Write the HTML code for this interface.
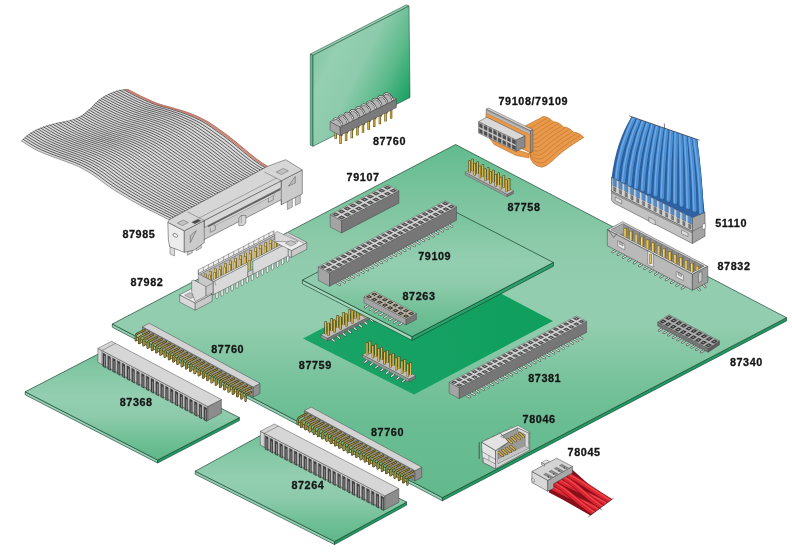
<!DOCTYPE html>
<html><head><meta charset="utf-8"><title>Connectors</title>
<style>
html,body{margin:0;padding:0;background:#fff;}
body{width:792px;height:558px;overflow:hidden;}
svg{display:block;}
text{font-family:"Liberation Sans",sans-serif;font-weight:bold;font-size:10.8px;letter-spacing:0.6px;fill:#151515;stroke:#151515;stroke-width:0.3px;}
</style></head><body>
<svg width="792" height="558" viewBox="0 0 792 558">
<defs><linearGradient id="gMain" gradientUnits="userSpaceOnUse" x1="0" y1="145.0" x2="0" y2="497.0"><stop offset="0.000" stop-color="#62bb8e"/><stop offset="0.156" stop-color="#7cc49f"/><stop offset="0.276" stop-color="#8ccaaa"/><stop offset="0.412" stop-color="#93cdb0"/><stop offset="0.511" stop-color="#92cdaf"/><stop offset="0.554" stop-color="#8bcaa9"/><stop offset="0.673" stop-color="#77c29b"/><stop offset="0.781" stop-color="#6abd93"/><stop offset="1.000" stop-color="#62b98c"/></linearGradient><linearGradient id="gSub" gradientUnits="userSpaceOnUse" x1="0" y1="206.0" x2="0" y2="337.0"><stop offset="0.000" stop-color="#70c098"/><stop offset="0.200" stop-color="#84c8a5"/><stop offset="0.420" stop-color="#93ceb1"/><stop offset="0.600" stop-color="#8dcbac"/><stop offset="0.800" stop-color="#72c097"/><stop offset="1.000" stop-color="#5eb78a"/></linearGradient><linearGradient id="gS1" gradientUnits="userSpaceOnUse" x1="0" y1="350.0" x2="0" y2="460.0"><stop offset="0.000" stop-color="#70c098"/><stop offset="0.200" stop-color="#84c8a5"/><stop offset="0.420" stop-color="#93ceb1"/><stop offset="0.600" stop-color="#8dcbac"/><stop offset="0.800" stop-color="#72c097"/><stop offset="1.000" stop-color="#5eb78a"/></linearGradient><linearGradient id="gS2" gradientUnits="userSpaceOnUse" x1="0" y1="432.0" x2="0" y2="541.5"><stop offset="0.000" stop-color="#70c098"/><stop offset="0.200" stop-color="#84c8a5"/><stop offset="0.420" stop-color="#93ceb1"/><stop offset="0.600" stop-color="#8dcbac"/><stop offset="0.800" stop-color="#72c097"/><stop offset="1.000" stop-color="#5eb78a"/></linearGradient><linearGradient id="gVert" gradientUnits="userSpaceOnUse" x1="313" y1="55" x2="408.4" y2="101.6">
<stop offset="0" stop-color="#84c8a5"/><stop offset="0.17" stop-color="#94cfb2"/><stop offset="0.45" stop-color="#8dcbac"/><stop offset="0.72" stop-color="#5cba8b"/><stop offset="1" stop-color="#18a061"/>
</linearGradient>
<linearGradient id="gDark" gradientUnits="userSpaceOnUse" x1="303" y1="340" x2="553" y2="320">
<stop offset="0" stop-color="#1aa467"/><stop offset="1" stop-color="#0f9e5e"/>
</linearGradient>
</defs>
<polygon points="310.3,54.0 313.0,55.3 313.0,146.3 310.3,145.0" fill="#62ba8d" stroke="#1c4634" stroke-width="0.5" stroke-linejoin="round"/>
<polygon points="310.3,54.0 406.3,4.8 409.0,6.0 313.0,55.3" fill="#8fceae" stroke="#1c4634" stroke-width="0.5" stroke-linejoin="round"/>
<polygon points="313.0,55.3 409.0,6.0 410.0,97.5 313.0,146.3" fill="url(#gVert)" stroke="#1c4634" stroke-width="0.55" stroke-linejoin="round"/>
<polygon points="112.3,324.0 442.4,497.6 442.4,500.8 112.3,327.2" fill="#93d0b2" stroke="#1c4634" stroke-width="0.65" stroke-linejoin="round"/>
<polygon points="442.4,497.6 786.5,317.7 786.5,320.9 442.4,500.8" fill="#1f9c62" stroke="#1c4634" stroke-width="0.65" stroke-linejoin="round"/>
<polygon points="112.3,324.0 455.6,144.5 786.5,317.7 442.4,497.6" fill="url(#gMain)" stroke="#1c4634" stroke-width="0.7" stroke-linejoin="round"/>
<polygon points="465.2,172.2 507.2,194.2 507.2,196.8 465.2,174.8" fill="#9a9a9a" stroke="#444" stroke-width="0.35" stroke-linejoin="round"/>
<polygon points="507.2,194.2 513.5,190.9 513.5,193.5 507.2,196.8" fill="#777" stroke="#444" stroke-width="0.35" stroke-linejoin="round"/>
<polygon points="465.2,172.2 507.2,194.2 513.5,190.9 471.5,168.9" fill="#bdbdbd" stroke="#444" stroke-width="0.35" stroke-linejoin="round"/>
<rect x="471.1" y="158.7" width="2.5" height="12.5" rx="0.7" fill="#463a10"/>
<rect x="471.6" y="159.2" width="1.5" height="12.0" fill="#bd9f38"/>
<rect x="471.7" y="159.6" width="0.6" height="11.1" fill="#e9d377"/>
<rect x="476.4" y="161.5" width="2.5" height="12.5" rx="0.7" fill="#463a10"/>
<rect x="476.8" y="162.0" width="1.5" height="12.0" fill="#bd9f38"/>
<rect x="477.0" y="162.4" width="0.6" height="11.1" fill="#e9d377"/>
<rect x="481.6" y="164.2" width="2.5" height="12.5" rx="0.7" fill="#463a10"/>
<rect x="482.1" y="164.7" width="1.5" height="12.0" fill="#bd9f38"/>
<rect x="482.2" y="165.1" width="0.6" height="11.1" fill="#e9d377"/>
<rect x="486.9" y="167.0" width="2.5" height="12.5" rx="0.7" fill="#463a10"/>
<rect x="487.3" y="167.5" width="1.5" height="12.0" fill="#bd9f38"/>
<rect x="487.5" y="167.9" width="0.6" height="11.1" fill="#e9d377"/>
<rect x="492.1" y="169.7" width="2.5" height="12.5" rx="0.7" fill="#463a10"/>
<rect x="492.6" y="170.2" width="1.5" height="12.0" fill="#bd9f38"/>
<rect x="492.7" y="170.6" width="0.6" height="11.1" fill="#e9d377"/>
<rect x="497.4" y="172.5" width="2.5" height="12.5" rx="0.7" fill="#463a10"/>
<rect x="497.8" y="173.0" width="1.5" height="12.0" fill="#bd9f38"/>
<rect x="498.0" y="173.4" width="0.6" height="11.1" fill="#e9d377"/>
<rect x="502.6" y="175.2" width="2.5" height="12.5" rx="0.7" fill="#463a10"/>
<rect x="503.1" y="175.7" width="1.5" height="12.0" fill="#bd9f38"/>
<rect x="503.2" y="176.1" width="0.6" height="11.1" fill="#e9d377"/>
<rect x="507.9" y="178.0" width="2.5" height="12.5" rx="0.7" fill="#463a10"/>
<rect x="508.3" y="178.5" width="1.5" height="12.0" fill="#bd9f38"/>
<rect x="508.5" y="178.9" width="0.6" height="11.1" fill="#e9d377"/>
<rect x="468.3" y="160.2" width="2.5" height="12.5" rx="0.7" fill="#463a10"/>
<rect x="468.8" y="160.7" width="1.5" height="12.0" fill="#bd9f38"/>
<rect x="468.9" y="161.1" width="0.6" height="11.1" fill="#e9d377"/>
<rect x="473.6" y="162.9" width="2.5" height="12.5" rx="0.7" fill="#463a10"/>
<rect x="474.0" y="163.4" width="1.5" height="12.0" fill="#bd9f38"/>
<rect x="474.2" y="163.8" width="0.6" height="11.1" fill="#e9d377"/>
<rect x="478.8" y="165.7" width="2.5" height="12.5" rx="0.7" fill="#463a10"/>
<rect x="479.3" y="166.2" width="1.5" height="12.0" fill="#bd9f38"/>
<rect x="479.4" y="166.6" width="0.6" height="11.1" fill="#e9d377"/>
<rect x="484.1" y="168.4" width="2.5" height="12.5" rx="0.7" fill="#463a10"/>
<rect x="484.5" y="168.9" width="1.5" height="12.0" fill="#bd9f38"/>
<rect x="484.7" y="169.3" width="0.6" height="11.1" fill="#e9d377"/>
<rect x="489.3" y="171.2" width="2.5" height="12.5" rx="0.7" fill="#463a10"/>
<rect x="489.8" y="171.7" width="1.5" height="12.0" fill="#bd9f38"/>
<rect x="489.9" y="172.1" width="0.6" height="11.1" fill="#e9d377"/>
<rect x="494.6" y="173.9" width="2.5" height="12.5" rx="0.7" fill="#463a10"/>
<rect x="495.0" y="174.4" width="1.5" height="12.0" fill="#bd9f38"/>
<rect x="495.2" y="174.8" width="0.6" height="11.1" fill="#e9d377"/>
<rect x="499.8" y="176.7" width="2.5" height="12.5" rx="0.7" fill="#463a10"/>
<rect x="500.3" y="177.2" width="1.5" height="12.0" fill="#bd9f38"/>
<rect x="500.4" y="177.6" width="0.6" height="11.1" fill="#e9d377"/>
<rect x="505.1" y="179.4" width="2.5" height="12.5" rx="0.7" fill="#463a10"/>
<rect x="505.5" y="179.9" width="1.5" height="12.0" fill="#bd9f38"/>
<rect x="505.7" y="180.3" width="0.6" height="11.1" fill="#e9d377"/>
<polygon points="330.2,214.5 341.6,220.5 341.6,233.0 330.2,227.0" fill="#a4a4a4" stroke="#3a3a3a" stroke-width="0.4" stroke-linejoin="round"/>
<polygon points="341.6,220.5 398.9,190.7 398.9,203.2 341.6,233.0" fill="#767676" stroke="#3a3a3a" stroke-width="0.4" stroke-linejoin="round"/>
<polygon points="330.2,214.5 341.6,220.5 398.9,190.7 387.5,184.7" fill="#c2c2c2" stroke="#3a3a3a" stroke-width="0.4" stroke-linejoin="round"/>
<path d="M332.1,214.5L335.9,216.5L339.7,214.5L335.9,212.5ZM337.8,217.5L341.6,219.5L345.4,217.5L341.6,215.5ZM337.9,211.5L341.6,213.5L345.4,211.5L341.7,209.6ZM343.6,214.5L347.3,216.5L351.1,214.5L347.4,212.5ZM343.6,208.5L347.4,210.5L351.1,208.5L347.4,206.6ZM349.3,211.5L353.1,213.5L356.8,211.5L353.1,209.6ZM349.3,205.6L353.1,207.5L356.9,205.6L353.1,203.6ZM355.0,208.5L358.8,210.5L362.6,208.6L358.8,206.6ZM355.1,202.6L358.8,204.6L362.6,202.6L358.8,200.6ZM360.8,205.6L364.5,207.5L368.3,205.6L364.5,203.6ZM360.8,199.6L364.6,201.6L368.3,199.6L364.6,197.6ZM366.5,202.6L370.3,204.6L374.0,202.6L370.3,200.6ZM366.5,196.6L370.3,198.6L374.1,196.6L370.3,194.7ZM372.2,199.6L376.0,201.6L379.8,199.6L376.0,197.6ZM372.3,193.6L376.0,195.6L379.8,193.6L376.0,191.7ZM378.0,196.6L381.7,198.6L385.5,196.6L381.7,194.7ZM378.0,190.7L381.7,192.6L385.5,190.7L381.8,188.7ZM383.7,193.7L387.4,195.6L391.2,193.7L387.5,191.7ZM383.7,187.7L387.5,189.7L391.3,187.7L387.5,185.7ZM389.4,190.7L393.2,192.6L397.0,190.7L393.2,188.7Z" fill="#4c4c4c"/>
<path d="M334.5,214.5L335.9,215.2L337.3,214.5L335.9,213.8ZM340.2,217.5L341.6,218.2L343.0,217.5L341.6,216.8ZM340.3,211.5L341.6,212.2L343.0,211.5L341.6,210.8ZM346.0,214.5L347.3,215.2L348.7,214.5L347.3,213.8ZM346.0,208.5L347.4,209.3L348.7,208.5L347.4,207.8ZM351.7,211.5L353.1,212.2L354.4,211.5L353.1,210.8ZM351.7,205.6L353.1,206.3L354.5,205.6L353.1,204.8ZM357.4,208.6L358.8,209.3L360.2,208.6L358.8,207.8ZM357.5,202.6L358.8,203.3L360.2,202.6L358.8,201.9ZM363.2,205.6L364.5,206.3L365.9,205.6L364.5,204.9ZM363.2,199.6L364.6,200.3L365.9,199.6L364.6,198.9ZM368.9,202.6L370.3,203.3L371.6,202.6L370.3,201.9ZM368.9,196.6L370.3,197.3L371.7,196.6L370.3,195.9ZM374.6,199.6L376.0,200.3L377.4,199.6L376.0,198.9ZM374.7,193.6L376.0,194.4L377.4,193.6L376.0,192.9ZM380.4,196.6L381.7,197.3L383.1,196.6L381.7,195.9ZM380.4,190.7L381.8,191.4L383.1,190.7L381.8,190.0ZM386.1,193.7L387.5,194.4L388.8,193.7L387.5,192.9ZM386.1,187.7L387.5,188.4L388.9,187.7L387.5,187.0ZM391.8,190.7L393.2,191.4L394.6,190.7L393.2,190.0Z" fill="#9c9c9c"/>
<path d="M335.9,211.5L347.3,217.5M341.7,208.5L353.1,214.5M347.4,205.6L358.8,211.5M353.1,202.6L364.5,208.6M358.8,199.6L370.2,205.6M364.6,196.6L376.0,202.6M370.3,193.6L381.7,199.6M376.0,190.7L387.4,196.6M381.8,187.7L393.2,193.7M335.9,217.5L393.2,187.7" fill="none" stroke="#e9e9e9" stroke-width="0.5" stroke-linejoin="round" stroke-linecap="round"/>
<polyline points="662.0,327.0 662.0,328.8 659.0,330.5" fill="none" stroke="#4a4a4a" stroke-width="2.3" stroke-linecap="round" stroke-linejoin="round"/>
<polyline points="662.0,327.0 662.0,328.8 659.0,330.5" fill="none" stroke="#cfcfcf" stroke-width="1.2" stroke-linecap="round" stroke-linejoin="round"/>
<polyline points="666.7,329.4 666.7,331.2 663.7,332.9" fill="none" stroke="#4a4a4a" stroke-width="2.3" stroke-linecap="round" stroke-linejoin="round"/>
<polyline points="666.7,329.4 666.7,331.2 663.7,332.9" fill="none" stroke="#cfcfcf" stroke-width="1.2" stroke-linecap="round" stroke-linejoin="round"/>
<polyline points="671.3,331.8 671.3,333.6 668.3,335.3" fill="none" stroke="#4a4a4a" stroke-width="2.3" stroke-linecap="round" stroke-linejoin="round"/>
<polyline points="671.3,331.8 671.3,333.6 668.3,335.3" fill="none" stroke="#cfcfcf" stroke-width="1.2" stroke-linecap="round" stroke-linejoin="round"/>
<polyline points="676.0,334.2 676.0,336.0 673.0,337.7" fill="none" stroke="#4a4a4a" stroke-width="2.3" stroke-linecap="round" stroke-linejoin="round"/>
<polyline points="676.0,334.2 676.0,336.0 673.0,337.7" fill="none" stroke="#cfcfcf" stroke-width="1.2" stroke-linecap="round" stroke-linejoin="round"/>
<polyline points="680.6,336.6 680.6,338.4 677.6,340.1" fill="none" stroke="#4a4a4a" stroke-width="2.3" stroke-linecap="round" stroke-linejoin="round"/>
<polyline points="680.6,336.6 680.6,338.4 677.6,340.1" fill="none" stroke="#cfcfcf" stroke-width="1.2" stroke-linecap="round" stroke-linejoin="round"/>
<polyline points="685.3,339.0 685.3,340.8 682.3,342.5" fill="none" stroke="#4a4a4a" stroke-width="2.3" stroke-linecap="round" stroke-linejoin="round"/>
<polyline points="685.3,339.0 685.3,340.8 682.3,342.5" fill="none" stroke="#cfcfcf" stroke-width="1.2" stroke-linecap="round" stroke-linejoin="round"/>
<polyline points="689.9,341.5 689.9,343.3 686.9,345.0" fill="none" stroke="#4a4a4a" stroke-width="2.3" stroke-linecap="round" stroke-linejoin="round"/>
<polyline points="689.9,341.5 689.9,343.3 686.9,345.0" fill="none" stroke="#cfcfcf" stroke-width="1.2" stroke-linecap="round" stroke-linejoin="round"/>
<polyline points="694.6,343.9 694.6,345.7 691.6,347.4" fill="none" stroke="#4a4a4a" stroke-width="2.3" stroke-linecap="round" stroke-linejoin="round"/>
<polyline points="694.6,343.9 694.6,345.7 691.6,347.4" fill="none" stroke="#cfcfcf" stroke-width="1.2" stroke-linecap="round" stroke-linejoin="round"/>
<polyline points="699.2,346.3 699.2,348.1 696.2,349.8" fill="none" stroke="#4a4a4a" stroke-width="2.3" stroke-linecap="round" stroke-linejoin="round"/>
<polyline points="699.2,346.3 699.2,348.1 696.2,349.8" fill="none" stroke="#cfcfcf" stroke-width="1.2" stroke-linecap="round" stroke-linejoin="round"/>
<polyline points="703.9,348.7 703.9,350.5 700.9,352.2" fill="none" stroke="#4a4a4a" stroke-width="2.3" stroke-linecap="round" stroke-linejoin="round"/>
<polyline points="703.9,348.7 703.9,350.5 700.9,352.2" fill="none" stroke="#cfcfcf" stroke-width="1.2" stroke-linecap="round" stroke-linejoin="round"/>
<polygon points="657.7,322.1 708.2,348.4 708.2,352.2 657.7,325.9" fill="#777" stroke="#3a3a3a" stroke-width="0.4" stroke-linejoin="round"/>
<polygon points="708.2,348.4 719.5,341.0 719.5,344.8 708.2,352.2" fill="#5c5c5c" stroke="#3a3a3a" stroke-width="0.4" stroke-linejoin="round"/>
<polygon points="657.7,322.1 708.2,348.4 719.5,341.0 669.0,314.8" fill="#9c9c9c" stroke="#3a3a3a" stroke-width="0.4" stroke-linejoin="round"/>
<path d="M659.6,321.9L662.9,323.6L666.5,321.2L663.2,319.6ZM664.7,324.5L667.9,326.2L671.5,323.9L668.3,322.2ZM669.7,327.2L673.0,328.8L676.6,326.5L673.3,324.8ZM674.8,329.8L678.0,331.5L681.6,329.1L678.4,327.4ZM679.8,332.4L683.1,334.1L686.7,331.7L683.4,330.1ZM684.9,335.0L688.1,336.7L691.7,334.4L688.5,332.7ZM689.9,337.7L693.2,339.3L696.8,337.0L693.5,335.3ZM695.0,340.3L698.2,342.0L701.8,339.6L698.6,337.9ZM700.0,342.9L703.3,344.6L706.9,342.2L703.6,340.6ZM705.1,345.5L708.3,347.2L711.9,344.9L708.7,343.2ZM665.3,318.2L668.5,319.9L672.1,317.6L668.9,315.9ZM670.3,320.9L673.6,322.5L677.2,320.2L673.9,318.5ZM675.4,323.5L678.6,325.2L682.2,322.8L679.0,321.1ZM680.4,326.1L683.7,327.8L687.3,325.4L684.0,323.8ZM685.5,328.7L688.7,330.4L692.3,328.1L689.1,326.4ZM690.5,331.4L693.8,333.0L697.4,330.7L694.1,329.0ZM695.6,334.0L698.8,335.7L702.4,333.3L699.2,331.6ZM700.6,336.6L703.9,338.3L707.5,336.0L704.2,334.3ZM705.7,339.2L708.9,340.9L712.5,338.6L709.3,336.9ZM710.7,341.9L714.0,343.6L717.6,341.2L714.3,339.5Z" fill="#363636"/>
<path d="M661.8,321.7L663.0,322.3L664.3,321.5L663.1,320.8ZM666.8,324.3L668.0,325.0L669.4,324.1L668.2,323.4ZM671.9,327.0L673.1,327.6L674.4,326.7L673.2,326.1ZM676.9,329.6L678.1,330.2L679.5,329.3L678.3,328.7ZM682.0,332.2L683.2,332.8L684.5,332.0L683.3,331.3ZM687.0,334.8L688.2,335.5L689.6,334.6L688.4,334.0ZM692.1,337.5L693.3,338.1L694.6,337.2L693.4,336.6ZM697.1,340.1L698.3,340.7L699.7,339.8L698.5,339.2ZM702.2,342.7L703.4,343.3L704.7,342.5L703.5,341.8ZM707.2,345.3L708.4,346.0L709.8,345.1L708.6,344.5ZM667.4,318.0L668.6,318.7L670.0,317.8L668.8,317.1ZM672.5,320.7L673.7,321.3L675.0,320.4L673.8,319.8ZM677.5,323.3L678.7,323.9L680.1,323.0L678.9,322.4ZM682.6,325.9L683.8,326.5L685.1,325.7L683.9,325.0ZM687.6,328.5L688.8,329.2L690.2,328.3L689.0,327.7ZM692.7,331.2L693.9,331.8L695.2,330.9L694.0,330.3ZM697.7,333.8L698.9,334.4L700.3,333.5L699.1,332.9ZM702.8,336.4L704.0,337.0L705.3,336.2L704.1,335.5ZM707.8,339.0L709.0,339.7L710.4,338.8L709.2,338.2ZM712.9,341.7L714.1,342.3L715.4,341.4L714.2,340.8Z" fill="#9c9c9c"/>
<path d="M663.4,318.4L713.9,344.7M662.8,324.7L674.0,317.4M667.8,327.4L679.1,320.0M672.9,330.0L684.1,322.6M677.9,332.6L689.2,325.3M683.0,335.2L694.2,327.9M688.0,337.9L699.3,330.5M693.1,340.5L704.4,333.1M698.1,343.1L709.4,335.8M703.2,345.7L714.5,338.4" fill="none" stroke="#c4c4c4" stroke-width="0.5" stroke-linejoin="round" stroke-linecap="round"/>
<polygon points="303.0,338.5 445.0,264.0 553.0,321.0 414.0,394.5" fill="url(#gDark)"/>
<polyline points="332.0,337.4 332.0,339.2 334.2,341.0" fill="none" stroke="#4a4a4a" stroke-width="2.3" stroke-linecap="round" stroke-linejoin="round"/>
<polyline points="332.0,337.4 332.0,339.2 334.2,341.0" fill="none" stroke="#e4e4e4" stroke-width="1.2" stroke-linecap="round" stroke-linejoin="round"/>
<polyline points="337.5,334.6 337.5,336.4 339.7,338.2" fill="none" stroke="#4a4a4a" stroke-width="2.3" stroke-linecap="round" stroke-linejoin="round"/>
<polyline points="337.5,334.6 337.5,336.4 339.7,338.2" fill="none" stroke="#e4e4e4" stroke-width="1.2" stroke-linecap="round" stroke-linejoin="round"/>
<polyline points="343.0,331.7 343.0,333.5 345.2,335.3" fill="none" stroke="#4a4a4a" stroke-width="2.3" stroke-linecap="round" stroke-linejoin="round"/>
<polyline points="343.0,331.7 343.0,333.5 345.2,335.3" fill="none" stroke="#e4e4e4" stroke-width="1.2" stroke-linecap="round" stroke-linejoin="round"/>
<polyline points="348.4,328.9 348.4,330.7 350.6,332.5" fill="none" stroke="#4a4a4a" stroke-width="2.3" stroke-linecap="round" stroke-linejoin="round"/>
<polyline points="348.4,328.9 348.4,330.7 350.6,332.5" fill="none" stroke="#e4e4e4" stroke-width="1.2" stroke-linecap="round" stroke-linejoin="round"/>
<polyline points="353.9,326.0 353.9,327.8 356.1,329.6" fill="none" stroke="#4a4a4a" stroke-width="2.3" stroke-linecap="round" stroke-linejoin="round"/>
<polyline points="353.9,326.0 353.9,327.8 356.1,329.6" fill="none" stroke="#e4e4e4" stroke-width="1.2" stroke-linecap="round" stroke-linejoin="round"/>
<polyline points="359.3,323.2 359.3,325.0 361.5,326.8" fill="none" stroke="#4a4a4a" stroke-width="2.3" stroke-linecap="round" stroke-linejoin="round"/>
<polyline points="359.3,323.2 359.3,325.0 361.5,326.8" fill="none" stroke="#e4e4e4" stroke-width="1.2" stroke-linecap="round" stroke-linejoin="round"/>
<polyline points="364.8,320.4 364.8,322.2 367.0,324.0" fill="none" stroke="#4a4a4a" stroke-width="2.3" stroke-linecap="round" stroke-linejoin="round"/>
<polyline points="364.8,320.4 364.8,322.2 367.0,324.0" fill="none" stroke="#e4e4e4" stroke-width="1.2" stroke-linecap="round" stroke-linejoin="round"/>
<polyline points="370.3,317.5 370.3,319.3 372.5,321.1" fill="none" stroke="#4a4a4a" stroke-width="2.3" stroke-linecap="round" stroke-linejoin="round"/>
<polyline points="370.3,317.5 370.3,319.3 372.5,321.1" fill="none" stroke="#e4e4e4" stroke-width="1.2" stroke-linecap="round" stroke-linejoin="round"/>
<polygon points="320.9,334.8 327.4,338.2 327.4,341.0 320.9,337.6" fill="#9a9a9a" stroke="#444" stroke-width="0.35" stroke-linejoin="round"/>
<polygon points="327.4,338.2 374.9,313.5 374.9,316.3 327.4,341.0" fill="#777" stroke="#444" stroke-width="0.35" stroke-linejoin="round"/>
<polygon points="320.9,334.8 327.4,338.2 374.9,313.5 368.4,310.1" fill="#bdbdbd" stroke="#444" stroke-width="0.35" stroke-linejoin="round"/>
<rect x="366.0" y="299.6" width="2.5" height="13.0" rx="0.7" fill="#463a10"/>
<rect x="366.5" y="300.1" width="1.5" height="12.5" fill="#bd9f38"/>
<rect x="366.6" y="300.5" width="0.6" height="11.6" fill="#e9d377"/>
<rect x="360.1" y="302.7" width="2.5" height="13.0" rx="0.7" fill="#463a10"/>
<rect x="360.5" y="303.2" width="1.5" height="12.5" fill="#bd9f38"/>
<rect x="360.7" y="303.6" width="0.6" height="11.6" fill="#e9d377"/>
<rect x="354.1" y="305.8" width="2.5" height="13.0" rx="0.7" fill="#463a10"/>
<rect x="354.6" y="306.3" width="1.5" height="12.5" fill="#bd9f38"/>
<rect x="354.7" y="306.7" width="0.6" height="11.6" fill="#e9d377"/>
<rect x="348.2" y="308.9" width="2.5" height="13.0" rx="0.7" fill="#463a10"/>
<rect x="348.6" y="309.4" width="1.5" height="12.5" fill="#bd9f38"/>
<rect x="348.8" y="309.8" width="0.6" height="11.6" fill="#e9d377"/>
<rect x="342.3" y="311.9" width="2.5" height="13.0" rx="0.7" fill="#463a10"/>
<rect x="342.7" y="312.4" width="1.5" height="12.5" fill="#bd9f38"/>
<rect x="342.9" y="312.8" width="0.6" height="11.6" fill="#e9d377"/>
<rect x="336.3" y="315.0" width="2.5" height="13.0" rx="0.7" fill="#463a10"/>
<rect x="336.8" y="315.5" width="1.5" height="12.5" fill="#bd9f38"/>
<rect x="336.9" y="315.9" width="0.6" height="11.6" fill="#e9d377"/>
<rect x="330.4" y="318.1" width="2.5" height="13.0" rx="0.7" fill="#463a10"/>
<rect x="330.8" y="318.6" width="1.5" height="12.5" fill="#bd9f38"/>
<rect x="331.0" y="319.0" width="0.6" height="11.6" fill="#e9d377"/>
<rect x="324.4" y="321.2" width="2.5" height="13.0" rx="0.7" fill="#463a10"/>
<rect x="324.9" y="321.7" width="1.5" height="12.5" fill="#bd9f38"/>
<rect x="325.0" y="322.1" width="0.6" height="11.6" fill="#e9d377"/>
<rect x="368.9" y="301.1" width="2.5" height="13.0" rx="0.7" fill="#463a10"/>
<rect x="369.3" y="301.6" width="1.5" height="12.5" fill="#bd9f38"/>
<rect x="369.5" y="302.0" width="0.6" height="11.6" fill="#e9d377"/>
<rect x="362.9" y="304.2" width="2.5" height="13.0" rx="0.7" fill="#463a10"/>
<rect x="363.4" y="304.7" width="1.5" height="12.5" fill="#bd9f38"/>
<rect x="363.5" y="305.1" width="0.6" height="11.6" fill="#e9d377"/>
<rect x="357.0" y="307.3" width="2.5" height="13.0" rx="0.7" fill="#463a10"/>
<rect x="357.4" y="307.8" width="1.5" height="12.5" fill="#bd9f38"/>
<rect x="357.6" y="308.2" width="0.6" height="11.6" fill="#e9d377"/>
<rect x="351.0" y="310.4" width="2.5" height="13.0" rx="0.7" fill="#463a10"/>
<rect x="351.5" y="310.9" width="1.5" height="12.5" fill="#bd9f38"/>
<rect x="351.6" y="311.3" width="0.6" height="11.6" fill="#e9d377"/>
<rect x="345.1" y="313.4" width="2.5" height="13.0" rx="0.7" fill="#463a10"/>
<rect x="345.6" y="313.9" width="1.5" height="12.5" fill="#bd9f38"/>
<rect x="345.7" y="314.3" width="0.6" height="11.6" fill="#e9d377"/>
<rect x="339.2" y="316.5" width="2.5" height="13.0" rx="0.7" fill="#463a10"/>
<rect x="339.6" y="317.0" width="1.5" height="12.5" fill="#bd9f38"/>
<rect x="339.8" y="317.4" width="0.6" height="11.6" fill="#e9d377"/>
<rect x="333.2" y="319.6" width="2.5" height="13.0" rx="0.7" fill="#463a10"/>
<rect x="333.7" y="320.1" width="1.5" height="12.5" fill="#bd9f38"/>
<rect x="333.8" y="320.5" width="0.6" height="11.6" fill="#e9d377"/>
<rect x="327.3" y="322.7" width="2.5" height="13.0" rx="0.7" fill="#463a10"/>
<rect x="327.7" y="323.2" width="1.5" height="12.5" fill="#bd9f38"/>
<rect x="327.9" y="323.6" width="0.6" height="11.6" fill="#e9d377"/>
<polyline points="367.0,358.7 367.0,360.5 364.8,362.3" fill="none" stroke="#4a4a4a" stroke-width="2.3" stroke-linecap="round" stroke-linejoin="round"/>
<polyline points="367.0,358.7 367.0,360.5 364.8,362.3" fill="none" stroke="#e4e4e4" stroke-width="1.2" stroke-linecap="round" stroke-linejoin="round"/>
<polyline points="372.4,361.5 372.4,363.3 370.2,365.1" fill="none" stroke="#4a4a4a" stroke-width="2.3" stroke-linecap="round" stroke-linejoin="round"/>
<polyline points="372.4,361.5 372.4,363.3 370.2,365.1" fill="none" stroke="#e4e4e4" stroke-width="1.2" stroke-linecap="round" stroke-linejoin="round"/>
<polyline points="377.7,364.3 377.7,366.1 375.5,367.9" fill="none" stroke="#4a4a4a" stroke-width="2.3" stroke-linecap="round" stroke-linejoin="round"/>
<polyline points="377.7,364.3 377.7,366.1 375.5,367.9" fill="none" stroke="#e4e4e4" stroke-width="1.2" stroke-linecap="round" stroke-linejoin="round"/>
<polyline points="383.1,367.1 383.1,368.9 380.9,370.7" fill="none" stroke="#4a4a4a" stroke-width="2.3" stroke-linecap="round" stroke-linejoin="round"/>
<polyline points="383.1,367.1 383.1,368.9 380.9,370.7" fill="none" stroke="#e4e4e4" stroke-width="1.2" stroke-linecap="round" stroke-linejoin="round"/>
<polyline points="388.4,369.9 388.4,371.7 386.2,373.5" fill="none" stroke="#4a4a4a" stroke-width="2.3" stroke-linecap="round" stroke-linejoin="round"/>
<polyline points="388.4,369.9 388.4,371.7 386.2,373.5" fill="none" stroke="#e4e4e4" stroke-width="1.2" stroke-linecap="round" stroke-linejoin="round"/>
<polyline points="393.8,372.7 393.8,374.5 391.6,376.3" fill="none" stroke="#4a4a4a" stroke-width="2.3" stroke-linecap="round" stroke-linejoin="round"/>
<polyline points="393.8,372.7 393.8,374.5 391.6,376.3" fill="none" stroke="#e4e4e4" stroke-width="1.2" stroke-linecap="round" stroke-linejoin="round"/>
<polyline points="399.1,375.5 399.1,377.3 396.9,379.1" fill="none" stroke="#4a4a4a" stroke-width="2.3" stroke-linecap="round" stroke-linejoin="round"/>
<polyline points="399.1,375.5 399.1,377.3 396.9,379.1" fill="none" stroke="#e4e4e4" stroke-width="1.2" stroke-linecap="round" stroke-linejoin="round"/>
<polyline points="404.5,378.3 404.5,380.1 402.3,381.9" fill="none" stroke="#4a4a4a" stroke-width="2.3" stroke-linecap="round" stroke-linejoin="round"/>
<polyline points="404.5,378.3 404.5,380.1 402.3,381.9" fill="none" stroke="#e4e4e4" stroke-width="1.2" stroke-linecap="round" stroke-linejoin="round"/>
<polygon points="362.5,354.7 409.0,379.1 409.0,381.9 362.5,357.5" fill="#9a9a9a" stroke="#444" stroke-width="0.35" stroke-linejoin="round"/>
<polygon points="409.0,379.1 415.5,375.7 415.5,378.5 409.0,381.9" fill="#777" stroke="#444" stroke-width="0.35" stroke-linejoin="round"/>
<polygon points="362.5,354.7 409.0,379.1 415.5,375.7 369.0,351.3" fill="#bdbdbd" stroke="#444" stroke-width="0.35" stroke-linejoin="round"/>
<rect x="368.8" y="340.8" width="2.5" height="13.0" rx="0.7" fill="#463a10"/>
<rect x="369.3" y="341.3" width="1.5" height="12.5" fill="#bd9f38"/>
<rect x="369.4" y="341.7" width="0.6" height="11.6" fill="#e9d377"/>
<rect x="374.6" y="343.8" width="2.5" height="13.0" rx="0.7" fill="#463a10"/>
<rect x="375.1" y="344.3" width="1.5" height="12.5" fill="#bd9f38"/>
<rect x="375.2" y="344.7" width="0.6" height="11.6" fill="#e9d377"/>
<rect x="380.5" y="346.9" width="2.5" height="13.0" rx="0.7" fill="#463a10"/>
<rect x="380.9" y="347.4" width="1.5" height="12.5" fill="#bd9f38"/>
<rect x="381.1" y="347.8" width="0.6" height="11.6" fill="#e9d377"/>
<rect x="386.3" y="349.9" width="2.5" height="13.0" rx="0.7" fill="#463a10"/>
<rect x="386.7" y="350.4" width="1.5" height="12.5" fill="#bd9f38"/>
<rect x="386.9" y="350.8" width="0.6" height="11.6" fill="#e9d377"/>
<rect x="392.1" y="353.0" width="2.5" height="13.0" rx="0.7" fill="#463a10"/>
<rect x="392.5" y="353.5" width="1.5" height="12.5" fill="#bd9f38"/>
<rect x="392.7" y="353.9" width="0.6" height="11.6" fill="#e9d377"/>
<rect x="397.9" y="356.0" width="2.5" height="13.0" rx="0.7" fill="#463a10"/>
<rect x="398.3" y="356.5" width="1.5" height="12.5" fill="#bd9f38"/>
<rect x="398.5" y="356.9" width="0.6" height="11.6" fill="#e9d377"/>
<rect x="403.7" y="359.1" width="2.5" height="13.0" rx="0.7" fill="#463a10"/>
<rect x="404.2" y="359.6" width="1.5" height="12.5" fill="#bd9f38"/>
<rect x="404.3" y="360.0" width="0.6" height="11.6" fill="#e9d377"/>
<rect x="409.5" y="362.1" width="2.5" height="13.0" rx="0.7" fill="#463a10"/>
<rect x="410.0" y="362.6" width="1.5" height="12.5" fill="#bd9f38"/>
<rect x="410.1" y="363.0" width="0.6" height="11.6" fill="#e9d377"/>
<rect x="366.0" y="342.3" width="2.5" height="13.0" rx="0.7" fill="#463a10"/>
<rect x="366.4" y="342.8" width="1.5" height="12.5" fill="#bd9f38"/>
<rect x="366.6" y="343.2" width="0.6" height="11.6" fill="#e9d377"/>
<rect x="371.8" y="345.3" width="2.5" height="13.0" rx="0.7" fill="#463a10"/>
<rect x="372.2" y="345.8" width="1.5" height="12.5" fill="#bd9f38"/>
<rect x="372.4" y="346.2" width="0.6" height="11.6" fill="#e9d377"/>
<rect x="377.6" y="348.4" width="2.5" height="13.0" rx="0.7" fill="#463a10"/>
<rect x="378.1" y="348.9" width="1.5" height="12.5" fill="#bd9f38"/>
<rect x="378.2" y="349.3" width="0.6" height="11.6" fill="#e9d377"/>
<rect x="383.4" y="351.4" width="2.5" height="13.0" rx="0.7" fill="#463a10"/>
<rect x="383.9" y="351.9" width="1.5" height="12.5" fill="#bd9f38"/>
<rect x="384.0" y="352.3" width="0.6" height="11.6" fill="#e9d377"/>
<rect x="389.2" y="354.5" width="2.5" height="13.0" rx="0.7" fill="#463a10"/>
<rect x="389.7" y="355.0" width="1.5" height="12.5" fill="#bd9f38"/>
<rect x="389.8" y="355.4" width="0.6" height="11.6" fill="#e9d377"/>
<rect x="395.0" y="357.5" width="2.5" height="13.0" rx="0.7" fill="#463a10"/>
<rect x="395.5" y="358.0" width="1.5" height="12.5" fill="#bd9f38"/>
<rect x="395.6" y="358.4" width="0.6" height="11.6" fill="#e9d377"/>
<rect x="400.9" y="360.6" width="2.5" height="13.0" rx="0.7" fill="#463a10"/>
<rect x="401.3" y="361.1" width="1.5" height="12.5" fill="#bd9f38"/>
<rect x="401.5" y="361.5" width="0.6" height="11.6" fill="#e9d377"/>
<rect x="406.7" y="363.6" width="2.5" height="13.0" rx="0.7" fill="#463a10"/>
<rect x="407.1" y="364.1" width="1.5" height="12.5" fill="#bd9f38"/>
<rect x="407.3" y="364.5" width="0.6" height="11.6" fill="#e9d377"/>
<polygon points="302.4,280.1 412.0,336.7 412.0,340.4 302.4,283.8" fill="#a2d6ba" stroke="#173f2d" stroke-width="0.65" stroke-linejoin="round"/>
<polygon points="412.0,336.7 553.4,262.5 553.4,266.2 412.0,340.4" fill="#27a36b" stroke="#173f2d" stroke-width="0.65" stroke-linejoin="round"/>
<polygon points="302.4,280.1 444.0,206.0 553.4,262.5 412.0,336.7" fill="url(#gSub)" stroke="#173f2d" stroke-width="0.7" stroke-linejoin="round"/>
<polyline points="336.9,281.3 336.9,283.1 339.9,284.8" fill="none" stroke="#4a4a4a" stroke-width="2.3" stroke-linecap="round" stroke-linejoin="round"/>
<polyline points="336.9,281.3 336.9,283.1 339.9,284.8" fill="none" stroke="#e4e4e4" stroke-width="1.2" stroke-linecap="round" stroke-linejoin="round"/>
<polyline points="341.6,278.8 341.6,280.6 344.6,282.3" fill="none" stroke="#4a4a4a" stroke-width="2.3" stroke-linecap="round" stroke-linejoin="round"/>
<polyline points="341.6,278.8 341.6,280.6 344.6,282.3" fill="none" stroke="#e4e4e4" stroke-width="1.2" stroke-linecap="round" stroke-linejoin="round"/>
<polyline points="346.3,276.4 346.3,278.2 349.3,279.9" fill="none" stroke="#4a4a4a" stroke-width="2.3" stroke-linecap="round" stroke-linejoin="round"/>
<polyline points="346.3,276.4 346.3,278.2 349.3,279.9" fill="none" stroke="#e4e4e4" stroke-width="1.2" stroke-linecap="round" stroke-linejoin="round"/>
<polyline points="350.9,274.0 350.9,275.8 353.9,277.5" fill="none" stroke="#4a4a4a" stroke-width="2.3" stroke-linecap="round" stroke-linejoin="round"/>
<polyline points="350.9,274.0 350.9,275.8 353.9,277.5" fill="none" stroke="#e4e4e4" stroke-width="1.2" stroke-linecap="round" stroke-linejoin="round"/>
<polyline points="355.6,271.5 355.6,273.3 358.6,275.0" fill="none" stroke="#4a4a4a" stroke-width="2.3" stroke-linecap="round" stroke-linejoin="round"/>
<polyline points="355.6,271.5 355.6,273.3 358.6,275.0" fill="none" stroke="#e4e4e4" stroke-width="1.2" stroke-linecap="round" stroke-linejoin="round"/>
<polyline points="360.3,269.1 360.3,270.9 363.3,272.6" fill="none" stroke="#4a4a4a" stroke-width="2.3" stroke-linecap="round" stroke-linejoin="round"/>
<polyline points="360.3,269.1 360.3,270.9 363.3,272.6" fill="none" stroke="#e4e4e4" stroke-width="1.2" stroke-linecap="round" stroke-linejoin="round"/>
<polyline points="365.0,266.7 365.0,268.5 368.0,270.2" fill="none" stroke="#4a4a4a" stroke-width="2.3" stroke-linecap="round" stroke-linejoin="round"/>
<polyline points="365.0,266.7 365.0,268.5 368.0,270.2" fill="none" stroke="#e4e4e4" stroke-width="1.2" stroke-linecap="round" stroke-linejoin="round"/>
<polyline points="369.6,264.3 369.6,266.1 372.6,267.8" fill="none" stroke="#4a4a4a" stroke-width="2.3" stroke-linecap="round" stroke-linejoin="round"/>
<polyline points="369.6,264.3 369.6,266.1 372.6,267.8" fill="none" stroke="#e4e4e4" stroke-width="1.2" stroke-linecap="round" stroke-linejoin="round"/>
<polyline points="374.3,261.8 374.3,263.6 377.3,265.3" fill="none" stroke="#4a4a4a" stroke-width="2.3" stroke-linecap="round" stroke-linejoin="round"/>
<polyline points="374.3,261.8 374.3,263.6 377.3,265.3" fill="none" stroke="#e4e4e4" stroke-width="1.2" stroke-linecap="round" stroke-linejoin="round"/>
<polyline points="379.0,259.4 379.0,261.2 382.0,262.9" fill="none" stroke="#4a4a4a" stroke-width="2.3" stroke-linecap="round" stroke-linejoin="round"/>
<polyline points="379.0,259.4 379.0,261.2 382.0,262.9" fill="none" stroke="#e4e4e4" stroke-width="1.2" stroke-linecap="round" stroke-linejoin="round"/>
<polyline points="383.7,257.0 383.7,258.8 386.7,260.5" fill="none" stroke="#4a4a4a" stroke-width="2.3" stroke-linecap="round" stroke-linejoin="round"/>
<polyline points="383.7,257.0 383.7,258.8 386.7,260.5" fill="none" stroke="#e4e4e4" stroke-width="1.2" stroke-linecap="round" stroke-linejoin="round"/>
<polyline points="388.3,254.5 388.3,256.3 391.3,258.0" fill="none" stroke="#4a4a4a" stroke-width="2.3" stroke-linecap="round" stroke-linejoin="round"/>
<polyline points="388.3,254.5 388.3,256.3 391.3,258.0" fill="none" stroke="#e4e4e4" stroke-width="1.2" stroke-linecap="round" stroke-linejoin="round"/>
<polyline points="393.0,252.1 393.0,253.9 396.0,255.6" fill="none" stroke="#4a4a4a" stroke-width="2.3" stroke-linecap="round" stroke-linejoin="round"/>
<polyline points="393.0,252.1 393.0,253.9 396.0,255.6" fill="none" stroke="#e4e4e4" stroke-width="1.2" stroke-linecap="round" stroke-linejoin="round"/>
<polyline points="397.7,249.7 397.7,251.5 400.7,253.2" fill="none" stroke="#4a4a4a" stroke-width="2.3" stroke-linecap="round" stroke-linejoin="round"/>
<polyline points="397.7,249.7 397.7,251.5 400.7,253.2" fill="none" stroke="#e4e4e4" stroke-width="1.2" stroke-linecap="round" stroke-linejoin="round"/>
<polyline points="402.3,247.2 402.3,249.0 405.3,250.7" fill="none" stroke="#4a4a4a" stroke-width="2.3" stroke-linecap="round" stroke-linejoin="round"/>
<polyline points="402.3,247.2 402.3,249.0 405.3,250.7" fill="none" stroke="#e4e4e4" stroke-width="1.2" stroke-linecap="round" stroke-linejoin="round"/>
<polyline points="407.0,244.8 407.0,246.6 410.0,248.3" fill="none" stroke="#4a4a4a" stroke-width="2.3" stroke-linecap="round" stroke-linejoin="round"/>
<polyline points="407.0,244.8 407.0,246.6 410.0,248.3" fill="none" stroke="#e4e4e4" stroke-width="1.2" stroke-linecap="round" stroke-linejoin="round"/>
<polyline points="411.7,242.4 411.7,244.2 414.7,245.9" fill="none" stroke="#4a4a4a" stroke-width="2.3" stroke-linecap="round" stroke-linejoin="round"/>
<polyline points="411.7,242.4 411.7,244.2 414.7,245.9" fill="none" stroke="#e4e4e4" stroke-width="1.2" stroke-linecap="round" stroke-linejoin="round"/>
<polyline points="416.4,239.9 416.4,241.7 419.4,243.4" fill="none" stroke="#4a4a4a" stroke-width="2.3" stroke-linecap="round" stroke-linejoin="round"/>
<polyline points="416.4,239.9 416.4,241.7 419.4,243.4" fill="none" stroke="#e4e4e4" stroke-width="1.2" stroke-linecap="round" stroke-linejoin="round"/>
<polyline points="421.0,237.5 421.0,239.3 424.0,241.0" fill="none" stroke="#4a4a4a" stroke-width="2.3" stroke-linecap="round" stroke-linejoin="round"/>
<polyline points="421.0,237.5 421.0,239.3 424.0,241.0" fill="none" stroke="#e4e4e4" stroke-width="1.2" stroke-linecap="round" stroke-linejoin="round"/>
<polyline points="425.7,235.1 425.7,236.9 428.7,238.6" fill="none" stroke="#4a4a4a" stroke-width="2.3" stroke-linecap="round" stroke-linejoin="round"/>
<polyline points="425.7,235.1 425.7,236.9 428.7,238.6" fill="none" stroke="#e4e4e4" stroke-width="1.2" stroke-linecap="round" stroke-linejoin="round"/>
<polyline points="430.4,232.7 430.4,234.5 433.4,236.2" fill="none" stroke="#4a4a4a" stroke-width="2.3" stroke-linecap="round" stroke-linejoin="round"/>
<polyline points="430.4,232.7 430.4,234.5 433.4,236.2" fill="none" stroke="#e4e4e4" stroke-width="1.2" stroke-linecap="round" stroke-linejoin="round"/>
<polyline points="435.1,230.2 435.1,232.0 438.1,233.7" fill="none" stroke="#4a4a4a" stroke-width="2.3" stroke-linecap="round" stroke-linejoin="round"/>
<polyline points="435.1,230.2 435.1,232.0 438.1,233.7" fill="none" stroke="#e4e4e4" stroke-width="1.2" stroke-linecap="round" stroke-linejoin="round"/>
<polyline points="439.7,227.8 439.7,229.6 442.7,231.3" fill="none" stroke="#4a4a4a" stroke-width="2.3" stroke-linecap="round" stroke-linejoin="round"/>
<polyline points="439.7,227.8 439.7,229.6 442.7,231.3" fill="none" stroke="#e4e4e4" stroke-width="1.2" stroke-linecap="round" stroke-linejoin="round"/>
<polyline points="444.4,225.4 444.4,227.2 447.4,228.9" fill="none" stroke="#4a4a4a" stroke-width="2.3" stroke-linecap="round" stroke-linejoin="round"/>
<polyline points="444.4,225.4 444.4,227.2 447.4,228.9" fill="none" stroke="#e4e4e4" stroke-width="1.2" stroke-linecap="round" stroke-linejoin="round"/>
<polyline points="449.1,222.9 449.1,224.7 452.1,226.4" fill="none" stroke="#4a4a4a" stroke-width="2.3" stroke-linecap="round" stroke-linejoin="round"/>
<polyline points="449.1,222.9 449.1,224.7 452.1,226.4" fill="none" stroke="#e4e4e4" stroke-width="1.2" stroke-linecap="round" stroke-linejoin="round"/>
<polygon points="318.2,266.8 329.5,272.7 329.5,286.3 318.2,280.4" fill="#a4a4a4" stroke="#3a3a3a" stroke-width="0.4" stroke-linejoin="round"/>
<polygon points="329.5,272.7 456.5,206.7 456.5,220.3 329.5,286.3" fill="#767676" stroke="#3a3a3a" stroke-width="0.4" stroke-linejoin="round"/>
<polygon points="318.2,266.8 329.5,272.7 456.5,206.7 445.2,200.8" fill="#c2c2c2" stroke="#3a3a3a" stroke-width="0.4" stroke-linejoin="round"/>
<path d="M320.0,266.9L323.8,268.8L327.1,267.1L323.4,265.1ZM325.7,269.8L329.4,271.8L332.8,270.0L329.0,268.1ZM325.1,264.2L328.8,266.2L332.2,264.4L328.5,262.5ZM330.8,267.2L334.5,269.1L337.8,267.4L334.1,265.4ZM330.2,261.6L333.9,263.5L337.3,261.8L333.5,259.8ZM335.8,264.5L339.6,266.5L342.9,264.7L339.2,262.8ZM335.3,258.9L339.0,260.9L342.3,259.1L338.6,257.2ZM340.9,261.9L344.6,263.8L348.0,262.1L344.3,260.1ZM340.3,256.3L344.1,258.2L347.4,256.5L343.7,254.5ZM346.0,259.2L349.7,261.2L353.1,259.5L349.3,257.5ZM345.4,253.6L349.2,255.6L352.5,253.9L348.8,251.9ZM351.1,256.6L354.8,258.6L358.2,256.8L354.4,254.9ZM350.5,251.0L354.2,253.0L357.6,251.2L353.9,249.3ZM356.2,254.0L359.9,255.9L363.2,254.2L359.5,252.2ZM355.6,248.4L359.3,250.3L362.7,248.6L358.9,246.6ZM361.2,251.3L365.0,253.3L368.3,251.5L364.6,249.6ZM360.7,245.7L364.4,247.7L367.7,245.9L364.0,244.0ZM366.3,248.7L370.0,250.6L373.4,248.9L369.7,246.9ZM365.7,243.1L369.5,245.0L372.8,243.3L369.1,241.3ZM371.4,246.0L375.1,248.0L378.5,246.3L374.7,244.3ZM370.8,240.4L374.6,242.4L377.9,240.6L374.2,238.7ZM376.5,243.4L380.2,245.4L383.6,243.6L379.8,241.7ZM375.9,237.8L379.6,239.8L383.0,238.0L379.3,236.1ZM381.6,240.8L385.3,242.7L388.6,241.0L384.9,239.0ZM381.0,235.2L384.7,237.1L388.1,235.4L384.3,233.4ZM386.6,238.1L390.4,240.1L393.7,238.3L390.0,236.4ZM386.1,232.5L389.8,234.5L393.1,232.7L389.4,230.8ZM391.7,235.5L395.4,237.4L398.8,235.7L395.1,233.7ZM391.1,229.9L394.9,231.8L398.2,230.1L394.5,228.1ZM396.8,232.8L400.5,234.8L403.9,233.0L400.1,231.1ZM396.2,227.2L400.0,229.2L403.3,227.4L399.6,225.5ZM401.9,230.2L405.6,232.1L409.0,230.4L405.2,228.4ZM401.3,224.6L405.0,226.5L408.4,224.8L404.7,222.8ZM407.0,227.5L410.7,229.5L414.0,227.8L410.3,225.8ZM406.4,221.9L410.1,223.9L413.5,222.2L409.7,220.2ZM412.0,224.9L415.8,226.9L419.1,225.1L415.4,223.2ZM411.5,219.3L415.2,221.3L418.5,219.5L414.8,217.6ZM417.1,222.3L420.8,224.2L424.2,222.5L420.5,220.5ZM416.5,216.7L420.3,218.6L423.6,216.9L419.9,214.9ZM422.2,219.6L425.9,221.6L429.3,219.8L425.5,217.9ZM421.6,214.0L425.4,216.0L428.7,214.2L425.0,212.3ZM427.3,217.0L431.0,218.9L434.4,217.2L430.6,215.2ZM426.7,211.4L430.4,213.3L433.8,211.6L430.1,209.6ZM432.4,214.3L436.1,216.3L439.4,214.6L435.7,212.6ZM431.8,208.7L435.5,210.7L438.9,208.9L435.1,207.0ZM437.4,211.7L441.2,213.7L444.5,211.9L440.8,210.0ZM436.9,206.1L440.6,208.1L443.9,206.3L440.2,204.4ZM442.5,209.1L446.2,211.0L449.6,209.3L445.9,207.3ZM441.9,203.5L445.7,205.4L449.0,203.7L445.3,201.7ZM447.6,206.4L451.3,208.4L454.7,206.6L450.9,204.7Z" fill="#4c4c4c"/>
<path d="M322.3,266.9L323.6,267.6L324.9,267.0L323.5,266.3ZM327.9,269.9L329.3,270.6L330.5,270.0L329.1,269.2ZM327.4,264.3L328.7,265.0L329.9,264.4L328.6,263.6ZM333.0,267.2L334.4,268.0L335.6,267.3L334.2,266.6ZM332.4,261.6L333.8,262.3L335.0,261.7L333.7,261.0ZM338.1,264.6L339.4,265.3L340.7,264.7L339.3,264.0ZM337.5,259.0L338.9,259.7L340.1,259.1L338.7,258.4ZM343.2,262.0L344.5,262.7L345.7,262.0L344.4,261.3ZM342.6,256.4L344.0,257.1L345.2,256.4L343.8,255.7ZM348.2,259.3L349.6,260.0L350.8,259.4L349.5,258.7ZM347.7,253.7L349.0,254.4L350.3,253.8L348.9,253.1ZM353.3,256.7L354.7,257.4L355.9,256.8L354.5,256.0ZM352.8,251.1L354.1,251.8L355.3,251.1L354.0,250.4ZM358.4,254.0L359.8,254.7L361.0,254.1L359.6,253.4ZM357.8,248.4L359.2,249.1L360.4,248.5L359.1,247.8ZM363.5,251.4L364.8,252.1L366.1,251.5L364.7,250.8ZM362.9,245.8L364.3,246.5L365.5,245.9L364.1,245.2ZM368.6,248.7L369.9,249.5L371.1,248.8L369.8,248.1ZM368.0,243.1L369.4,243.9L370.6,243.2L369.2,242.5ZM373.6,246.1L375.0,246.8L376.2,246.2L374.9,245.5ZM373.1,240.5L374.4,241.2L375.7,240.6L374.3,239.9ZM378.7,243.5L380.1,244.2L381.3,243.5L379.9,242.8ZM378.2,237.9L379.5,238.6L380.7,237.9L379.4,237.2ZM383.8,240.8L385.2,241.5L386.4,240.9L385.0,240.2ZM383.2,235.2L384.6,235.9L385.8,235.3L384.5,234.6ZM388.9,238.2L390.2,238.9L391.5,238.3L390.1,237.5ZM388.3,232.6L389.7,233.3L390.9,232.7L389.5,231.9ZM394.0,235.5L395.3,236.3L396.5,235.6L395.2,234.9ZM393.4,229.9L394.8,230.6L396.0,230.0L394.6,229.3ZM399.0,232.9L400.4,233.6L401.6,233.0L400.3,232.3ZM398.5,227.3L399.8,228.0L401.1,227.4L399.7,226.7ZM404.1,230.3L405.5,231.0L406.7,230.3L405.3,229.6ZM403.6,224.7L404.9,225.4L406.1,224.7L404.8,224.0ZM409.2,227.6L410.6,228.3L411.8,227.7L410.4,227.0ZM408.6,222.0L410.0,222.7L411.2,222.1L409.9,221.4ZM414.3,225.0L415.6,225.7L416.9,225.1L415.5,224.3ZM413.7,219.4L415.1,220.1L416.3,219.4L414.9,218.7ZM419.4,222.3L420.7,223.0L421.9,222.4L420.6,221.7ZM418.8,216.7L420.2,217.4L421.4,216.8L420.0,216.1ZM424.4,219.7L425.8,220.4L427.0,219.8L425.7,219.1ZM423.9,214.1L425.2,214.8L426.5,214.2L425.1,213.5ZM429.5,217.0L430.9,217.8L432.1,217.1L430.7,216.4ZM429.0,211.4L430.3,212.2L431.5,211.5L430.2,210.8ZM434.6,214.4L436.0,215.1L437.2,214.5L435.8,213.8ZM434.0,208.8L435.4,209.5L436.6,208.9L435.3,208.2ZM439.7,211.8L441.0,212.5L442.3,211.8L440.9,211.1ZM439.1,206.2L440.5,206.9L441.7,206.2L440.3,205.5ZM444.8,209.1L446.1,209.8L447.3,209.2L446.0,208.5ZM444.2,203.5L445.6,204.2L446.8,203.6L445.4,202.9ZM449.8,206.5L451.2,207.2L452.4,206.6L451.1,205.8Z" fill="#9c9c9c"/>
<path d="M323.3,264.2L334.6,270.1M328.4,261.5L339.7,267.4M333.4,258.9L344.7,264.8M338.5,256.2L349.8,262.2M343.6,253.6L354.9,259.5M348.7,251.0L360.0,256.9M353.8,248.3L365.1,254.2M358.8,245.7L370.1,251.6M363.9,243.0L375.2,248.9M369.0,240.4L380.3,246.3M374.1,237.7L385.4,243.7M379.2,235.1L390.5,241.0M384.2,232.5L395.5,238.4M389.3,229.8L400.6,235.7M394.4,227.2L405.7,233.1M399.5,224.5L410.8,230.5M404.6,221.9L415.9,227.8M409.6,219.3L420.9,225.2M414.7,216.6L426.0,222.5M419.8,214.0L431.1,219.9M424.9,211.3L436.2,217.2M430.0,208.7L441.3,214.6M435.0,206.0L446.3,212.0M440.1,203.4L451.4,209.3M323.8,269.8L450.8,203.7" fill="none" stroke="#e9e9e9" stroke-width="0.5" stroke-linejoin="round" stroke-linecap="round"/>
<polyline points="368.1,303.8 368.1,305.6 365.1,307.3" fill="none" stroke="#4a4a4a" stroke-width="2.3" stroke-linecap="round" stroke-linejoin="round"/>
<polyline points="368.1,303.8 368.1,305.6 365.1,307.3" fill="none" stroke="#e4e4e4" stroke-width="1.2" stroke-linecap="round" stroke-linejoin="round"/>
<polyline points="372.9,306.3 372.9,308.1 369.9,309.8" fill="none" stroke="#4a4a4a" stroke-width="2.3" stroke-linecap="round" stroke-linejoin="round"/>
<polyline points="372.9,306.3 372.9,308.1 369.9,309.8" fill="none" stroke="#e4e4e4" stroke-width="1.2" stroke-linecap="round" stroke-linejoin="round"/>
<polyline points="377.8,308.8 377.8,310.6 374.8,312.3" fill="none" stroke="#4a4a4a" stroke-width="2.3" stroke-linecap="round" stroke-linejoin="round"/>
<polyline points="377.8,308.8 377.8,310.6 374.8,312.3" fill="none" stroke="#e4e4e4" stroke-width="1.2" stroke-linecap="round" stroke-linejoin="round"/>
<polyline points="382.6,311.4 382.6,313.2 379.6,314.9" fill="none" stroke="#4a4a4a" stroke-width="2.3" stroke-linecap="round" stroke-linejoin="round"/>
<polyline points="382.6,311.4 382.6,313.2 379.6,314.9" fill="none" stroke="#e4e4e4" stroke-width="1.2" stroke-linecap="round" stroke-linejoin="round"/>
<polyline points="387.5,313.9 387.5,315.7 384.5,317.4" fill="none" stroke="#4a4a4a" stroke-width="2.3" stroke-linecap="round" stroke-linejoin="round"/>
<polyline points="387.5,313.9 387.5,315.7 384.5,317.4" fill="none" stroke="#e4e4e4" stroke-width="1.2" stroke-linecap="round" stroke-linejoin="round"/>
<polyline points="392.3,316.4 392.3,318.2 389.3,319.9" fill="none" stroke="#4a4a4a" stroke-width="2.3" stroke-linecap="round" stroke-linejoin="round"/>
<polyline points="392.3,316.4 392.3,318.2 389.3,319.9" fill="none" stroke="#e4e4e4" stroke-width="1.2" stroke-linecap="round" stroke-linejoin="round"/>
<polyline points="397.2,319.0 397.2,320.8 394.2,322.5" fill="none" stroke="#4a4a4a" stroke-width="2.3" stroke-linecap="round" stroke-linejoin="round"/>
<polyline points="397.2,319.0 397.2,320.8 394.2,322.5" fill="none" stroke="#e4e4e4" stroke-width="1.2" stroke-linecap="round" stroke-linejoin="round"/>
<polyline points="402.0,321.5 402.0,323.3 399.0,325.0" fill="none" stroke="#4a4a4a" stroke-width="2.3" stroke-linecap="round" stroke-linejoin="round"/>
<polyline points="402.0,321.5 402.0,323.3 399.0,325.0" fill="none" stroke="#e4e4e4" stroke-width="1.2" stroke-linecap="round" stroke-linejoin="round"/>
<polygon points="364.0,296.8 406.1,318.9 406.1,324.9 364.0,302.8" fill="#a4a4a4" stroke="#3a3a3a" stroke-width="0.4" stroke-linejoin="round"/>
<polygon points="406.1,318.9 416.4,313.5 416.4,319.5 406.1,324.9" fill="#767676" stroke="#3a3a3a" stroke-width="0.4" stroke-linejoin="round"/>
<polygon points="364.0,296.8 406.1,318.9 416.4,313.5 374.3,291.4" fill="#cfcbc0" stroke="#3a3a3a" stroke-width="0.4" stroke-linejoin="round"/>
<path d="M365.8,296.8L369.2,298.6L372.6,296.9L369.2,295.0ZM371.0,299.6L374.5,301.4L377.9,299.6L374.4,297.8ZM376.3,302.3L379.8,304.1L383.2,302.4L379.7,300.6ZM381.6,305.1L385.0,306.9L388.4,305.1L385.0,303.3ZM386.8,307.8L390.3,309.7L393.7,307.9L390.2,306.1ZM392.1,310.6L395.6,312.4L399.0,310.7L395.5,308.8ZM397.3,313.4L400.8,315.2L404.2,313.4L400.7,311.6ZM402.6,316.1L406.1,317.9L409.5,316.2L406.0,314.3ZM370.9,294.1L374.4,296.0L377.8,294.2L374.3,292.4ZM376.2,296.9L379.7,298.7L383.1,296.9L379.6,295.1ZM381.4,299.7L384.9,301.5L388.3,299.7L384.8,297.9ZM386.7,302.4L390.2,304.2L393.6,302.5L390.1,300.6ZM392.0,305.2L395.4,307.0L398.8,305.2L395.4,303.4ZM397.2,307.9L400.7,309.7L404.1,308.0L400.6,306.2ZM402.5,310.7L406.0,312.5L409.4,310.7L405.9,308.9ZM407.8,313.4L411.2,315.3L414.6,313.5L411.2,311.7Z" fill="#3e362c"/>
<path d="M368.0,296.8L369.2,297.5L370.5,296.8L369.2,296.2ZM373.2,299.6L374.5,300.2L375.7,299.6L374.5,298.9ZM378.5,302.3L379.7,303.0L381.0,302.4L379.7,301.7ZM383.7,305.1L385.0,305.8L386.2,305.1L385.0,304.5ZM389.0,307.9L390.3,308.5L391.5,307.9L390.2,307.2ZM394.3,310.6L395.5,311.3L396.8,310.6L395.5,310.0ZM399.5,313.4L400.8,314.0L402.0,313.4L400.8,312.7ZM404.8,316.1L406.1,316.8L407.3,316.2L406.0,315.5ZM373.1,294.2L374.4,294.8L375.6,294.2L374.3,293.5ZM378.4,296.9L379.6,297.6L380.9,296.9L379.6,296.3ZM383.6,299.7L384.9,300.3L386.1,299.7L384.9,299.0ZM388.9,302.4L390.2,303.1L391.4,302.4L390.1,301.8ZM394.2,305.2L395.4,305.8L396.7,305.2L395.4,304.5ZM399.4,307.9L400.7,308.6L401.9,308.0L400.7,307.3ZM404.7,310.7L405.9,311.4L407.2,310.7L405.9,310.1ZM409.9,313.5L411.2,314.1L412.4,313.5L411.2,312.8Z" fill="#9c9c9c"/>
<path d="M369.1,294.1L411.2,316.2M369.3,299.6L379.6,294.2M374.5,302.3L384.8,297.0M379.8,305.1L390.1,299.7M385.1,307.8L395.4,302.5M390.3,310.6L400.6,305.2M395.6,313.3L405.9,308.0M400.8,316.1L411.1,310.7" fill="none" stroke="#8a857a" stroke-width="0.5" stroke-linejoin="round" stroke-linecap="round"/>
<polyline points="466.7,393.6 466.7,395.4 469.7,397.1" fill="none" stroke="#4a4a4a" stroke-width="2.3" stroke-linecap="round" stroke-linejoin="round"/>
<polyline points="466.7,393.6 466.7,395.4 469.7,397.1" fill="none" stroke="#e4e4e4" stroke-width="1.2" stroke-linecap="round" stroke-linejoin="round"/>
<polyline points="471.4,391.1 471.4,392.9 474.4,394.6" fill="none" stroke="#4a4a4a" stroke-width="2.3" stroke-linecap="round" stroke-linejoin="round"/>
<polyline points="471.4,391.1 471.4,392.9 474.4,394.6" fill="none" stroke="#e4e4e4" stroke-width="1.2" stroke-linecap="round" stroke-linejoin="round"/>
<polyline points="476.1,388.7 476.1,390.5 479.1,392.2" fill="none" stroke="#4a4a4a" stroke-width="2.3" stroke-linecap="round" stroke-linejoin="round"/>
<polyline points="476.1,388.7 476.1,390.5 479.1,392.2" fill="none" stroke="#e4e4e4" stroke-width="1.2" stroke-linecap="round" stroke-linejoin="round"/>
<polyline points="480.8,386.3 480.8,388.1 483.8,389.8" fill="none" stroke="#4a4a4a" stroke-width="2.3" stroke-linecap="round" stroke-linejoin="round"/>
<polyline points="480.8,386.3 480.8,388.1 483.8,389.8" fill="none" stroke="#e4e4e4" stroke-width="1.2" stroke-linecap="round" stroke-linejoin="round"/>
<polyline points="485.5,383.8 485.5,385.6 488.5,387.3" fill="none" stroke="#4a4a4a" stroke-width="2.3" stroke-linecap="round" stroke-linejoin="round"/>
<polyline points="485.5,383.8 485.5,385.6 488.5,387.3" fill="none" stroke="#e4e4e4" stroke-width="1.2" stroke-linecap="round" stroke-linejoin="round"/>
<polyline points="490.2,381.4 490.2,383.2 493.2,384.9" fill="none" stroke="#4a4a4a" stroke-width="2.3" stroke-linecap="round" stroke-linejoin="round"/>
<polyline points="490.2,381.4 490.2,383.2 493.2,384.9" fill="none" stroke="#e4e4e4" stroke-width="1.2" stroke-linecap="round" stroke-linejoin="round"/>
<polyline points="494.8,379.0 494.8,380.8 497.8,382.5" fill="none" stroke="#4a4a4a" stroke-width="2.3" stroke-linecap="round" stroke-linejoin="round"/>
<polyline points="494.8,379.0 494.8,380.8 497.8,382.5" fill="none" stroke="#e4e4e4" stroke-width="1.2" stroke-linecap="round" stroke-linejoin="round"/>
<polyline points="499.5,376.5 499.5,378.3 502.5,380.0" fill="none" stroke="#4a4a4a" stroke-width="2.3" stroke-linecap="round" stroke-linejoin="round"/>
<polyline points="499.5,376.5 499.5,378.3 502.5,380.0" fill="none" stroke="#e4e4e4" stroke-width="1.2" stroke-linecap="round" stroke-linejoin="round"/>
<polyline points="504.2,374.1 504.2,375.9 507.2,377.6" fill="none" stroke="#4a4a4a" stroke-width="2.3" stroke-linecap="round" stroke-linejoin="round"/>
<polyline points="504.2,374.1 504.2,375.9 507.2,377.6" fill="none" stroke="#e4e4e4" stroke-width="1.2" stroke-linecap="round" stroke-linejoin="round"/>
<polyline points="508.9,371.7 508.9,373.5 511.9,375.2" fill="none" stroke="#4a4a4a" stroke-width="2.3" stroke-linecap="round" stroke-linejoin="round"/>
<polyline points="508.9,371.7 508.9,373.5 511.9,375.2" fill="none" stroke="#e4e4e4" stroke-width="1.2" stroke-linecap="round" stroke-linejoin="round"/>
<polyline points="513.6,369.2 513.6,371.0 516.6,372.7" fill="none" stroke="#4a4a4a" stroke-width="2.3" stroke-linecap="round" stroke-linejoin="round"/>
<polyline points="513.6,369.2 513.6,371.0 516.6,372.7" fill="none" stroke="#e4e4e4" stroke-width="1.2" stroke-linecap="round" stroke-linejoin="round"/>
<polyline points="518.3,366.8 518.3,368.6 521.3,370.3" fill="none" stroke="#4a4a4a" stroke-width="2.3" stroke-linecap="round" stroke-linejoin="round"/>
<polyline points="518.3,366.8 518.3,368.6 521.3,370.3" fill="none" stroke="#e4e4e4" stroke-width="1.2" stroke-linecap="round" stroke-linejoin="round"/>
<polyline points="523.0,364.3 523.0,366.1 526.0,367.8" fill="none" stroke="#4a4a4a" stroke-width="2.3" stroke-linecap="round" stroke-linejoin="round"/>
<polyline points="523.0,364.3 523.0,366.1 526.0,367.8" fill="none" stroke="#e4e4e4" stroke-width="1.2" stroke-linecap="round" stroke-linejoin="round"/>
<polyline points="527.6,361.9 527.6,363.7 530.6,365.4" fill="none" stroke="#4a4a4a" stroke-width="2.3" stroke-linecap="round" stroke-linejoin="round"/>
<polyline points="527.6,361.9 527.6,363.7 530.6,365.4" fill="none" stroke="#e4e4e4" stroke-width="1.2" stroke-linecap="round" stroke-linejoin="round"/>
<polyline points="532.3,359.5 532.3,361.3 535.3,363.0" fill="none" stroke="#4a4a4a" stroke-width="2.3" stroke-linecap="round" stroke-linejoin="round"/>
<polyline points="532.3,359.5 532.3,361.3 535.3,363.0" fill="none" stroke="#e4e4e4" stroke-width="1.2" stroke-linecap="round" stroke-linejoin="round"/>
<polyline points="537.0,357.0 537.0,358.8 540.0,360.5" fill="none" stroke="#4a4a4a" stroke-width="2.3" stroke-linecap="round" stroke-linejoin="round"/>
<polyline points="537.0,357.0 537.0,358.8 540.0,360.5" fill="none" stroke="#e4e4e4" stroke-width="1.2" stroke-linecap="round" stroke-linejoin="round"/>
<polyline points="541.7,354.6 541.7,356.4 544.7,358.1" fill="none" stroke="#4a4a4a" stroke-width="2.3" stroke-linecap="round" stroke-linejoin="round"/>
<polyline points="541.7,354.6 541.7,356.4 544.7,358.1" fill="none" stroke="#e4e4e4" stroke-width="1.2" stroke-linecap="round" stroke-linejoin="round"/>
<polyline points="546.4,352.2 546.4,354.0 549.4,355.7" fill="none" stroke="#4a4a4a" stroke-width="2.3" stroke-linecap="round" stroke-linejoin="round"/>
<polyline points="546.4,352.2 546.4,354.0 549.4,355.7" fill="none" stroke="#e4e4e4" stroke-width="1.2" stroke-linecap="round" stroke-linejoin="round"/>
<polyline points="551.1,349.7 551.1,351.5 554.1,353.2" fill="none" stroke="#4a4a4a" stroke-width="2.3" stroke-linecap="round" stroke-linejoin="round"/>
<polyline points="551.1,349.7 551.1,351.5 554.1,353.2" fill="none" stroke="#e4e4e4" stroke-width="1.2" stroke-linecap="round" stroke-linejoin="round"/>
<polyline points="555.7,347.3 555.7,349.1 558.7,350.8" fill="none" stroke="#4a4a4a" stroke-width="2.3" stroke-linecap="round" stroke-linejoin="round"/>
<polyline points="555.7,347.3 555.7,349.1 558.7,350.8" fill="none" stroke="#e4e4e4" stroke-width="1.2" stroke-linecap="round" stroke-linejoin="round"/>
<polyline points="560.4,344.9 560.4,346.7 563.4,348.4" fill="none" stroke="#4a4a4a" stroke-width="2.3" stroke-linecap="round" stroke-linejoin="round"/>
<polyline points="560.4,344.9 560.4,346.7 563.4,348.4" fill="none" stroke="#e4e4e4" stroke-width="1.2" stroke-linecap="round" stroke-linejoin="round"/>
<polyline points="565.1,342.4 565.1,344.2 568.1,345.9" fill="none" stroke="#4a4a4a" stroke-width="2.3" stroke-linecap="round" stroke-linejoin="round"/>
<polyline points="565.1,342.4 565.1,344.2 568.1,345.9" fill="none" stroke="#e4e4e4" stroke-width="1.2" stroke-linecap="round" stroke-linejoin="round"/>
<polyline points="569.8,340.0 569.8,341.8 572.8,343.5" fill="none" stroke="#4a4a4a" stroke-width="2.3" stroke-linecap="round" stroke-linejoin="round"/>
<polyline points="569.8,340.0 569.8,341.8 572.8,343.5" fill="none" stroke="#e4e4e4" stroke-width="1.2" stroke-linecap="round" stroke-linejoin="round"/>
<polyline points="574.5,337.6 574.5,339.4 577.5,341.1" fill="none" stroke="#4a4a4a" stroke-width="2.3" stroke-linecap="round" stroke-linejoin="round"/>
<polyline points="574.5,337.6 574.5,339.4 577.5,341.1" fill="none" stroke="#e4e4e4" stroke-width="1.2" stroke-linecap="round" stroke-linejoin="round"/>
<polyline points="579.2,335.1 579.2,336.9 582.2,338.6" fill="none" stroke="#4a4a4a" stroke-width="2.3" stroke-linecap="round" stroke-linejoin="round"/>
<polyline points="579.2,335.1 579.2,336.9 582.2,338.6" fill="none" stroke="#e4e4e4" stroke-width="1.2" stroke-linecap="round" stroke-linejoin="round"/>
<polygon points="449.1,382.3 459.3,387.6 459.3,398.6 449.1,393.3" fill="#a4a4a4" stroke="#3a3a3a" stroke-width="0.4" stroke-linejoin="round"/>
<polygon points="459.3,387.6 586.6,321.4 586.6,332.4 459.3,398.6" fill="#767676" stroke="#3a3a3a" stroke-width="0.4" stroke-linejoin="round"/>
<polygon points="449.1,382.3 459.3,387.6 586.6,321.4 576.4,316.1" fill="#c2c2c2" stroke="#3a3a3a" stroke-width="0.4" stroke-linejoin="round"/>
<path d="M450.8,382.3L454.2,384.1L457.6,382.3L454.2,380.6ZM455.9,385.0L459.3,386.7L462.7,385.0L459.3,383.2ZM455.9,379.7L459.3,381.4L462.7,379.7L459.3,377.9ZM461.0,382.3L464.4,384.1L467.8,382.3L464.4,380.6ZM461.0,377.0L464.4,378.8L467.7,377.0L464.4,375.3ZM466.1,379.7L469.5,381.4L472.8,379.7L469.5,377.9ZM466.1,374.4L469.5,376.1L472.8,374.4L469.5,372.6ZM471.2,377.0L474.6,378.8L477.9,377.0L474.6,375.3ZM471.2,371.7L474.6,373.5L477.9,371.7L474.6,370.0ZM476.3,374.4L479.7,376.1L483.0,374.4L479.7,372.6ZM476.3,369.1L479.7,370.8L483.0,369.1L479.7,367.3ZM481.4,371.7L484.8,373.5L488.1,371.8L484.8,370.0ZM481.4,366.4L484.8,368.2L488.1,366.4L484.7,364.7ZM486.5,369.1L489.9,370.9L493.2,369.1L489.8,367.3ZM486.5,363.8L489.8,365.5L493.2,363.8L489.8,362.0ZM491.6,366.4L494.9,368.2L498.3,366.5L494.9,364.7ZM491.6,361.1L494.9,362.9L498.3,361.1L494.9,359.4ZM496.7,363.8L500.0,365.6L503.4,363.8L500.0,362.0ZM496.7,358.5L500.0,360.2L503.4,358.5L500.0,356.7ZM501.8,361.1L505.1,362.9L508.5,361.2L505.1,359.4ZM501.8,355.8L505.1,357.6L508.5,355.8L505.1,354.1ZM506.9,358.5L510.2,360.3L513.6,358.5L510.2,356.8ZM506.8,353.2L510.2,354.9L513.6,353.2L510.2,351.4ZM511.9,355.9L515.3,357.6L518.7,355.9L515.3,354.1ZM511.9,350.5L515.3,352.3L518.7,350.5L515.3,348.8ZM517.0,353.2L520.4,355.0L523.8,353.2L520.4,351.5ZM517.0,347.9L520.4,349.6L523.8,347.9L520.4,346.1ZM522.1,350.6L525.5,352.3L528.9,350.6L525.5,348.8ZM522.1,345.2L525.5,347.0L528.8,345.3L525.5,343.5ZM527.2,347.9L530.6,349.7L533.9,347.9L530.6,346.2ZM527.2,342.6L530.6,344.4L533.9,342.6L530.6,340.8ZM532.3,345.3L535.7,347.0L539.0,345.3L535.7,343.5ZM532.3,339.9L535.7,341.7L539.0,340.0L535.7,338.2ZM537.4,342.6L540.8,344.4L544.1,342.6L540.8,340.9ZM537.4,337.3L540.8,339.1L544.1,337.3L540.8,335.5ZM542.5,340.0L545.9,341.7L549.2,340.0L545.9,338.2ZM542.5,334.6L545.9,336.4L549.2,334.7L545.8,332.9ZM547.6,337.3L551.0,339.1L554.3,337.3L550.9,335.6ZM547.6,332.0L550.9,333.8L554.3,332.0L550.9,330.2ZM552.7,334.7L556.0,336.4L559.4,334.7L556.0,332.9ZM552.7,329.3L556.0,331.1L559.4,329.4L556.0,327.6ZM557.8,332.0L561.1,333.8L564.5,332.0L561.1,330.3ZM557.8,326.7L561.1,328.5L564.5,326.7L561.1,325.0ZM562.9,329.4L566.2,331.1L569.6,329.4L566.2,327.6ZM562.9,324.1L566.2,325.8L569.6,324.1L566.2,322.3ZM568.0,326.7L571.3,328.5L574.7,326.7L571.3,325.0ZM567.9,321.4L571.3,323.2L574.7,321.4L571.3,319.7ZM573.0,324.1L576.4,325.8L579.8,324.1L576.4,322.3ZM573.0,318.8L576.4,320.5L579.8,318.8L576.4,317.0ZM578.1,321.4L581.5,323.2L584.9,321.4L581.5,319.7Z" fill="#4c4c4c"/>
<path d="M453.0,382.3L454.2,383.0L455.4,382.3L454.2,381.7ZM458.1,385.0L459.3,385.6L460.5,385.0L459.3,384.3ZM458.1,379.7L459.3,380.3L460.5,379.7L459.3,379.0ZM463.2,382.3L464.4,383.0L465.6,382.3L464.4,381.7ZM463.2,377.0L464.4,377.7L465.6,377.0L464.4,376.4ZM468.3,379.7L469.5,380.3L470.7,379.7L469.5,379.1ZM468.2,374.4L469.5,375.0L470.7,374.4L469.5,373.7ZM473.3,377.0L474.6,377.7L475.8,377.0L474.6,376.4ZM473.3,371.7L474.6,372.4L475.8,371.7L474.6,371.1ZM478.4,374.4L479.7,375.0L480.9,374.4L479.7,373.8ZM478.4,369.1L479.7,369.7L480.9,369.1L479.7,368.4ZM483.5,371.7L484.8,372.4L486.0,371.7L484.8,371.1ZM483.5,366.4L484.7,367.1L486.0,366.4L484.7,365.8ZM488.6,369.1L489.8,369.7L491.1,369.1L489.8,368.5ZM488.6,363.8L489.8,364.4L491.1,363.8L489.8,363.1ZM493.7,366.4L494.9,367.1L496.2,366.5L494.9,365.8ZM493.7,361.1L494.9,361.8L496.2,361.1L494.9,360.5ZM498.8,363.8L500.0,364.4L501.3,363.8L500.0,363.2ZM498.8,358.5L500.0,359.1L501.2,358.5L500.0,357.8ZM503.9,361.2L505.1,361.8L506.3,361.2L505.1,360.5ZM503.9,355.8L505.1,356.5L506.3,355.8L505.1,355.2ZM509.0,358.5L510.2,359.1L511.4,358.5L510.2,357.9ZM509.0,353.2L510.2,353.8L511.4,353.2L510.2,352.5ZM514.1,355.9L515.3,356.5L516.5,355.9L515.3,355.2ZM514.1,350.5L515.3,351.2L516.5,350.5L515.3,349.9ZM519.2,353.2L520.4,353.8L521.6,353.2L520.4,352.6ZM519.2,347.9L520.4,348.5L521.6,347.9L520.4,347.3ZM524.3,350.6L525.5,351.2L526.7,350.6L525.5,349.9ZM524.3,345.2L525.5,345.9L526.7,345.2L525.5,344.6ZM529.4,347.9L530.6,348.6L531.8,347.9L530.6,347.3ZM529.4,342.6L530.6,343.2L531.8,342.6L530.6,342.0ZM534.5,345.3L535.7,345.9L536.9,345.3L535.7,344.6ZM534.4,339.9L535.7,340.6L536.9,339.9L535.7,339.3ZM539.5,342.6L540.8,343.3L542.0,342.6L540.8,342.0ZM539.5,337.3L540.8,337.9L542.0,337.3L540.8,336.7ZM544.6,340.0L545.9,340.6L547.1,340.0L545.9,339.3ZM544.6,334.6L545.9,335.3L547.1,334.7L545.9,334.0ZM549.7,337.3L551.0,338.0L552.2,337.3L551.0,336.7ZM549.7,332.0L550.9,332.6L552.2,332.0L550.9,331.4ZM554.8,334.7L556.0,335.3L557.3,334.7L556.0,334.0ZM554.8,329.4L556.0,330.0L557.3,329.4L556.0,328.7ZM559.9,332.0L561.1,332.7L562.4,332.0L561.1,331.4ZM559.9,326.7L561.1,327.3L562.4,326.7L561.1,326.1ZM565.0,329.4L566.2,330.0L567.5,329.4L566.2,328.7ZM565.0,324.1L566.2,324.7L567.4,324.1L566.2,323.4ZM570.1,326.7L571.3,327.4L572.5,326.7L571.3,326.1ZM570.1,321.4L571.3,322.1L572.5,321.4L571.3,320.8ZM575.2,324.1L576.4,324.7L577.6,324.1L576.4,323.4ZM575.2,318.8L576.4,319.4L577.6,318.8L576.4,318.1ZM580.3,321.4L581.5,322.1L582.7,321.4L581.5,320.8Z" fill="#9c9c9c"/>
<path d="M454.2,379.7L464.4,385.0M459.3,377.0L469.5,382.3M464.4,374.4L474.6,379.7M469.5,371.7L479.7,377.1M474.6,369.1L484.8,374.4M479.7,366.4L489.9,371.8M484.7,363.8L494.9,369.1M489.8,361.1L500.0,366.5M494.9,358.5L505.1,363.8M500.0,355.8L510.2,361.2M505.1,353.2L515.3,358.5M510.2,350.5L520.4,355.9M515.3,347.9L525.5,353.2M520.4,345.2L530.6,350.6M525.5,342.6L535.7,347.9M530.6,339.9L540.8,345.3M535.7,337.3L545.9,342.6M540.8,334.6L551.0,340.0M545.8,332.0L556.0,337.3M550.9,329.3L561.1,334.7M556.0,326.7L566.2,332.0M561.1,324.0L571.3,329.4M566.2,321.4L576.4,326.7M571.3,318.8L581.5,324.1M454.2,385.0L581.5,318.8" fill="none" stroke="#e9e9e9" stroke-width="0.5" stroke-linejoin="round" stroke-linecap="round"/>
<path d="M215.8,293.0 v4.6 q0,1.6 1.2,1.2 q1.2,-0.4 1.2,-2 v-4.4" fill="#f2f2f2" stroke="#444" stroke-width="0.5"/>
<path d="M220.9,290.4 v4.6 q0,1.6 1.2,1.2 q1.2,-0.4 1.2,-2 v-4.4" fill="#f2f2f2" stroke="#444" stroke-width="0.5"/>
<path d="M225.9,287.7 v4.6 q0,1.6 1.2,1.2 q1.2,-0.4 1.2,-2 v-4.4" fill="#f2f2f2" stroke="#444" stroke-width="0.5"/>
<path d="M231.0,285.1 v4.6 q0,1.6 1.2,1.2 q1.2,-0.4 1.2,-2 v-4.4" fill="#f2f2f2" stroke="#444" stroke-width="0.5"/>
<path d="M236.0,282.5 v4.6 q0,1.6 1.2,1.2 q1.2,-0.4 1.2,-2 v-4.4" fill="#f2f2f2" stroke="#444" stroke-width="0.5"/>
<path d="M241.1,279.9 v4.6 q0,1.6 1.2,1.2 q1.2,-0.4 1.2,-2 v-4.4" fill="#f2f2f2" stroke="#444" stroke-width="0.5"/>
<path d="M246.1,277.2 v4.6 q0,1.6 1.2,1.2 q1.2,-0.4 1.2,-2 v-4.4" fill="#f2f2f2" stroke="#444" stroke-width="0.5"/>
<path d="M251.2,274.6 v4.6 q0,1.6 1.2,1.2 q1.2,-0.4 1.2,-2 v-4.4" fill="#f2f2f2" stroke="#444" stroke-width="0.5"/>
<path d="M256.2,272.0 v4.6 q0,1.6 1.2,1.2 q1.2,-0.4 1.2,-2 v-4.4" fill="#f2f2f2" stroke="#444" stroke-width="0.5"/>
<path d="M261.2,269.4 v4.6 q0,1.6 1.2,1.2 q1.2,-0.4 1.2,-2 v-4.4" fill="#f2f2f2" stroke="#444" stroke-width="0.5"/>
<path d="M266.3,266.7 v4.6 q0,1.6 1.2,1.2 q1.2,-0.4 1.2,-2 v-4.4" fill="#f2f2f2" stroke="#444" stroke-width="0.5"/>
<path d="M271.4,264.1 v4.6 q0,1.6 1.2,1.2 q1.2,-0.4 1.2,-2 v-4.4" fill="#f2f2f2" stroke="#444" stroke-width="0.5"/>
<path d="M276.4,261.5 v4.6 q0,1.6 1.2,1.2 q1.2,-0.4 1.2,-2 v-4.4" fill="#f2f2f2" stroke="#444" stroke-width="0.5"/>
<path d="M281.4,258.9 v4.6 q0,1.6 1.2,1.2 q1.2,-0.4 1.2,-2 v-4.4" fill="#f2f2f2" stroke="#444" stroke-width="0.5"/>
<path d="M286.5,256.2 v4.6 q0,1.6 1.2,1.2 q1.2,-0.4 1.2,-2 v-4.4" fill="#f2f2f2" stroke="#444" stroke-width="0.5"/>
<polygon points="179.6,294.8 195.2,303.0 195.2,310.2 179.6,302.0" fill="#d9d9d9" stroke="#3c3c3c" stroke-width="0.45" stroke-linejoin="round"/>
<polygon points="195.2,303.0 212.2,294.1 212.2,301.3 195.2,310.2" fill="#c9c9c9" stroke="#3c3c3c" stroke-width="0.45" stroke-linejoin="round"/>
<polygon points="179.6,294.8 195.2,303.0 212.2,294.1 196.6,286.0" fill="#ededed" stroke="#3c3c3c" stroke-width="0.45" stroke-linejoin="round"/>
<polygon points="184.6,295.3 190.6,298.5 195.6,295.9 189.6,292.7" fill="#bdbdbd" stroke="#3c3c3c" stroke-width="0.35" stroke-linejoin="round"/>
<polygon points="198.3,273.7 273.3,234.7 273.3,230.9 198.3,269.9" fill="#efefef" stroke="#3c3c3c" stroke-width="0.4" stroke-linejoin="round"/>
<polyline points="198.3,273.7 198.3,269.9" fill="none" stroke="#555" stroke-width="0.45" stroke-linecap="round" stroke-linejoin="round"/>
<polyline points="203.4,271.1 203.4,267.3" fill="none" stroke="#555" stroke-width="0.45" stroke-linecap="round" stroke-linejoin="round"/>
<polyline points="208.4,268.5 208.4,264.7" fill="none" stroke="#555" stroke-width="0.45" stroke-linecap="round" stroke-linejoin="round"/>
<polyline points="213.5,265.9 213.5,262.1" fill="none" stroke="#555" stroke-width="0.45" stroke-linecap="round" stroke-linejoin="round"/>
<polyline points="218.5,263.2 218.5,259.4" fill="none" stroke="#555" stroke-width="0.45" stroke-linecap="round" stroke-linejoin="round"/>
<polyline points="223.6,260.6 223.6,256.8" fill="none" stroke="#555" stroke-width="0.45" stroke-linecap="round" stroke-linejoin="round"/>
<polyline points="228.6,258.0 228.6,254.2" fill="none" stroke="#555" stroke-width="0.45" stroke-linecap="round" stroke-linejoin="round"/>
<polyline points="233.7,255.4 233.7,251.6" fill="none" stroke="#555" stroke-width="0.45" stroke-linecap="round" stroke-linejoin="round"/>
<polyline points="238.7,252.7 238.7,248.9" fill="none" stroke="#555" stroke-width="0.45" stroke-linecap="round" stroke-linejoin="round"/>
<polyline points="243.8,250.1 243.8,246.3" fill="none" stroke="#555" stroke-width="0.45" stroke-linecap="round" stroke-linejoin="round"/>
<polyline points="248.8,247.5 248.8,243.7" fill="none" stroke="#555" stroke-width="0.45" stroke-linecap="round" stroke-linejoin="round"/>
<polyline points="253.9,244.9 253.9,241.1" fill="none" stroke="#555" stroke-width="0.45" stroke-linecap="round" stroke-linejoin="round"/>
<polyline points="258.9,242.2 258.9,238.4" fill="none" stroke="#555" stroke-width="0.45" stroke-linecap="round" stroke-linejoin="round"/>
<polyline points="263.9,239.6 263.9,235.8" fill="none" stroke="#555" stroke-width="0.45" stroke-linecap="round" stroke-linejoin="round"/>
<polyline points="269.0,237.0 269.0,233.2" fill="none" stroke="#555" stroke-width="0.45" stroke-linecap="round" stroke-linejoin="round"/>
<polyline points="274.1,234.4 274.1,230.6" fill="none" stroke="#555" stroke-width="0.45" stroke-linecap="round" stroke-linejoin="round"/>
<polygon points="198.3,273.7 213.3,281.6 213.3,294.8 198.3,286.9" fill="#c9c9c9" stroke="#3c3c3c" stroke-width="0.4" stroke-linejoin="round"/>
<polygon points="198.3,273.7 199.8,274.5 274.8,235.5 273.3,234.7" fill="#ededed" stroke="#3c3c3c" stroke-width="0.4" stroke-linejoin="round"/>
<polygon points="200.3,274.3 212.3,280.6 286.3,242.1 274.3,235.8" fill="#b9b9b9" stroke="#3c3c3c" stroke-width="0.4" stroke-linejoin="round"/>
<clipPath id="cp1"><polygon points="200.3,274.3 212.3,280.6 286.3,242.1 274.3,235.8"/></clipPath>
<polyline points="199.8,274.5 199.8,281.5" fill="none" stroke="#8f8f8f" stroke-width="0.35" stroke-linecap="round" stroke-linejoin="round" clip-path="url(#cp1)"/>
<polyline points="204.9,271.9 204.9,278.9" fill="none" stroke="#8f8f8f" stroke-width="0.35" stroke-linecap="round" stroke-linejoin="round" clip-path="url(#cp1)"/>
<polyline points="209.9,269.3 209.9,276.3" fill="none" stroke="#8f8f8f" stroke-width="0.35" stroke-linecap="round" stroke-linejoin="round" clip-path="url(#cp1)"/>
<polyline points="215.0,266.6 215.0,273.6" fill="none" stroke="#8f8f8f" stroke-width="0.35" stroke-linecap="round" stroke-linejoin="round" clip-path="url(#cp1)"/>
<polyline points="220.0,264.0 220.0,271.0" fill="none" stroke="#8f8f8f" stroke-width="0.35" stroke-linecap="round" stroke-linejoin="round" clip-path="url(#cp1)"/>
<polyline points="225.1,261.4 225.1,268.4" fill="none" stroke="#8f8f8f" stroke-width="0.35" stroke-linecap="round" stroke-linejoin="round" clip-path="url(#cp1)"/>
<polyline points="230.1,258.8 230.1,265.8" fill="none" stroke="#8f8f8f" stroke-width="0.35" stroke-linecap="round" stroke-linejoin="round" clip-path="url(#cp1)"/>
<polyline points="235.2,256.1 235.2,263.1" fill="none" stroke="#8f8f8f" stroke-width="0.35" stroke-linecap="round" stroke-linejoin="round" clip-path="url(#cp1)"/>
<polyline points="240.2,253.5 240.2,260.5" fill="none" stroke="#8f8f8f" stroke-width="0.35" stroke-linecap="round" stroke-linejoin="round" clip-path="url(#cp1)"/>
<polyline points="245.2,250.9 245.2,257.9" fill="none" stroke="#8f8f8f" stroke-width="0.35" stroke-linecap="round" stroke-linejoin="round" clip-path="url(#cp1)"/>
<polyline points="250.3,248.3 250.3,255.3" fill="none" stroke="#8f8f8f" stroke-width="0.35" stroke-linecap="round" stroke-linejoin="round" clip-path="url(#cp1)"/>
<polyline points="255.4,245.6 255.4,252.6" fill="none" stroke="#8f8f8f" stroke-width="0.35" stroke-linecap="round" stroke-linejoin="round" clip-path="url(#cp1)"/>
<polyline points="260.4,243.0 260.4,250.0" fill="none" stroke="#8f8f8f" stroke-width="0.35" stroke-linecap="round" stroke-linejoin="round" clip-path="url(#cp1)"/>
<polyline points="265.4,240.4 265.4,247.4" fill="none" stroke="#8f8f8f" stroke-width="0.35" stroke-linecap="round" stroke-linejoin="round" clip-path="url(#cp1)"/>
<polyline points="270.5,237.8 270.5,244.8" fill="none" stroke="#8f8f8f" stroke-width="0.35" stroke-linecap="round" stroke-linejoin="round" clip-path="url(#cp1)"/>
<polyline points="275.6,235.1 275.6,242.1" fill="none" stroke="#8f8f8f" stroke-width="0.35" stroke-linecap="round" stroke-linejoin="round" clip-path="url(#cp1)"/>
<g clip-path="url(#cp1)"><rect x="204.1" y="273.8" width="2.5" height="10.0" fill="#5c4a12"/><rect x="204.4" y="274.1" width="1.7" height="9.7" fill="#c9a63a"/><rect x="204.6" y="274.6" width="0.8" height="8.5" fill="#eed880"/></g>
<g clip-path="url(#cp1)"><rect x="209.1" y="271.2" width="2.5" height="10.0" fill="#5c4a12"/><rect x="209.4" y="271.5" width="1.7" height="9.7" fill="#c9a63a"/><rect x="209.6" y="272.0" width="0.8" height="8.5" fill="#eed880"/></g>
<g clip-path="url(#cp1)"><rect x="214.2" y="268.5" width="2.5" height="10.0" fill="#5c4a12"/><rect x="214.5" y="268.8" width="1.7" height="9.7" fill="#c9a63a"/><rect x="214.7" y="269.3" width="0.8" height="8.5" fill="#eed880"/></g>
<g clip-path="url(#cp1)"><rect x="219.2" y="265.9" width="2.5" height="10.0" fill="#5c4a12"/><rect x="219.5" y="266.2" width="1.7" height="9.7" fill="#c9a63a"/><rect x="219.7" y="266.7" width="0.8" height="8.5" fill="#eed880"/></g>
<g clip-path="url(#cp1)"><rect x="224.2" y="263.3" width="2.5" height="10.0" fill="#5c4a12"/><rect x="224.6" y="263.6" width="1.7" height="9.7" fill="#c9a63a"/><rect x="224.8" y="264.1" width="0.8" height="8.5" fill="#eed880"/></g>
<g clip-path="url(#cp1)"><rect x="229.3" y="260.7" width="2.5" height="10.0" fill="#5c4a12"/><rect x="229.6" y="261.0" width="1.7" height="9.7" fill="#c9a63a"/><rect x="229.8" y="261.5" width="0.8" height="8.5" fill="#eed880"/></g>
<g clip-path="url(#cp1)"><rect x="234.4" y="258.0" width="2.5" height="10.0" fill="#5c4a12"/><rect x="234.7" y="258.3" width="1.7" height="9.7" fill="#c9a63a"/><rect x="234.9" y="258.8" width="0.8" height="8.5" fill="#eed880"/></g>
<g clip-path="url(#cp1)"><rect x="239.4" y="255.4" width="2.5" height="10.0" fill="#5c4a12"/><rect x="239.7" y="255.7" width="1.7" height="9.7" fill="#c9a63a"/><rect x="239.9" y="256.2" width="0.8" height="8.5" fill="#eed880"/></g>
<g clip-path="url(#cp1)"><rect x="244.4" y="252.8" width="2.5" height="10.0" fill="#5c4a12"/><rect x="244.8" y="253.1" width="1.7" height="9.7" fill="#c9a63a"/><rect x="244.9" y="253.6" width="0.8" height="8.5" fill="#eed880"/></g>
<g clip-path="url(#cp1)"><rect x="249.5" y="250.2" width="2.5" height="10.0" fill="#5c4a12"/><rect x="249.8" y="250.5" width="1.7" height="9.7" fill="#c9a63a"/><rect x="250.0" y="251.0" width="0.8" height="8.5" fill="#eed880"/></g>
<g clip-path="url(#cp1)"><rect x="254.6" y="247.5" width="2.5" height="10.0" fill="#5c4a12"/><rect x="254.9" y="247.8" width="1.7" height="9.7" fill="#c9a63a"/><rect x="255.1" y="248.3" width="0.8" height="8.5" fill="#eed880"/></g>
<g clip-path="url(#cp1)"><rect x="259.6" y="244.9" width="2.5" height="10.0" fill="#5c4a12"/><rect x="259.9" y="245.2" width="1.7" height="9.7" fill="#c9a63a"/><rect x="260.1" y="245.7" width="0.8" height="8.5" fill="#eed880"/></g>
<g clip-path="url(#cp1)"><rect x="264.6" y="242.3" width="2.5" height="10.0" fill="#5c4a12"/><rect x="264.9" y="242.6" width="1.7" height="9.7" fill="#c9a63a"/><rect x="265.1" y="243.1" width="0.8" height="8.5" fill="#eed880"/></g>
<g clip-path="url(#cp1)"><rect x="269.7" y="239.7" width="2.5" height="10.0" fill="#5c4a12"/><rect x="270.0" y="240.0" width="1.7" height="9.7" fill="#c9a63a"/><rect x="270.2" y="240.5" width="0.8" height="8.5" fill="#eed880"/></g>
<g clip-path="url(#cp1)"><rect x="274.8" y="237.0" width="2.5" height="10.0" fill="#5c4a12"/><rect x="275.1" y="237.3" width="1.7" height="9.7" fill="#c9a63a"/><rect x="275.2" y="237.8" width="0.8" height="8.5" fill="#eed880"/></g>
<g clip-path="url(#cp1)"><rect x="208.6" y="274.8" width="2.5" height="11.4" fill="#5c4a12"/><rect x="208.9" y="275.1" width="1.7" height="11.1" fill="#c9a63a"/><rect x="209.1" y="275.6" width="0.8" height="9.9" fill="#eed880"/></g>
<g clip-path="url(#cp1)"><rect x="213.6" y="272.1" width="2.5" height="11.4" fill="#5c4a12"/><rect x="213.9" y="272.4" width="1.7" height="11.1" fill="#c9a63a"/><rect x="214.1" y="272.9" width="0.8" height="9.9" fill="#eed880"/></g>
<g clip-path="url(#cp1)"><rect x="218.7" y="269.5" width="2.5" height="11.4" fill="#5c4a12"/><rect x="219.0" y="269.8" width="1.7" height="11.1" fill="#c9a63a"/><rect x="219.2" y="270.3" width="0.8" height="9.9" fill="#eed880"/></g>
<g clip-path="url(#cp1)"><rect x="223.7" y="266.9" width="2.5" height="11.4" fill="#5c4a12"/><rect x="224.0" y="267.2" width="1.7" height="11.1" fill="#c9a63a"/><rect x="224.2" y="267.7" width="0.8" height="9.9" fill="#eed880"/></g>
<g clip-path="url(#cp1)"><rect x="228.8" y="264.3" width="2.5" height="11.4" fill="#5c4a12"/><rect x="229.1" y="264.6" width="1.7" height="11.1" fill="#c9a63a"/><rect x="229.2" y="265.1" width="0.8" height="9.9" fill="#eed880"/></g>
<g clip-path="url(#cp1)"><rect x="233.8" y="261.6" width="2.5" height="11.4" fill="#5c4a12"/><rect x="234.1" y="261.9" width="1.7" height="11.1" fill="#c9a63a"/><rect x="234.3" y="262.4" width="0.8" height="9.9" fill="#eed880"/></g>
<g clip-path="url(#cp1)"><rect x="238.9" y="259.0" width="2.5" height="11.4" fill="#5c4a12"/><rect x="239.2" y="259.3" width="1.7" height="11.1" fill="#c9a63a"/><rect x="239.4" y="259.8" width="0.8" height="9.9" fill="#eed880"/></g>
<g clip-path="url(#cp1)"><rect x="243.9" y="256.4" width="2.5" height="11.4" fill="#5c4a12"/><rect x="244.2" y="256.7" width="1.7" height="11.1" fill="#c9a63a"/><rect x="244.4" y="257.2" width="0.8" height="9.9" fill="#eed880"/></g>
<g clip-path="url(#cp1)"><rect x="248.9" y="253.7" width="2.5" height="11.4" fill="#5c4a12"/><rect x="249.2" y="254.0" width="1.7" height="11.1" fill="#c9a63a"/><rect x="249.4" y="254.5" width="0.8" height="9.9" fill="#eed880"/></g>
<g clip-path="url(#cp1)"><rect x="254.0" y="251.1" width="2.5" height="11.4" fill="#5c4a12"/><rect x="254.3" y="251.4" width="1.7" height="11.1" fill="#c9a63a"/><rect x="254.5" y="251.9" width="0.8" height="9.9" fill="#eed880"/></g>
<g clip-path="url(#cp1)"><rect x="259.1" y="248.5" width="2.5" height="11.4" fill="#5c4a12"/><rect x="259.4" y="248.8" width="1.7" height="11.1" fill="#c9a63a"/><rect x="259.6" y="249.3" width="0.8" height="9.9" fill="#eed880"/></g>
<g clip-path="url(#cp1)"><rect x="264.1" y="245.9" width="2.5" height="11.4" fill="#5c4a12"/><rect x="264.4" y="246.2" width="1.7" height="11.1" fill="#c9a63a"/><rect x="264.6" y="246.7" width="0.8" height="9.9" fill="#eed880"/></g>
<g clip-path="url(#cp1)"><rect x="269.1" y="243.2" width="2.5" height="11.4" fill="#5c4a12"/><rect x="269.4" y="243.5" width="1.7" height="11.1" fill="#c9a63a"/><rect x="269.6" y="244.0" width="0.8" height="9.9" fill="#eed880"/></g>
<g clip-path="url(#cp1)"><rect x="274.2" y="240.6" width="2.5" height="11.4" fill="#5c4a12"/><rect x="274.5" y="240.9" width="1.7" height="11.1" fill="#c9a63a"/><rect x="274.7" y="241.4" width="0.8" height="9.9" fill="#eed880"/></g>
<g clip-path="url(#cp1)"><rect x="279.2" y="238.0" width="2.5" height="11.4" fill="#5c4a12"/><rect x="279.6" y="238.3" width="1.7" height="11.1" fill="#c9a63a"/><rect x="279.8" y="238.8" width="0.8" height="9.9" fill="#eed880"/></g>
<polygon points="191.7,280.7 193.7,280.0 206.0,286.6 206.0,296.0 195.2,301.6 191.7,292.3" fill="#d9d9d9" stroke="#3c3c3c" stroke-width="0.45" stroke-linejoin="round"/>
<polygon points="206.0,286.6 213.3,283.0 213.3,292.5 206.0,296.0" fill="#c9c9c9" stroke="#3c3c3c" stroke-width="0.4" stroke-linejoin="round"/>
<polygon points="213.3,294.8 247.8,276.9 247.8,263.7 213.3,281.6" fill="#d9d9d9" stroke="#3c3c3c" stroke-width="0.45" stroke-linejoin="round"/>
<polygon points="211.8,280.8 213.3,281.6 247.8,263.7 246.3,262.9" fill="#ededed" stroke="#3c3c3c" stroke-width="0.35" stroke-linejoin="round"/>
<polygon points="252.8,274.3 288.3,255.8 288.3,242.6 252.8,261.1" fill="#d9d9d9" stroke="#3c3c3c" stroke-width="0.45" stroke-linejoin="round"/>
<polygon points="251.3,260.3 252.8,261.1 288.3,242.6 286.8,241.8" fill="#ededed" stroke="#3c3c3c" stroke-width="0.35" stroke-linejoin="round"/>
<polygon points="247.8,276.9 252.8,274.3 252.8,269.3 247.8,271.9" fill="#c9c9c9" stroke="#3c3c3c" stroke-width="0.4" stroke-linejoin="round"/>
<g><rect x="248.1" y="260.5" width="2.4" height="9.5" fill="#5c4a12"/><rect x="248.4" y="260.8" width="1.6" height="9.2" fill="#c9a63a"/><rect x="248.6" y="261.3" width="0.7" height="8.0" fill="#eed880"/></g>
<polyline points="214.5,281.0 215.9,285.2" fill="none" stroke="#3c3c3c" stroke-width="0.4" stroke-linecap="round" stroke-linejoin="round"/>
<polygon points="291.3,257.4 306.8,249.3 306.8,242.5 291.3,250.6" fill="#c9c9c9" stroke="#3c3c3c" stroke-width="0.45" stroke-linejoin="round"/>
<polygon points="272.3,240.6 291.3,250.6 306.8,242.5 287.8,232.6" fill="#ededed" stroke="#3c3c3c" stroke-width="0.45" stroke-linejoin="round"/>
<polygon points="288.3,249.0 291.3,250.6 291.3,257.4 288.3,255.8" fill="#d9d9d9" stroke="#3c3c3c" stroke-width="0.4" stroke-linejoin="round"/>
<polygon points="285.6,233.7 304.6,243.7 306.8,242.5 287.8,232.6" fill="#dcdcdc" stroke="#3c3c3c" stroke-width="0.35" stroke-linejoin="round"/>
<polygon points="274.8,241.4 274.8,233.4 276.8,231.4 297.8,241.0 297.8,242.0" fill="#d9d9d9" stroke="#3c3c3c" stroke-width="0.4" stroke-linejoin="round"/>
<polygon points="285.3,243.3 290.8,246.1 296.3,243.3 290.8,240.4" fill="#c4c4c4" stroke="#3c3c3c" stroke-width="0.35" stroke-linejoin="round"/>
<polyline points="615.2,248.6 615.2,250.4 612.6,252.0" fill="none" stroke="#4a4a4a" stroke-width="2.3" stroke-linecap="round" stroke-linejoin="round"/>
<polyline points="615.2,248.6 615.2,250.4 612.6,252.0" fill="none" stroke="#ddd" stroke-width="1.2" stroke-linecap="round" stroke-linejoin="round"/>
<polyline points="620.5,251.4 620.5,253.2 617.9,254.8" fill="none" stroke="#4a4a4a" stroke-width="2.3" stroke-linecap="round" stroke-linejoin="round"/>
<polyline points="620.5,251.4 620.5,253.2 617.9,254.8" fill="none" stroke="#ddd" stroke-width="1.2" stroke-linecap="round" stroke-linejoin="round"/>
<polyline points="625.9,254.2 625.9,256.0 623.3,257.6" fill="none" stroke="#4a4a4a" stroke-width="2.3" stroke-linecap="round" stroke-linejoin="round"/>
<polyline points="625.9,254.2 625.9,256.0 623.3,257.6" fill="none" stroke="#ddd" stroke-width="1.2" stroke-linecap="round" stroke-linejoin="round"/>
<polyline points="631.2,257.0 631.2,258.8 628.6,260.4" fill="none" stroke="#4a4a4a" stroke-width="2.3" stroke-linecap="round" stroke-linejoin="round"/>
<polyline points="631.2,257.0 631.2,258.8 628.6,260.4" fill="none" stroke="#ddd" stroke-width="1.2" stroke-linecap="round" stroke-linejoin="round"/>
<polyline points="636.5,259.8 636.5,261.6 633.9,263.2" fill="none" stroke="#4a4a4a" stroke-width="2.3" stroke-linecap="round" stroke-linejoin="round"/>
<polyline points="636.5,259.8 636.5,261.6 633.9,263.2" fill="none" stroke="#ddd" stroke-width="1.2" stroke-linecap="round" stroke-linejoin="round"/>
<polyline points="641.9,262.6 641.9,264.4 639.3,266.0" fill="none" stroke="#4a4a4a" stroke-width="2.3" stroke-linecap="round" stroke-linejoin="round"/>
<polyline points="641.9,262.6 641.9,264.4 639.3,266.0" fill="none" stroke="#ddd" stroke-width="1.2" stroke-linecap="round" stroke-linejoin="round"/>
<polyline points="647.2,265.4 647.2,267.2 644.6,268.8" fill="none" stroke="#4a4a4a" stroke-width="2.3" stroke-linecap="round" stroke-linejoin="round"/>
<polyline points="647.2,265.4 647.2,267.2 644.6,268.8" fill="none" stroke="#ddd" stroke-width="1.2" stroke-linecap="round" stroke-linejoin="round"/>
<polyline points="652.5,268.2 652.5,270.0 649.9,271.6" fill="none" stroke="#4a4a4a" stroke-width="2.3" stroke-linecap="round" stroke-linejoin="round"/>
<polyline points="652.5,268.2 652.5,270.0 649.9,271.6" fill="none" stroke="#ddd" stroke-width="1.2" stroke-linecap="round" stroke-linejoin="round"/>
<polyline points="657.8,271.0 657.8,272.8 655.2,274.4" fill="none" stroke="#4a4a4a" stroke-width="2.3" stroke-linecap="round" stroke-linejoin="round"/>
<polyline points="657.8,271.0 657.8,272.8 655.2,274.4" fill="none" stroke="#ddd" stroke-width="1.2" stroke-linecap="round" stroke-linejoin="round"/>
<polyline points="663.2,273.8 663.2,275.6 660.6,277.2" fill="none" stroke="#4a4a4a" stroke-width="2.3" stroke-linecap="round" stroke-linejoin="round"/>
<polyline points="663.2,273.8 663.2,275.6 660.6,277.2" fill="none" stroke="#ddd" stroke-width="1.2" stroke-linecap="round" stroke-linejoin="round"/>
<polyline points="668.5,276.6 668.5,278.4 665.9,280.0" fill="none" stroke="#4a4a4a" stroke-width="2.3" stroke-linecap="round" stroke-linejoin="round"/>
<polyline points="668.5,276.6 668.5,278.4 665.9,280.0" fill="none" stroke="#ddd" stroke-width="1.2" stroke-linecap="round" stroke-linejoin="round"/>
<polyline points="673.8,279.4 673.8,281.2 671.2,282.8" fill="none" stroke="#4a4a4a" stroke-width="2.3" stroke-linecap="round" stroke-linejoin="round"/>
<polyline points="673.8,279.4 673.8,281.2 671.2,282.8" fill="none" stroke="#ddd" stroke-width="1.2" stroke-linecap="round" stroke-linejoin="round"/>
<polyline points="679.2,282.2 679.2,284.0 676.6,285.6" fill="none" stroke="#4a4a4a" stroke-width="2.3" stroke-linecap="round" stroke-linejoin="round"/>
<polyline points="679.2,282.2 679.2,284.0 676.6,285.6" fill="none" stroke="#ddd" stroke-width="1.2" stroke-linecap="round" stroke-linejoin="round"/>
<polyline points="684.5,284.9 684.5,286.7 681.9,288.3" fill="none" stroke="#4a4a4a" stroke-width="2.3" stroke-linecap="round" stroke-linejoin="round"/>
<polyline points="684.5,284.9 684.5,286.7 681.9,288.3" fill="none" stroke="#ddd" stroke-width="1.2" stroke-linecap="round" stroke-linejoin="round"/>
<polyline points="697.7,286.3 697.7,288.1 699.5,290.1" fill="none" stroke="#4a4a4a" stroke-width="2.3" stroke-linecap="round" stroke-linejoin="round"/>
<polyline points="697.7,286.3 697.7,288.1 699.5,290.1" fill="none" stroke="#ddd" stroke-width="1.2" stroke-linecap="round" stroke-linejoin="round"/>
<polyline points="703.5,283.3 703.5,285.1 705.3,287.1" fill="none" stroke="#4a4a4a" stroke-width="2.3" stroke-linecap="round" stroke-linejoin="round"/>
<polyline points="703.5,283.3 703.5,285.1 705.3,287.1" fill="none" stroke="#ddd" stroke-width="1.2" stroke-linecap="round" stroke-linejoin="round"/>
<polygon points="607.3,229.7 692.4,274.3 707.8,266.3 622.7,221.7" fill="#d6d6d6" stroke="#333" stroke-width="0.45" stroke-linejoin="round"/>
<polygon points="611.3,229.7 692.4,272.2 704.0,266.2 622.9,223.7" fill="#8f8f8f" stroke="#333" stroke-width="0.4" stroke-linejoin="round"/>
<clipPath id="cp2"><polygon points="611.3,229.7 692.4,272.2 704.0,266.2 622.9,223.7"/></clipPath>
<polygon points="611.3,229.7 622.9,223.7 622.9,232.7 611.3,238.7" fill="#a9a9a9" clip-path="url(#cp2)"/>
<g clip-path="url(#cp2)"><rect x="623.9" y="228.1" width="3.2" height="10.4" fill="#5c4a12"/><rect x="624.2" y="228.4" width="2.4" height="10.1" fill="#c9a63a"/><rect x="624.4" y="228.9" width="1.0" height="8.9" fill="#eed880"/></g>
<polyline points="628.3,227.0 628.3,235.5" fill="none" stroke="#5e5e5e" stroke-width="0.5" stroke-linecap="round" stroke-linejoin="round" clip-path="url(#cp2)"/>
<g clip-path="url(#cp2)"><rect x="629.4" y="231.0" width="3.2" height="10.4" fill="#5c4a12"/><rect x="629.7" y="231.3" width="2.4" height="10.1" fill="#c9a63a"/><rect x="629.9" y="231.8" width="1.0" height="8.9" fill="#eed880"/></g>
<polyline points="633.8,229.9 633.8,238.4" fill="none" stroke="#5e5e5e" stroke-width="0.5" stroke-linecap="round" stroke-linejoin="round" clip-path="url(#cp2)"/>
<g clip-path="url(#cp2)"><rect x="635.0" y="233.9" width="3.2" height="10.4" fill="#5c4a12"/><rect x="635.3" y="234.2" width="2.4" height="10.1" fill="#c9a63a"/><rect x="635.5" y="234.7" width="1.0" height="8.9" fill="#eed880"/></g>
<polyline points="639.4,232.8 639.4,241.3" fill="none" stroke="#5e5e5e" stroke-width="0.5" stroke-linecap="round" stroke-linejoin="round" clip-path="url(#cp2)"/>
<g clip-path="url(#cp2)"><rect x="640.5" y="236.8" width="3.2" height="10.4" fill="#5c4a12"/><rect x="640.8" y="237.1" width="2.4" height="10.1" fill="#c9a63a"/><rect x="641.0" y="237.6" width="1.0" height="8.9" fill="#eed880"/></g>
<polyline points="644.9,235.7 644.9,244.2" fill="none" stroke="#5e5e5e" stroke-width="0.5" stroke-linecap="round" stroke-linejoin="round" clip-path="url(#cp2)"/>
<g clip-path="url(#cp2)"><rect x="646.1" y="239.7" width="3.2" height="10.4" fill="#5c4a12"/><rect x="646.4" y="240.0" width="2.4" height="10.1" fill="#c9a63a"/><rect x="646.6" y="240.5" width="1.0" height="8.9" fill="#eed880"/></g>
<polyline points="650.5,238.6 650.5,247.1" fill="none" stroke="#5e5e5e" stroke-width="0.5" stroke-linecap="round" stroke-linejoin="round" clip-path="url(#cp2)"/>
<g clip-path="url(#cp2)"><rect x="651.6" y="242.6" width="3.2" height="10.4" fill="#5c4a12"/><rect x="651.9" y="242.9" width="2.4" height="10.1" fill="#c9a63a"/><rect x="652.1" y="243.4" width="1.0" height="8.9" fill="#eed880"/></g>
<polyline points="656.0,241.5 656.0,250.0" fill="none" stroke="#5e5e5e" stroke-width="0.5" stroke-linecap="round" stroke-linejoin="round" clip-path="url(#cp2)"/>
<g clip-path="url(#cp2)"><rect x="657.2" y="245.5" width="3.2" height="10.4" fill="#5c4a12"/><rect x="657.5" y="245.8" width="2.4" height="10.1" fill="#c9a63a"/><rect x="657.7" y="246.3" width="1.0" height="8.9" fill="#eed880"/></g>
<polyline points="661.6,244.4 661.6,252.9" fill="none" stroke="#5e5e5e" stroke-width="0.5" stroke-linecap="round" stroke-linejoin="round" clip-path="url(#cp2)"/>
<g clip-path="url(#cp2)"><rect x="662.8" y="248.5" width="3.2" height="10.4" fill="#5c4a12"/><rect x="663.0" y="248.8" width="2.4" height="10.1" fill="#c9a63a"/><rect x="663.2" y="249.3" width="1.0" height="8.9" fill="#eed880"/></g>
<polyline points="667.1,247.4 667.1,255.9" fill="none" stroke="#5e5e5e" stroke-width="0.5" stroke-linecap="round" stroke-linejoin="round" clip-path="url(#cp2)"/>
<g clip-path="url(#cp2)"><rect x="668.3" y="251.4" width="3.2" height="10.4" fill="#5c4a12"/><rect x="668.6" y="251.7" width="2.4" height="10.1" fill="#c9a63a"/><rect x="668.8" y="252.2" width="1.0" height="8.9" fill="#eed880"/></g>
<polyline points="672.7,250.3 672.7,258.8" fill="none" stroke="#5e5e5e" stroke-width="0.5" stroke-linecap="round" stroke-linejoin="round" clip-path="url(#cp2)"/>
<g clip-path="url(#cp2)"><rect x="673.9" y="254.3" width="3.2" height="10.4" fill="#5c4a12"/><rect x="674.1" y="254.6" width="2.4" height="10.1" fill="#c9a63a"/><rect x="674.4" y="255.1" width="1.0" height="8.9" fill="#eed880"/></g>
<polyline points="678.2,253.2 678.2,261.7" fill="none" stroke="#5e5e5e" stroke-width="0.5" stroke-linecap="round" stroke-linejoin="round" clip-path="url(#cp2)"/>
<g clip-path="url(#cp2)"><rect x="679.4" y="257.2" width="3.2" height="10.4" fill="#5c4a12"/><rect x="679.7" y="257.5" width="2.4" height="10.1" fill="#c9a63a"/><rect x="679.9" y="258.0" width="1.0" height="8.9" fill="#eed880"/></g>
<polyline points="683.8,256.1 683.8,264.6" fill="none" stroke="#5e5e5e" stroke-width="0.5" stroke-linecap="round" stroke-linejoin="round" clip-path="url(#cp2)"/>
<g clip-path="url(#cp2)"><rect x="684.9" y="260.1" width="3.2" height="10.4" fill="#5c4a12"/><rect x="685.2" y="260.4" width="2.4" height="10.1" fill="#c9a63a"/><rect x="685.4" y="260.9" width="1.0" height="8.9" fill="#eed880"/></g>
<polyline points="689.3,259.0 689.3,267.5" fill="none" stroke="#5e5e5e" stroke-width="0.5" stroke-linecap="round" stroke-linejoin="round" clip-path="url(#cp2)"/>
<g clip-path="url(#cp2)"><rect x="690.5" y="263.0" width="3.2" height="10.4" fill="#5c4a12"/><rect x="690.8" y="263.3" width="2.4" height="10.1" fill="#c9a63a"/><rect x="691.0" y="263.8" width="1.0" height="8.9" fill="#eed880"/></g>
<polyline points="694.9,261.9 694.9,270.4" fill="none" stroke="#5e5e5e" stroke-width="0.5" stroke-linecap="round" stroke-linejoin="round" clip-path="url(#cp2)"/>
<g clip-path="url(#cp2)"><rect x="696.0" y="265.9" width="3.2" height="10.4" fill="#5c4a12"/><rect x="696.3" y="266.2" width="2.4" height="10.1" fill="#c9a63a"/><rect x="696.5" y="266.7" width="1.0" height="8.9" fill="#eed880"/></g>
<polyline points="700.4,264.8 700.4,273.3" fill="none" stroke="#5e5e5e" stroke-width="0.5" stroke-linecap="round" stroke-linejoin="round" clip-path="url(#cp2)"/>
<polygon points="607.3,229.7 692.4,274.3 692.4,290.3 607.3,245.7" fill="#b9b9b9" stroke="#333" stroke-width="0.45" stroke-linejoin="round"/>
<polygon points="692.4,274.3 707.8,266.3 707.8,282.3 692.4,290.3" fill="#9d9d9d" stroke="#333" stroke-width="0.45" stroke-linejoin="round"/>
<polygon points="698.4,273.2 701.9,271.4 701.9,280.9 698.4,282.7" fill="#c9c9c9" stroke="#333" stroke-width="0.4" stroke-linejoin="round"/>
<polygon points="647.8,250.9 653.3,253.8 653.3,267.3 647.8,264.4" fill="#f0f0f0" stroke="#333" stroke-width="0.4" stroke-linejoin="round"/>
<g><rect x="649.4" y="253.8" width="2.2" height="10.0" fill="#5c4a12"/><rect x="649.7" y="254.1" width="1.4" height="9.7" fill="#c9a63a"/><rect x="649.9" y="254.6" width="0.7" height="8.5" fill="#eed880"/></g>
<polygon points="617.8,240.7 624.8,244.4 624.8,249.9 617.8,246.2" fill="#efefef" stroke="#333" stroke-width="0.4" stroke-linejoin="round"/>
<polygon points="619.6,241.6 623.0,243.4 623.0,246.1 619.6,244.3" fill="#b9b9b9" stroke="#333" stroke-width="0.35" stroke-linejoin="round"/>
<polygon points="676.3,271.4 683.3,275.0 683.3,280.5 676.3,276.9" fill="#efefef" stroke="#333" stroke-width="0.4" stroke-linejoin="round"/>
<polygon points="678.1,272.3 681.5,274.1 681.5,276.8 678.1,275.0" fill="#b9b9b9" stroke="#333" stroke-width="0.35" stroke-linejoin="round"/>
<polyline points="608.1,229.7 613.8,237.6 616.6,233.7" fill="none" stroke="#333" stroke-width="0.5" stroke-linecap="round" stroke-linejoin="round"/>
<polygon points="142.5,326.8 253.2,386.9 253.2,397.1 142.5,337.0" fill="#8d8d8d" stroke="#3a3a3a" stroke-width="0.4" stroke-linejoin="round"/>
<path d="M144.6,334.4 l-4.2,2.2 q-1.3,0.7 -1.3,2.2 v4.4M148.9,336.7 l-4.2,2.2 q-1.3,0.7 -1.3,2.2 v4.4M153.1,339.0 l-4.2,2.2 q-1.3,0.7 -1.3,2.2 v4.4M157.4,341.3 l-4.2,2.2 q-1.3,0.7 -1.3,2.2 v4.4M161.7,343.6 l-4.2,2.2 q-1.3,0.7 -1.3,2.2 v4.4M165.9,345.9 l-4.2,2.2 q-1.3,0.7 -1.3,2.2 v4.4M170.2,348.2 l-4.2,2.2 q-1.3,0.7 -1.3,2.2 v4.4M174.4,350.5 l-4.2,2.2 q-1.3,0.7 -1.3,2.2 v4.4M178.7,352.8 l-4.2,2.2 q-1.3,0.7 -1.3,2.2 v4.4M182.9,355.2 l-4.2,2.2 q-1.3,0.7 -1.3,2.2 v4.4M187.2,357.5 l-4.2,2.2 q-1.3,0.7 -1.3,2.2 v4.4M191.5,359.8 l-4.2,2.2 q-1.3,0.7 -1.3,2.2 v4.4M195.7,362.1 l-4.2,2.2 q-1.3,0.7 -1.3,2.2 v4.4M200.0,364.4 l-4.2,2.2 q-1.3,0.7 -1.3,2.2 v4.4M204.2,366.7 l-4.2,2.2 q-1.3,0.7 -1.3,2.2 v4.4M208.5,369.0 l-4.2,2.2 q-1.3,0.7 -1.3,2.2 v4.4M212.8,371.3 l-4.2,2.2 q-1.3,0.7 -1.3,2.2 v4.4M217.0,373.7 l-4.2,2.2 q-1.3,0.7 -1.3,2.2 v4.4M221.3,376.0 l-4.2,2.2 q-1.3,0.7 -1.3,2.2 v4.4M225.5,378.3 l-4.2,2.2 q-1.3,0.7 -1.3,2.2 v4.4M229.8,380.6 l-4.2,2.2 q-1.3,0.7 -1.3,2.2 v4.4M234.0,382.9 l-4.2,2.2 q-1.3,0.7 -1.3,2.2 v4.4M238.3,385.2 l-4.2,2.2 q-1.3,0.7 -1.3,2.2 v4.4M242.6,387.5 l-4.2,2.2 q-1.3,0.7 -1.3,2.2 v4.4M246.8,389.8 l-4.2,2.2 q-1.3,0.7 -1.3,2.2 v4.4M251.1,392.1 l-4.2,2.2 q-1.3,0.7 -1.3,2.2 v4.4M144.6,330.0 l-7.4,3.8 q-1.4,0.8 -1.4,2.4 v4.2M148.9,332.3 l-7.4,3.8 q-1.4,0.8 -1.4,2.4 v4.2M153.1,334.6 l-7.4,3.8 q-1.4,0.8 -1.4,2.4 v4.2M157.4,336.9 l-7.4,3.8 q-1.4,0.8 -1.4,2.4 v4.2M161.7,339.2 l-7.4,3.8 q-1.4,0.8 -1.4,2.4 v4.2M165.9,341.5 l-7.4,3.8 q-1.4,0.8 -1.4,2.4 v4.2M170.2,343.8 l-7.4,3.8 q-1.4,0.8 -1.4,2.4 v4.2M174.4,346.1 l-7.4,3.8 q-1.4,0.8 -1.4,2.4 v4.2M178.7,348.4 l-7.4,3.8 q-1.4,0.8 -1.4,2.4 v4.2M182.9,350.8 l-7.4,3.8 q-1.4,0.8 -1.4,2.4 v4.2M187.2,353.1 l-7.4,3.8 q-1.4,0.8 -1.4,2.4 v4.2M191.5,355.4 l-7.4,3.8 q-1.4,0.8 -1.4,2.4 v4.2M195.7,357.7 l-7.4,3.8 q-1.4,0.8 -1.4,2.4 v4.2M200.0,360.0 l-7.4,3.8 q-1.4,0.8 -1.4,2.4 v4.2M204.2,362.3 l-7.4,3.8 q-1.4,0.8 -1.4,2.4 v4.2M208.5,364.6 l-7.4,3.8 q-1.4,0.8 -1.4,2.4 v4.2M212.8,366.9 l-7.4,3.8 q-1.4,0.8 -1.4,2.4 v4.2M217.0,369.3 l-7.4,3.8 q-1.4,0.8 -1.4,2.4 v4.2M221.3,371.6 l-7.4,3.8 q-1.4,0.8 -1.4,2.4 v4.2M225.5,373.9 l-7.4,3.8 q-1.4,0.8 -1.4,2.4 v4.2M229.8,376.2 l-7.4,3.8 q-1.4,0.8 -1.4,2.4 v4.2M234.0,378.5 l-7.4,3.8 q-1.4,0.8 -1.4,2.4 v4.2M238.3,380.8 l-7.4,3.8 q-1.4,0.8 -1.4,2.4 v4.2M242.6,383.1 l-7.4,3.8 q-1.4,0.8 -1.4,2.4 v4.2M246.8,385.4 l-7.4,3.8 q-1.4,0.8 -1.4,2.4 v4.2M251.1,387.7 l-7.4,3.8 q-1.4,0.8 -1.4,2.4 v4.2" fill="none" stroke="#3f3710" stroke-width="2.2" stroke-linejoin="round" stroke-linecap="round"/>
<path d="M144.6,334.4 l-4.2,2.2 q-1.3,0.7 -1.3,2.2 v4.4M148.9,336.7 l-4.2,2.2 q-1.3,0.7 -1.3,2.2 v4.4M153.1,339.0 l-4.2,2.2 q-1.3,0.7 -1.3,2.2 v4.4M157.4,341.3 l-4.2,2.2 q-1.3,0.7 -1.3,2.2 v4.4M161.7,343.6 l-4.2,2.2 q-1.3,0.7 -1.3,2.2 v4.4M165.9,345.9 l-4.2,2.2 q-1.3,0.7 -1.3,2.2 v4.4M170.2,348.2 l-4.2,2.2 q-1.3,0.7 -1.3,2.2 v4.4M174.4,350.5 l-4.2,2.2 q-1.3,0.7 -1.3,2.2 v4.4M178.7,352.8 l-4.2,2.2 q-1.3,0.7 -1.3,2.2 v4.4M182.9,355.2 l-4.2,2.2 q-1.3,0.7 -1.3,2.2 v4.4M187.2,357.5 l-4.2,2.2 q-1.3,0.7 -1.3,2.2 v4.4M191.5,359.8 l-4.2,2.2 q-1.3,0.7 -1.3,2.2 v4.4M195.7,362.1 l-4.2,2.2 q-1.3,0.7 -1.3,2.2 v4.4M200.0,364.4 l-4.2,2.2 q-1.3,0.7 -1.3,2.2 v4.4M204.2,366.7 l-4.2,2.2 q-1.3,0.7 -1.3,2.2 v4.4M208.5,369.0 l-4.2,2.2 q-1.3,0.7 -1.3,2.2 v4.4M212.8,371.3 l-4.2,2.2 q-1.3,0.7 -1.3,2.2 v4.4M217.0,373.7 l-4.2,2.2 q-1.3,0.7 -1.3,2.2 v4.4M221.3,376.0 l-4.2,2.2 q-1.3,0.7 -1.3,2.2 v4.4M225.5,378.3 l-4.2,2.2 q-1.3,0.7 -1.3,2.2 v4.4M229.8,380.6 l-4.2,2.2 q-1.3,0.7 -1.3,2.2 v4.4M234.0,382.9 l-4.2,2.2 q-1.3,0.7 -1.3,2.2 v4.4M238.3,385.2 l-4.2,2.2 q-1.3,0.7 -1.3,2.2 v4.4M242.6,387.5 l-4.2,2.2 q-1.3,0.7 -1.3,2.2 v4.4M246.8,389.8 l-4.2,2.2 q-1.3,0.7 -1.3,2.2 v4.4M251.1,392.1 l-4.2,2.2 q-1.3,0.7 -1.3,2.2 v4.4M144.6,330.0 l-7.4,3.8 q-1.4,0.8 -1.4,2.4 v4.2M148.9,332.3 l-7.4,3.8 q-1.4,0.8 -1.4,2.4 v4.2M153.1,334.6 l-7.4,3.8 q-1.4,0.8 -1.4,2.4 v4.2M157.4,336.9 l-7.4,3.8 q-1.4,0.8 -1.4,2.4 v4.2M161.7,339.2 l-7.4,3.8 q-1.4,0.8 -1.4,2.4 v4.2M165.9,341.5 l-7.4,3.8 q-1.4,0.8 -1.4,2.4 v4.2M170.2,343.8 l-7.4,3.8 q-1.4,0.8 -1.4,2.4 v4.2M174.4,346.1 l-7.4,3.8 q-1.4,0.8 -1.4,2.4 v4.2M178.7,348.4 l-7.4,3.8 q-1.4,0.8 -1.4,2.4 v4.2M182.9,350.8 l-7.4,3.8 q-1.4,0.8 -1.4,2.4 v4.2M187.2,353.1 l-7.4,3.8 q-1.4,0.8 -1.4,2.4 v4.2M191.5,355.4 l-7.4,3.8 q-1.4,0.8 -1.4,2.4 v4.2M195.7,357.7 l-7.4,3.8 q-1.4,0.8 -1.4,2.4 v4.2M200.0,360.0 l-7.4,3.8 q-1.4,0.8 -1.4,2.4 v4.2M204.2,362.3 l-7.4,3.8 q-1.4,0.8 -1.4,2.4 v4.2M208.5,364.6 l-7.4,3.8 q-1.4,0.8 -1.4,2.4 v4.2M212.8,366.9 l-7.4,3.8 q-1.4,0.8 -1.4,2.4 v4.2M217.0,369.3 l-7.4,3.8 q-1.4,0.8 -1.4,2.4 v4.2M221.3,371.6 l-7.4,3.8 q-1.4,0.8 -1.4,2.4 v4.2M225.5,373.9 l-7.4,3.8 q-1.4,0.8 -1.4,2.4 v4.2M229.8,376.2 l-7.4,3.8 q-1.4,0.8 -1.4,2.4 v4.2M234.0,378.5 l-7.4,3.8 q-1.4,0.8 -1.4,2.4 v4.2M238.3,380.8 l-7.4,3.8 q-1.4,0.8 -1.4,2.4 v4.2M242.6,383.1 l-7.4,3.8 q-1.4,0.8 -1.4,2.4 v4.2M246.8,385.4 l-7.4,3.8 q-1.4,0.8 -1.4,2.4 v4.2M251.1,387.7 l-7.4,3.8 q-1.4,0.8 -1.4,2.4 v4.2" fill="none" stroke="#b59c3c" stroke-width="0.9" stroke-linejoin="round" stroke-linecap="round"/>
<polygon points="253.2,386.9 260.0,383.4 260.0,393.6 253.2,397.1" fill="#8f8f8f" stroke="#3a3a3a" stroke-width="0.45" stroke-linejoin="round"/>
<polygon points="142.5,326.8 253.2,386.9 260.0,383.4 149.3,323.3" fill="#d3d3d3" stroke="#3a3a3a" stroke-width="0.45" stroke-linejoin="round"/>
<polygon points="304.4,410.6 415.0,470.7 415.0,480.9 304.4,420.8" fill="#8d8d8d" stroke="#3a3a3a" stroke-width="0.4" stroke-linejoin="round"/>
<path d="M306.5,418.2 l-4.2,2.2 q-1.3,0.7 -1.3,2.2 v4.4M310.8,420.5 l-4.2,2.2 q-1.3,0.7 -1.3,2.2 v4.4M315.0,422.8 l-4.2,2.2 q-1.3,0.7 -1.3,2.2 v4.4M319.3,425.1 l-4.2,2.2 q-1.3,0.7 -1.3,2.2 v4.4M323.5,427.4 l-4.2,2.2 q-1.3,0.7 -1.3,2.2 v4.4M327.8,429.7 l-4.2,2.2 q-1.3,0.7 -1.3,2.2 v4.4M332.0,432.0 l-4.2,2.2 q-1.3,0.7 -1.3,2.2 v4.4M336.3,434.3 l-4.2,2.2 q-1.3,0.7 -1.3,2.2 v4.4M340.6,436.6 l-4.2,2.2 q-1.3,0.7 -1.3,2.2 v4.4M344.8,439.0 l-4.2,2.2 q-1.3,0.7 -1.3,2.2 v4.4M349.1,441.3 l-4.2,2.2 q-1.3,0.7 -1.3,2.2 v4.4M353.3,443.6 l-4.2,2.2 q-1.3,0.7 -1.3,2.2 v4.4M357.6,445.9 l-4.2,2.2 q-1.3,0.7 -1.3,2.2 v4.4M361.8,448.2 l-4.2,2.2 q-1.3,0.7 -1.3,2.2 v4.4M366.1,450.5 l-4.2,2.2 q-1.3,0.7 -1.3,2.2 v4.4M370.3,452.8 l-4.2,2.2 q-1.3,0.7 -1.3,2.2 v4.4M374.6,455.1 l-4.2,2.2 q-1.3,0.7 -1.3,2.2 v4.4M378.8,457.5 l-4.2,2.2 q-1.3,0.7 -1.3,2.2 v4.4M383.1,459.8 l-4.2,2.2 q-1.3,0.7 -1.3,2.2 v4.4M387.4,462.1 l-4.2,2.2 q-1.3,0.7 -1.3,2.2 v4.4M391.6,464.4 l-4.2,2.2 q-1.3,0.7 -1.3,2.2 v4.4M395.9,466.7 l-4.2,2.2 q-1.3,0.7 -1.3,2.2 v4.4M400.1,469.0 l-4.2,2.2 q-1.3,0.7 -1.3,2.2 v4.4M404.4,471.3 l-4.2,2.2 q-1.3,0.7 -1.3,2.2 v4.4M408.6,473.6 l-4.2,2.2 q-1.3,0.7 -1.3,2.2 v4.4M412.9,475.9 l-4.2,2.2 q-1.3,0.7 -1.3,2.2 v4.4M306.5,413.8 l-7.4,3.8 q-1.4,0.8 -1.4,2.4 v4.2M310.8,416.1 l-7.4,3.8 q-1.4,0.8 -1.4,2.4 v4.2M315.0,418.4 l-7.4,3.8 q-1.4,0.8 -1.4,2.4 v4.2M319.3,420.7 l-7.4,3.8 q-1.4,0.8 -1.4,2.4 v4.2M323.5,423.0 l-7.4,3.8 q-1.4,0.8 -1.4,2.4 v4.2M327.8,425.3 l-7.4,3.8 q-1.4,0.8 -1.4,2.4 v4.2M332.0,427.6 l-7.4,3.8 q-1.4,0.8 -1.4,2.4 v4.2M336.3,429.9 l-7.4,3.8 q-1.4,0.8 -1.4,2.4 v4.2M340.6,432.2 l-7.4,3.8 q-1.4,0.8 -1.4,2.4 v4.2M344.8,434.6 l-7.4,3.8 q-1.4,0.8 -1.4,2.4 v4.2M349.1,436.9 l-7.4,3.8 q-1.4,0.8 -1.4,2.4 v4.2M353.3,439.2 l-7.4,3.8 q-1.4,0.8 -1.4,2.4 v4.2M357.6,441.5 l-7.4,3.8 q-1.4,0.8 -1.4,2.4 v4.2M361.8,443.8 l-7.4,3.8 q-1.4,0.8 -1.4,2.4 v4.2M366.1,446.1 l-7.4,3.8 q-1.4,0.8 -1.4,2.4 v4.2M370.3,448.4 l-7.4,3.8 q-1.4,0.8 -1.4,2.4 v4.2M374.6,450.7 l-7.4,3.8 q-1.4,0.8 -1.4,2.4 v4.2M378.8,453.1 l-7.4,3.8 q-1.4,0.8 -1.4,2.4 v4.2M383.1,455.4 l-7.4,3.8 q-1.4,0.8 -1.4,2.4 v4.2M387.4,457.7 l-7.4,3.8 q-1.4,0.8 -1.4,2.4 v4.2M391.6,460.0 l-7.4,3.8 q-1.4,0.8 -1.4,2.4 v4.2M395.9,462.3 l-7.4,3.8 q-1.4,0.8 -1.4,2.4 v4.2M400.1,464.6 l-7.4,3.8 q-1.4,0.8 -1.4,2.4 v4.2M404.4,466.9 l-7.4,3.8 q-1.4,0.8 -1.4,2.4 v4.2M408.6,469.2 l-7.4,3.8 q-1.4,0.8 -1.4,2.4 v4.2M412.9,471.5 l-7.4,3.8 q-1.4,0.8 -1.4,2.4 v4.2" fill="none" stroke="#3f3710" stroke-width="2.2" stroke-linejoin="round" stroke-linecap="round"/>
<path d="M306.5,418.2 l-4.2,2.2 q-1.3,0.7 -1.3,2.2 v4.4M310.8,420.5 l-4.2,2.2 q-1.3,0.7 -1.3,2.2 v4.4M315.0,422.8 l-4.2,2.2 q-1.3,0.7 -1.3,2.2 v4.4M319.3,425.1 l-4.2,2.2 q-1.3,0.7 -1.3,2.2 v4.4M323.5,427.4 l-4.2,2.2 q-1.3,0.7 -1.3,2.2 v4.4M327.8,429.7 l-4.2,2.2 q-1.3,0.7 -1.3,2.2 v4.4M332.0,432.0 l-4.2,2.2 q-1.3,0.7 -1.3,2.2 v4.4M336.3,434.3 l-4.2,2.2 q-1.3,0.7 -1.3,2.2 v4.4M340.6,436.6 l-4.2,2.2 q-1.3,0.7 -1.3,2.2 v4.4M344.8,439.0 l-4.2,2.2 q-1.3,0.7 -1.3,2.2 v4.4M349.1,441.3 l-4.2,2.2 q-1.3,0.7 -1.3,2.2 v4.4M353.3,443.6 l-4.2,2.2 q-1.3,0.7 -1.3,2.2 v4.4M357.6,445.9 l-4.2,2.2 q-1.3,0.7 -1.3,2.2 v4.4M361.8,448.2 l-4.2,2.2 q-1.3,0.7 -1.3,2.2 v4.4M366.1,450.5 l-4.2,2.2 q-1.3,0.7 -1.3,2.2 v4.4M370.3,452.8 l-4.2,2.2 q-1.3,0.7 -1.3,2.2 v4.4M374.6,455.1 l-4.2,2.2 q-1.3,0.7 -1.3,2.2 v4.4M378.8,457.5 l-4.2,2.2 q-1.3,0.7 -1.3,2.2 v4.4M383.1,459.8 l-4.2,2.2 q-1.3,0.7 -1.3,2.2 v4.4M387.4,462.1 l-4.2,2.2 q-1.3,0.7 -1.3,2.2 v4.4M391.6,464.4 l-4.2,2.2 q-1.3,0.7 -1.3,2.2 v4.4M395.9,466.7 l-4.2,2.2 q-1.3,0.7 -1.3,2.2 v4.4M400.1,469.0 l-4.2,2.2 q-1.3,0.7 -1.3,2.2 v4.4M404.4,471.3 l-4.2,2.2 q-1.3,0.7 -1.3,2.2 v4.4M408.6,473.6 l-4.2,2.2 q-1.3,0.7 -1.3,2.2 v4.4M412.9,475.9 l-4.2,2.2 q-1.3,0.7 -1.3,2.2 v4.4M306.5,413.8 l-7.4,3.8 q-1.4,0.8 -1.4,2.4 v4.2M310.8,416.1 l-7.4,3.8 q-1.4,0.8 -1.4,2.4 v4.2M315.0,418.4 l-7.4,3.8 q-1.4,0.8 -1.4,2.4 v4.2M319.3,420.7 l-7.4,3.8 q-1.4,0.8 -1.4,2.4 v4.2M323.5,423.0 l-7.4,3.8 q-1.4,0.8 -1.4,2.4 v4.2M327.8,425.3 l-7.4,3.8 q-1.4,0.8 -1.4,2.4 v4.2M332.0,427.6 l-7.4,3.8 q-1.4,0.8 -1.4,2.4 v4.2M336.3,429.9 l-7.4,3.8 q-1.4,0.8 -1.4,2.4 v4.2M340.6,432.2 l-7.4,3.8 q-1.4,0.8 -1.4,2.4 v4.2M344.8,434.6 l-7.4,3.8 q-1.4,0.8 -1.4,2.4 v4.2M349.1,436.9 l-7.4,3.8 q-1.4,0.8 -1.4,2.4 v4.2M353.3,439.2 l-7.4,3.8 q-1.4,0.8 -1.4,2.4 v4.2M357.6,441.5 l-7.4,3.8 q-1.4,0.8 -1.4,2.4 v4.2M361.8,443.8 l-7.4,3.8 q-1.4,0.8 -1.4,2.4 v4.2M366.1,446.1 l-7.4,3.8 q-1.4,0.8 -1.4,2.4 v4.2M370.3,448.4 l-7.4,3.8 q-1.4,0.8 -1.4,2.4 v4.2M374.6,450.7 l-7.4,3.8 q-1.4,0.8 -1.4,2.4 v4.2M378.8,453.1 l-7.4,3.8 q-1.4,0.8 -1.4,2.4 v4.2M383.1,455.4 l-7.4,3.8 q-1.4,0.8 -1.4,2.4 v4.2M387.4,457.7 l-7.4,3.8 q-1.4,0.8 -1.4,2.4 v4.2M391.6,460.0 l-7.4,3.8 q-1.4,0.8 -1.4,2.4 v4.2M395.9,462.3 l-7.4,3.8 q-1.4,0.8 -1.4,2.4 v4.2M400.1,464.6 l-7.4,3.8 q-1.4,0.8 -1.4,2.4 v4.2M404.4,466.9 l-7.4,3.8 q-1.4,0.8 -1.4,2.4 v4.2M408.6,469.2 l-7.4,3.8 q-1.4,0.8 -1.4,2.4 v4.2M412.9,471.5 l-7.4,3.8 q-1.4,0.8 -1.4,2.4 v4.2" fill="none" stroke="#b59c3c" stroke-width="0.9" stroke-linejoin="round" stroke-linecap="round"/>
<polygon points="415.0,470.7 421.8,467.2 421.8,477.4 415.0,480.9" fill="#8f8f8f" stroke="#3a3a3a" stroke-width="0.45" stroke-linejoin="round"/>
<polygon points="304.4,410.6 415.0,470.7 421.8,467.2 311.2,407.1" fill="#d3d3d3" stroke="#3a3a3a" stroke-width="0.45" stroke-linejoin="round"/>
<polygon points="25.2,391.8 157.6,460.0 157.6,463.0 25.2,394.8" fill="#93d0b2" stroke="#1c4634" stroke-width="0.65" stroke-linejoin="round"/>
<polygon points="157.6,460.0 239.4,417.6 239.4,420.6 157.6,463.0" fill="#1f9c62" stroke="#1c4634" stroke-width="0.65" stroke-linejoin="round"/>
<polygon points="25.2,391.8 106.0,350.0 239.4,417.6 157.6,460.0" fill="url(#gS1)" stroke="#1c4634" stroke-width="0.7" stroke-linejoin="round"/>
<polygon points="97.9,348.4 207.8,406.6 207.8,420.4 97.9,362.2" fill="#d2d2d2" stroke="#3a3a3a" stroke-width="0.45" stroke-linejoin="round"/>
<path d="M102.9,352.8L105.8,354.4L105.8,368.0L102.9,366.4ZM107.7,355.4L110.6,356.9L110.6,370.5L107.7,369.0ZM112.5,357.9L115.4,359.5L115.4,373.1L112.5,371.5ZM117.3,360.5L120.2,362.0L120.2,375.6L117.3,374.1ZM122.1,363.0L125.0,364.6L125.0,378.2L122.1,376.6ZM126.9,365.6L129.8,367.1L129.8,380.7L126.9,379.2ZM131.7,368.1L134.6,369.7L134.6,383.3L131.7,381.7ZM136.6,370.7L139.4,372.2L139.4,385.8L136.6,384.3ZM141.4,373.2L144.3,374.8L144.3,388.4L141.4,386.8ZM146.2,375.8L149.1,377.3L149.1,390.9L146.2,389.4ZM151.0,378.3L153.9,379.8L153.9,393.4L151.0,391.9ZM155.8,380.9L158.7,382.4L158.7,396.0L155.8,394.5ZM160.6,383.4L163.5,384.9L163.5,398.5L160.6,397.0ZM165.4,386.0L168.3,387.5L168.3,401.1L165.4,399.6ZM170.3,388.5L173.1,390.0L173.1,403.6L170.3,402.1ZM175.1,391.1L178.0,392.6L178.0,406.2L175.1,404.7ZM179.9,393.6L182.8,395.1L182.8,408.7L179.9,407.2ZM184.7,396.2L187.6,397.7L187.6,411.3L184.7,409.8ZM189.5,398.7L192.4,400.2L192.4,413.8L189.5,412.3ZM194.3,401.3L197.2,402.8L197.2,416.4L194.3,414.9ZM199.1,403.8L202.0,405.3L202.0,418.9L199.1,417.4ZM203.9,406.4L206.8,407.9L206.8,421.5L203.9,420.0Z" fill="#404040" stroke="#2c2c2c" stroke-width="0.3" stroke-linejoin="round" stroke-linecap="round"/>
<path d="M104.5,356.4L104.5,366.3M109.3,358.9L109.3,368.8M114.1,361.5L114.1,371.4M118.9,364.0L118.9,373.9M123.7,366.6L123.7,376.5M128.5,369.1L128.5,379.0M133.3,371.7L133.3,381.6M138.1,374.2L138.1,384.1M143.0,376.8L143.0,386.7M147.8,379.3L147.8,389.2M152.6,381.9L152.6,391.8M157.4,384.4L157.4,394.3M162.2,387.0L162.2,396.9M167.0,389.5L167.0,399.4M171.8,392.1L171.8,402.0M176.7,394.6L176.7,404.5M181.5,397.2L181.5,407.1M186.3,399.7L186.3,409.6M191.1,402.3L191.1,412.2M195.9,404.8L195.9,414.7M200.7,407.4L200.7,417.3M205.5,409.9L205.5,419.8" fill="none" stroke="#b4b4b4" stroke-width="0.6" stroke-linejoin="round" stroke-linecap="round"/>
<polygon points="207.8,406.6 221.4,399.5 221.4,413.3 207.8,420.4" fill="#8c8c8c" stroke="#3a3a3a" stroke-width="0.45" stroke-linejoin="round"/>
<polygon points="97.9,348.4 207.8,406.6 221.4,399.5 111.5,341.3" fill="#d6d6d6" stroke="#3a3a3a" stroke-width="0.45" stroke-linejoin="round"/>
<polyline points="115.5,343.4 101.9,350.5 101.9,364.3" fill="none" stroke="#3a3a3a" stroke-width="0.4" stroke-linecap="round" stroke-linejoin="round"/>
<polygon points="195.2,471.2 334.5,541.5 334.5,544.5 195.2,474.2" fill="#93d0b2" stroke="#1c4634" stroke-width="0.65" stroke-linejoin="round"/>
<polygon points="334.5,541.5 406.6,502.1 406.6,505.1 334.5,544.5" fill="#1f9c62" stroke="#1c4634" stroke-width="0.65" stroke-linejoin="round"/>
<polygon points="195.2,471.2 267.0,432.0 406.6,502.1 334.5,541.5" fill="url(#gS2)" stroke="#1c4634" stroke-width="0.7" stroke-linejoin="round"/>
<polygon points="260.3,431.3 384.8,495.9 384.8,509.7 260.3,445.1" fill="#d2d2d2" stroke="#3a3a3a" stroke-width="0.45" stroke-linejoin="round"/>
<path d="M265.3,435.7L268.2,437.2L268.2,450.8L265.3,449.3ZM270.1,438.2L273.0,439.7L273.0,453.3L270.1,451.8ZM274.9,440.7L277.8,442.2L277.8,455.8L274.9,454.3ZM279.7,443.2L282.6,444.7L282.6,458.3L279.7,456.8ZM284.5,445.7L287.4,447.2L287.4,460.8L284.5,459.3ZM289.4,448.2L292.3,449.7L292.3,463.3L289.4,461.8ZM294.2,450.7L297.1,452.2L297.1,465.8L294.2,464.3ZM299.0,453.2L301.9,454.7L301.9,468.3L299.0,466.8ZM303.8,455.7L306.7,457.2L306.7,470.8L303.8,469.3ZM308.6,458.2L311.5,459.7L311.5,473.3L308.6,471.8ZM313.5,460.7L316.4,462.2L316.4,475.8L313.5,474.3ZM318.3,463.2L321.2,464.7L321.2,478.3L318.3,476.8ZM323.1,465.7L326.0,467.2L326.0,480.8L323.1,479.3ZM327.9,468.2L330.8,469.7L330.8,483.3L327.9,481.8ZM332.7,470.7L335.6,472.2L335.6,485.8L332.7,484.3ZM337.6,473.2L340.5,474.7L340.5,488.3L337.6,486.8ZM342.4,475.7L345.3,477.2L345.3,490.8L342.4,489.3ZM347.2,478.2L350.1,479.7L350.1,493.3L347.2,491.8ZM352.0,480.7L354.9,482.2L354.9,495.8L352.0,494.3ZM356.8,483.2L359.7,484.7L359.7,498.3L356.8,496.8ZM361.7,485.7L364.6,487.2L364.6,500.8L361.7,499.3ZM366.5,488.2L369.4,489.7L369.4,503.3L366.5,501.8ZM371.3,490.7L374.2,492.2L374.2,505.8L371.3,504.3ZM376.1,493.2L379.0,494.7L379.0,508.3L376.1,506.8ZM380.9,495.7L383.8,497.2L383.8,510.8L380.9,509.3Z" fill="#404040" stroke="#2c2c2c" stroke-width="0.3" stroke-linejoin="round" stroke-linecap="round"/>
<path d="M266.9,439.2L266.9,449.1M271.7,441.7L271.7,451.6M276.5,444.2L276.5,454.1M281.3,446.7L281.3,456.6M286.1,449.2L286.1,459.1M291.0,451.7L291.0,461.6M295.8,454.2L295.8,464.1M300.6,456.7L300.6,466.6M305.4,459.2L305.4,469.1M310.2,461.7L310.2,471.6M315.1,464.2L315.1,474.1M319.9,466.7L319.9,476.6M324.7,469.2L324.7,479.1M329.5,471.7L329.5,481.6M334.3,474.2L334.3,484.1M339.2,476.7L339.2,486.6M344.0,479.2L344.0,489.1M348.8,481.7L348.8,491.6M353.6,484.2L353.6,494.1M358.4,486.7L358.4,496.6M363.3,489.2L363.3,499.1M368.1,491.7L368.1,501.6M372.9,494.2L372.9,504.1M377.7,496.7L377.7,506.6M382.5,499.2L382.5,509.1" fill="none" stroke="#b4b4b4" stroke-width="0.6" stroke-linejoin="round" stroke-linecap="round"/>
<polygon points="384.8,495.9 398.8,488.6 398.8,502.4 384.8,509.7" fill="#8c8c8c" stroke="#3a3a3a" stroke-width="0.45" stroke-linejoin="round"/>
<polygon points="260.3,431.3 384.8,495.9 398.8,488.6 274.3,424.0" fill="#d6d6d6" stroke="#3a3a3a" stroke-width="0.45" stroke-linejoin="round"/>
<polyline points="278.3,426.1 264.3,433.4 264.3,447.2" fill="none" stroke="#3a3a3a" stroke-width="0.4" stroke-linecap="round" stroke-linejoin="round"/>
<polygon points="21.4,140.9 23.2,139.3 25.0,137.6 26.8,136.0 28.8,134.5 30.9,133.1 33.2,131.7 35.6,130.4 38.2,129.2 40.9,128.1 43.7,127.0 46.7,126.0 49.8,125.1 53.0,124.3 56.3,123.4 59.7,122.7 63.3,122.0 66.8,121.3 70.2,120.5 73.3,119.6 76.2,118.6 78.9,117.4 81.2,116.1 83.3,114.6 85.3,113.1 87.1,111.5 89.0,109.9 90.8,108.3 92.5,106.7 94.1,104.9 95.7,103.2 97.4,101.5 99.2,99.9 101.3,98.5 103.5,97.1 105.8,95.7 108.3,94.4 110.9,93.3 113.6,92.2 116.6,91.2 119.9,90.3 123.8,89.8 128.0,89.5 134.0,92.6 139.9,95.7 146.0,98.5 152.1,101.3 158.3,103.8 164.8,105.8 171.3,107.5 177.7,109.4 184.1,111.3 190.5,113.6 196.7,116.1 202.7,119.0 208.6,122.2 214.2,125.9 219.7,129.8 225.2,133.7 230.5,137.7 235.8,141.9 240.9,146.2 246.1,150.6 251.2,154.8 256.5,159.0 262.0,162.9 267.7,166.4 265.4,167.7 263.0,168.9 260.7,170.2 258.3,171.5 256.0,172.8 253.6,174.0 251.3,175.3 248.9,176.6 246.6,177.8 244.2,179.1 241.9,180.4 239.5,181.7 237.2,182.9 234.8,184.2 232.5,185.5 230.1,186.7 227.8,188.0 225.4,189.3 223.1,190.6 220.7,191.8 218.4,193.1 216.1,194.4 213.7,195.6 211.4,196.9 209.0,198.2 206.7,199.5 204.3,200.7 202.0,202.0 199.6,203.3 197.3,204.5 194.9,205.8 192.6,207.1 190.2,208.4 187.9,209.6 185.5,210.9 183.2,212.2 180.8,213.4 178.5,214.7 176.1,216.0 173.8,217.3 171.4,218.5 169.1,219.8 162.8,216.7 156.6,213.5 150.3,210.4 144.0,207.3 137.8,204.0 131.7,200.6 125.7,197.1 119.7,193.4 113.7,189.7 107.9,185.8 102.3,181.7 96.7,177.4 90.9,173.4 84.9,169.9 78.7,166.6 72.3,163.9 65.7,161.4 59.1,159.1 52.5,156.7 46.0,154.2 39.5,151.5 33.3,148.4 27.3,144.7 21.4,140.9" fill="#dadada" stroke="#444" stroke-width="0.5" stroke-linejoin="round"/>
<path d="M23.2,139.3L29.1,143.1L35.1,146.7L41.4,149.8L47.9,152.6L54.4,155.1L61.1,157.5L67.7,159.8L74.3,162.3L80.8,165.1L87.0,168.3L93.1,171.9L98.9,175.8L104.5,180.1L110.1,184.2L116.0,188.1L121.9,191.9L127.9,195.5L134.0,199.1L140.1,202.6L146.3,205.9L152.6,209.1L158.9,212.2L165.2,215.4L171.4,218.5M25.0,137.6L30.9,141.5L37.0,145.1L43.3,148.2L49.8,151.0L56.4,153.6L63.0,155.9L69.7,158.3L76.3,160.8L82.8,163.5L89.1,166.7L95.2,170.3L101.0,174.2L106.7,178.5L112.3,182.7L118.2,186.6L124.2,190.3L130.2,194.0L136.3,197.6L142.4,201.1L148.6,204.5L154.9,207.7L161.2,210.9L167.5,214.1L173.8,217.3M26.8,136.0L32.8,139.9L38.9,143.5L45.2,146.6L51.7,149.4L58.3,152.0L65.0,154.4L71.7,156.7L78.3,159.2L84.9,161.9L91.2,165.1L97.3,168.7L103.2,172.6L108.9,176.9L114.6,181.1L120.5,185.0L126.5,188.8L132.5,192.5L138.6,196.1L144.7,199.7L150.9,203.1L157.2,206.3L163.5,209.5L169.8,212.8L176.1,216.0M28.8,134.5L34.8,138.3L40.9,142.0L47.2,145.1L53.8,147.9L60.4,150.5L67.1,152.9L73.8,155.2L80.4,157.7L87.0,160.4L93.4,163.6L99.5,167.2L105.4,171.1L111.1,175.3L116.9,179.5L122.8,183.4L128.8,187.3L134.8,191.0L140.9,194.7L147.1,198.2L153.3,201.7L159.6,204.9L165.9,208.2L172.2,211.5L178.5,214.7M30.9,133.1L36.9,136.9L43.0,140.5L49.4,143.7L56.0,146.4L62.6,149.1L69.3,151.4L76.0,153.8L82.7,156.3L89.3,159.0L95.6,162.2L101.8,165.7L107.8,169.6L113.5,173.8L119.2,178.0L125.2,181.9L131.2,185.8L137.2,189.5L143.3,193.2L149.4,196.8L155.6,200.3L161.9,203.6L168.2,206.9L174.5,210.2L180.8,213.4M33.2,131.7L39.2,135.5L45.3,139.1L51.7,142.3L58.3,145.1L64.9,147.7L71.6,150.1L78.4,152.4L85.0,154.9L91.6,157.6L98.0,160.7L104.2,164.3L110.2,168.1L115.9,172.3L121.7,176.5L127.6,180.5L133.6,184.3L139.6,188.1L145.7,191.8L151.8,195.4L158.0,198.9L164.3,202.3L170.6,205.6L176.9,208.9L183.2,212.2M35.6,130.4L41.7,134.2L47.8,137.8L54.2,141.0L60.7,143.8L67.4,146.4L74.1,148.8L80.8,151.1L87.5,153.6L94.1,156.2L100.5,159.4L106.6,162.9L112.6,166.7L118.4,170.9L124.2,175.1L130.1,179.0L136.1,182.9L142.1,186.6L148.2,190.4L154.3,194.0L160.4,197.5L166.7,200.9L172.9,204.3L179.2,207.6L185.5,210.9M38.2,129.2L44.2,133.0L50.3,136.6L56.7,139.7L63.3,142.5L69.9,145.1L76.6,147.5L83.3,149.8L90.0,152.3L96.6,154.9L103.0,158.0L109.2,161.5L115.2,165.3L120.9,169.5L126.7,173.6L132.6,177.6L138.6,181.4L144.6,185.2L150.7,189.0L156.7,192.6L162.9,196.2L169.1,199.6L175.3,203.0L181.6,206.4L187.9,209.6M40.9,128.1L46.9,131.8L53.0,135.4L59.4,138.5L65.9,141.3L72.5,143.9L79.2,146.3L85.9,148.6L92.6,151.0L99.2,153.7L105.6,156.7L111.8,160.2L117.8,164.0L123.5,168.1L129.3,172.2L135.2,176.2L141.1,180.0L147.1,183.8L153.2,187.6L159.2,191.3L165.3,194.8L171.5,198.3L177.7,201.7L183.9,205.1L190.2,208.4M43.7,127.0L49.7,130.7L55.8,134.3L62.2,137.4L68.7,140.2L75.3,142.8L81.9,145.1L88.6,147.4L95.3,149.8L101.9,152.4L108.2,155.5L114.4,158.9L120.4,162.6L126.2,166.7L131.9,170.9L137.8,174.8L143.8,178.7L149.7,182.5L155.7,186.2L161.7,189.9L167.8,193.5L173.9,197.0L180.1,200.4L186.3,203.8L192.6,207.1M46.7,126.0L52.7,129.7L58.8,133.3L65.1,136.4L71.6,139.1L78.1,141.7L84.8,144.0L91.5,146.3L98.1,148.7L104.7,151.3L111.0,154.3L117.2,157.7L123.2,161.4L128.9,165.4L134.6,169.6L140.5,173.5L146.4,177.3L152.4,181.1L158.3,184.9L164.3,188.6L170.3,192.2L176.4,195.7L182.5,199.1L188.7,202.5L194.9,205.8M49.8,125.1L55.8,128.8L61.9,132.3L68.2,135.4L74.6,138.2L81.1,140.7L87.8,143.0L94.4,145.2L101.0,147.6L107.5,150.2L113.9,153.1L120.0,156.5L126.0,160.1L131.7,164.2L137.4,168.3L143.3,172.2L149.1,176.0L155.0,179.8L160.9,183.6L166.9,187.3L172.8,190.9L178.9,194.4L184.9,197.9L191.1,201.3L197.3,204.5M53.0,124.3L59.0,127.9L65.0,131.4L71.3,134.5L77.7,137.2L84.2,139.8L90.8,142.0L97.4,144.2L104.0,146.5L110.5,149.1L116.8,152.0L122.9,155.3L128.9,158.9L134.6,162.9L140.3,167.0L146.0,170.9L151.9,174.7L157.7,178.5L163.6,182.3L169.5,186.0L175.4,189.6L181.4,193.1L187.4,196.6L193.5,200.0L199.6,203.3M56.3,123.4L62.3,127.0L68.3,130.5L74.5,133.5L80.9,136.3L87.3,138.8L93.9,141.1L100.5,143.2L107.0,145.5L113.5,148.0L119.8,150.9L125.9,154.2L131.8,157.7L137.5,161.7L143.1,165.7L148.8,169.6L154.6,173.4L160.4,177.2L166.3,181.0L172.1,184.7L177.9,188.3L183.9,191.9L189.8,195.3L195.9,198.7L202.0,202.0M59.7,122.7L65.6,126.2L71.6,129.7L77.8,132.7L84.1,135.4L90.5,137.9L97.0,140.1L103.6,142.2L110.1,144.5L116.5,147.0L122.8,149.8L128.8,153.1L134.7,156.6L140.4,160.5L146.0,164.5L151.7,168.4L157.4,172.2L163.2,175.9L168.9,179.7L174.7,183.4L180.5,187.1L186.4,190.6L192.3,194.1L198.2,197.5L204.3,200.7M63.3,122.0L69.1,125.5L75.1,128.9L81.2,131.9L87.5,134.6L93.8,137.1L100.3,139.3L106.8,141.3L113.3,143.6L119.7,146.0L125.9,148.8L131.9,152.0L137.8,155.5L143.4,159.3L148.9,163.3L154.6,167.1L160.3,170.9L166.0,174.7L171.7,178.4L177.4,182.2L183.1,185.8L188.9,189.3L194.7,192.8L200.7,196.2L206.7,199.5M66.8,121.3L72.6,124.8L78.5,128.1L84.6,131.1L90.8,133.8L97.2,136.3L103.6,138.4L110.0,140.4L116.5,142.6L122.8,145.0L129.0,147.8L135.0,150.9L140.8,154.3L146.4,158.2L151.9,162.1L157.5,165.9L163.1,169.7L168.8,173.4L174.4,177.2L180.0,180.9L185.7,184.5L191.4,188.1L197.2,191.6L203.1,195.0L209.0,198.2M70.2,120.5L75.9,124.0L81.8,127.3L87.9,130.2L94.0,132.9L100.3,135.3L106.7,137.5L113.1,139.5L119.5,141.6L125.8,144.0L132.0,146.7L137.9,149.8L143.7,153.2L149.3,156.9L154.8,160.8L160.3,164.6L165.9,168.4L171.5,172.1L177.1,175.9L182.7,179.6L188.3,183.3L193.9,186.8L199.6,190.3L205.4,193.7L211.4,196.9M73.3,119.6L79.0,123.0L84.9,126.3L90.9,129.2L97.1,131.9L103.3,134.3L109.7,136.4L116.1,138.4L122.4,140.5L128.7,142.8L134.8,145.5L140.8,148.6L146.5,151.9L152.1,155.7L157.5,159.5L163.1,163.3L168.6,167.1L174.2,170.8L179.7,174.5L185.2,178.3L190.8,182.0L196.4,185.5L202.1,189.0L207.8,192.4L213.7,195.6M76.2,118.6L82.0,122.0L87.8,125.3L93.8,128.2L99.9,130.8L106.1,133.2L112.5,135.3L118.9,137.3L125.2,139.4L131.4,141.7L137.5,144.3L143.5,147.3L149.3,150.7L154.8,154.3L160.2,158.2L165.7,162.0L171.3,165.7L176.8,169.5L182.3,173.2L187.8,177.0L193.3,180.6L198.9,184.2L204.5,187.8L210.2,191.2L216.1,194.4M78.9,117.4L84.6,120.8L90.4,124.0L96.4,126.9L102.5,129.6L108.7,132.0L115.1,134.1L121.4,136.0L127.8,138.1L134.0,140.4L140.1,143.0L146.1,146.0L151.8,149.3L157.4,153.0L162.8,156.8L168.3,160.6L173.8,164.3L179.3,168.1L184.8,171.8L190.2,175.6L195.7,179.3L201.3,182.9L206.9,186.5L212.6,189.9L218.4,193.1M81.2,116.1L86.9,119.4L92.8,122.7L98.8,125.6L104.9,128.2L111.1,130.7L117.4,132.7L123.8,134.7L130.1,136.7L136.4,139.0L142.5,141.6L148.5,144.6L154.2,147.8L159.8,151.5L165.3,155.3L170.7,159.1L176.2,162.9L181.7,166.6L187.2,170.4L192.7,174.2L198.1,177.9L203.7,181.6L209.2,185.2L214.9,188.6L220.7,191.8M83.3,114.6L89.1,118.0L94.9,121.2L100.9,124.1L107.0,126.8L113.3,129.2L119.6,131.3L126.0,133.2L132.4,135.3L138.6,137.5L144.8,140.1L150.7,143.1L156.6,146.3L162.1,150.0L167.6,153.8L173.1,157.6L178.6,161.4L184.1,165.1L189.6,168.9L195.0,172.8L200.5,176.5L206.0,180.2L211.6,183.8L217.3,187.3L223.1,190.6M85.3,113.1L91.1,116.5L96.9,119.7L103.0,122.6L109.1,125.3L115.3,127.7L121.7,129.8L128.1,131.7L134.5,133.8L140.8,136.0L147.0,138.6L153.0,141.6L158.8,144.8L164.4,148.4L169.9,152.2L175.4,156.1L180.9,159.8L186.5,163.6L191.9,167.5L197.4,171.3L202.8,175.1L208.3,178.9L213.9,182.5L219.6,186.0L225.4,189.3M87.1,111.5L93.0,114.9L98.9,118.1L104.9,121.0L111.1,123.7L117.3,126.2L123.7,128.3L130.2,130.2L136.6,132.3L142.9,134.5L149.1,137.1L155.1,140.0L161.0,143.2L166.6,146.8L172.2,150.7L177.7,154.5L183.2,158.3L188.8,162.1L194.2,166.0L199.7,169.9L205.1,173.7L210.7,177.5L216.2,181.2L221.9,184.7L227.8,188.0M89.0,109.9L94.8,113.3L100.7,116.5L106.8,119.4L113.0,122.2L119.3,124.6L125.7,126.7L132.2,128.6L138.6,130.7L145.0,132.9L151.2,135.5L157.2,138.4L163.2,141.6L168.8,145.2L174.4,149.1L179.9,152.9L185.5,156.7L191.0,160.6L196.5,164.5L202.0,168.4L207.4,172.3L213.0,176.1L218.6,179.9L224.3,183.4L230.1,186.7M90.8,108.3L96.7,111.7L102.6,114.9L108.7,117.8L114.9,120.6L121.2,123.1L127.7,125.2L134.2,127.1L140.6,129.1L147.0,131.4L153.3,133.9L159.4,136.9L165.3,140.1L171.0,143.6L176.6,147.5L182.2,151.4L187.8,155.2L193.3,159.1L198.8,163.0L204.3,167.0L209.8,170.9L215.3,174.7L220.9,178.5L226.6,182.1L232.5,185.5M92.5,106.7L98.4,110.0L104.4,113.2L110.5,116.2L116.8,118.9L123.1,121.5L129.6,123.6L136.1,125.5L142.6,127.6L149.0,129.8L155.3,132.4L161.4,135.3L167.4,138.5L173.2,142.0L178.8,145.9L184.4,149.8L190.0,153.6L195.6,157.5L201.1,161.5L206.6,165.5L212.1,169.5L217.6,173.4L223.2,177.2L228.9,180.8L234.8,184.2M94.1,104.9L100.1,108.3L106.1,111.5L112.3,114.5L118.5,117.3L124.9,119.8L131.4,121.9L138.0,123.8L144.5,125.9L150.9,128.2L157.3,130.7L163.5,133.6L169.5,136.8L175.3,140.4L181.0,144.3L186.6,148.2L192.2,152.0L197.8,156.0L203.4,160.0L208.8,164.0L214.3,168.1L219.9,172.0L225.5,175.9L231.2,179.5L237.2,182.9M95.7,103.2L101.7,106.6L107.8,109.8L114.0,112.8L120.3,115.6L126.7,118.1L133.2,120.3L139.8,122.2L146.4,124.3L152.9,126.5L159.2,129.1L165.5,132.0L171.5,135.2L177.4,138.7L183.1,142.6L188.7,146.5L194.4,150.4L200.0,154.4L205.6,158.4L211.1,162.5L216.6,166.6L222.2,170.6L227.8,174.5L233.6,178.2L239.5,181.7M97.4,101.5L103.4,104.9L109.5,108.1L115.7,111.1L122.1,113.9L128.5,116.5L135.1,118.7L141.7,120.6L148.3,122.7L154.8,124.9L161.2,127.5L167.5,130.4L173.6,133.5L179.5,137.1L185.3,141.0L190.9,144.9L196.6,148.9L202.3,152.9L207.9,156.9L213.4,161.1L218.9,165.2L224.5,169.2L230.1,173.2L235.9,176.9L241.9,180.4M99.2,99.9L105.3,103.3L111.4,106.6L117.7,109.6L124.0,112.4L130.5,115.0L137.1,117.1L143.7,119.0L150.4,121.1L156.9,123.4L163.4,125.9L169.7,128.8L175.8,132.0L181.8,135.5L187.5,139.4L193.2,143.4L198.9,147.3L204.6,151.3L210.2,155.4L215.7,159.6L221.2,163.8L226.8,167.8L232.4,171.9L238.2,175.6L244.2,179.1M101.3,98.5L107.4,101.8L113.5,105.1L119.8,108.1L126.2,110.9L132.6,113.5L139.2,115.7L145.9,117.6L152.5,119.7L159.1,121.9L165.6,124.4L171.9,127.3L178.1,130.5L184.1,134.0L189.8,137.9L195.6,141.9L201.3,145.8L206.9,149.9L212.5,154.0L218.0,158.2L223.6,162.4L229.1,166.5L234.8,170.5L240.6,174.3L246.6,177.8M103.5,97.1L109.6,100.4L115.8,103.7L122.1,106.7L128.4,109.5L134.9,112.1L141.5,114.3L148.2,116.2L154.8,118.3L161.4,120.5L167.9,123.0L174.3,125.8L180.5,129.0L186.5,132.5L192.2,136.4L198.0,140.4L203.7,144.3L209.3,148.4L214.9,152.5L220.4,156.8L225.9,161.0L231.5,165.1L237.1,169.2L242.9,173.1L248.9,176.6M105.8,95.7L112.0,99.0L118.1,102.3L124.4,105.3L130.8,108.2L137.2,110.8L143.9,112.9L150.6,114.8L157.2,116.9L163.8,119.1L170.3,121.6L176.7,124.4L182.9,127.5L188.9,131.0L194.7,134.9L200.4,138.9L206.1,142.9L211.8,146.9L217.4,151.1L222.8,155.4L228.3,159.6L233.9,163.8L239.5,167.9L245.3,171.8L251.3,175.3M108.3,94.4L114.4,97.8L120.6,101.0L126.9,104.0L133.2,106.9L139.7,109.5L146.3,111.6L153.0,113.5L159.7,115.6L166.3,117.7L172.8,120.2L179.1,123.0L185.4,126.1L191.4,129.6L197.2,133.5L202.9,137.5L208.6,141.4L214.2,145.5L219.8,149.7L225.3,154.0L230.7,158.3L236.3,162.5L241.8,166.6L247.6,170.5L253.6,174.0M110.9,93.3L117.0,96.5L123.2,99.8L129.4,102.8L135.8,105.6L142.2,108.2L148.9,110.4L155.6,112.2L162.2,114.3L168.8,116.4L175.3,118.9L181.7,121.7L187.9,124.7L193.9,128.2L199.7,132.0L205.4,136.0L211.1,140.0L216.8,144.1L222.3,148.3L227.7,152.6L233.2,156.9L238.7,161.2L244.2,165.3L250.0,169.2L256.0,172.8M113.6,92.2L119.8,95.4L125.9,98.6L132.2,101.6L138.5,104.5L144.9,107.1L151.6,109.2L158.2,111.0L164.9,113.1L171.5,115.2L178.0,117.6L184.3,120.4L190.6,123.4L196.6,126.8L202.4,130.7L208.0,134.7L213.7,138.7L219.3,142.7L224.8,146.9L230.2,151.3L235.6,155.6L241.1,159.9L246.6,164.0L252.3,167.9L258.3,171.5M116.6,91.2L122.7,94.4L128.9,97.6L135.1,100.6L141.4,103.4L147.8,106.0L154.4,108.1L161.1,109.9L167.7,111.9L174.2,114.0L180.7,116.4L187.1,119.2L193.3,122.1L199.3,125.5L205.1,129.3L210.7,133.3L216.4,137.3L221.9,141.4L227.4,145.6L232.8,149.9L238.1,154.3L243.6,158.6L249.0,162.8L254.7,166.7L260.7,170.2M119.9,90.3L126.0,93.5L132.1,96.7L138.3,99.6L144.5,102.5L150.9,105.0L157.5,107.1L164.1,108.9L170.7,110.9L177.2,113.0L183.7,115.3L190.0,118.0L196.2,120.9L202.2,124.3L207.9,128.1L213.5,132.0L219.1,136.0L224.7,140.1L230.1,144.3L235.4,148.6L240.7,153.0L246.1,157.3L251.5,161.5L257.1,165.4L263.0,168.9M123.8,89.8L129.8,93.0L135.8,96.1L142.0,99.0L148.2,101.8L154.5,104.3L161.0,106.4L167.5,108.1L174.1,110.1L180.5,112.1L186.9,114.4L193.2,117.0L199.4,119.9L205.3,123.2L211.0,126.9L216.5,130.9L222.1,134.8L227.5,138.9L232.9,143.1L238.1,147.4L243.3,151.8L248.6,156.0L254.0,160.3L259.5,164.1L265.4,167.7" fill="none" stroke="#444" stroke-width="0.85" stroke-linejoin="round" stroke-linecap="round"/>
<polygon points="128.0,89.5 134.0,92.6 139.9,95.7 146.0,98.5 152.1,101.3 158.3,103.8 164.8,105.8 171.3,107.5 177.7,109.4 184.1,111.3 190.5,113.6 196.7,116.1 202.7,119.0 208.6,122.2 214.2,125.9 219.7,129.8 225.2,133.7 230.5,137.7 235.8,141.9 240.9,146.2 246.1,150.6 251.2,154.8 256.5,159.0 262.0,162.9 267.7,166.4 266.2,167.2 260.4,163.7 254.8,159.8 249.5,155.6 244.3,151.3 239.1,147.0 233.9,142.7 228.6,138.5 223.2,134.4 217.7,130.5 212.1,126.6 206.5,122.8 200.5,119.6 194.4,116.7 188.2,114.1 181.8,111.8 175.3,109.8 168.8,107.9 162.3,106.2 155.8,104.2 149.5,101.6 143.4,98.8 137.3,95.9 131.2,92.8 125.2,89.7" fill="#e08a78" stroke="#a4503f" stroke-width="0.4" stroke-linejoin="round"/>
<polygon points="187.3,247.3 192.3,244.7 192.3,252.7 187.3,255.3" fill="#d0d0d0" stroke="#3a3a3a" stroke-width="0.4" stroke-linejoin="round"/>
<polygon points="196.3,242.6 201.3,240.0 201.3,248.0 196.3,250.6" fill="#d0d0d0" stroke="#3a3a3a" stroke-width="0.4" stroke-linejoin="round"/>
<polygon points="287.3,199.6 292.3,197.1 292.3,207.1 287.3,209.6" fill="#c4c4c4" stroke="#3a3a3a" stroke-width="0.4" stroke-linejoin="round"/>
<polygon points="295.3,195.5 300.3,192.9 300.3,202.9 295.3,205.5" fill="#c4c4c4" stroke="#3a3a3a" stroke-width="0.4" stroke-linejoin="round"/>
<polygon points="170.0,244.0 174.5,246.3 174.5,256.0 170.0,254.0" fill="#dcdcdc" stroke="#3a3a3a" stroke-width="0.4" stroke-linejoin="round"/>
<polygon points="167.8,222.3 184.3,230.8 184.3,252.3 169.8,246.8 168.4,240.0" fill="#ececec" stroke="#3a3a3a" stroke-width="0.5" stroke-linejoin="round"/>
<ellipse cx="175.3" cy="235.3" rx="2.6" ry="1.6" transform="rotate(27 175.3 235.3)" fill="#f6f6f6" stroke="#3a3a3a" stroke-width="0.5"/>
<polygon points="184.3,230.8 302.3,169.9 302.3,193.9 281.3,204.7 281.3,199.7 204.3,239.5 204.3,242.5 194.3,250.1 184.3,252.3" fill="#cbcbcb" stroke="#3a3a3a" stroke-width="0.5" stroke-linejoin="round"/>
<polygon points="204.3,220.5 281.3,180.7 281.3,187.7 204.3,227.5" fill="#d7d7d7" stroke="#3a3a3a" stroke-width="0.4" stroke-linejoin="round"/>
<polygon points="208.3,225.6 280.3,188.5 280.3,189.9 208.3,227.0" fill="#6a6a6a" stroke="#3a3a3a" stroke-width="0.3" stroke-linejoin="round"/>
<polygon points="214.3,224.1 274.3,193.2 274.3,195.0 214.3,225.9" fill="#e4e4e4" stroke="#3a3a3a" stroke-width="0.3" stroke-linejoin="round"/>
<polyline points="204.3,220.5 204.3,239.5" fill="none" stroke="#3a3a3a" stroke-width="0.45" stroke-linecap="round" stroke-linejoin="round"/>
<polyline points="281.3,180.7 281.3,204.7" fill="none" stroke="#3a3a3a" stroke-width="0.45" stroke-linecap="round" stroke-linejoin="round"/>
<polyline points="210.3,228.4 210.3,232.4 215.3,229.8 215.3,225.8" fill="none" stroke="#3a3a3a" stroke-width="0.4" stroke-linecap="round" stroke-linejoin="round"/>
<polyline points="268.3,198.4 268.3,202.4 273.3,199.9 273.3,195.9" fill="none" stroke="#3a3a3a" stroke-width="0.4" stroke-linecap="round" stroke-linejoin="round"/>
<polygon points="238.8,217.9 241.3,215.6 245.8,215.3 245.8,223.1 243.3,225.4 238.8,225.7" fill="#d6d6d6" stroke="#3a3a3a" stroke-width="0.45" stroke-linejoin="round"/>
<polyline points="241.3,215.6 241.3,222.9" fill="none" stroke="#3a3a3a" stroke-width="0.35" stroke-linecap="round" stroke-linejoin="round"/>
<polygon points="190.3,235.7 196.3,230.6 190.3,242.7" fill="#bdbdbd" stroke="#3a3a3a" stroke-width="0.4" stroke-linejoin="round"/>
<polygon points="288.3,186.1 295.3,176.5 295.3,183.0" fill="#bdbdbd" stroke="#3a3a3a" stroke-width="0.4" stroke-linejoin="round"/>
<polygon points="167.8,222.3 169.3,219.6 267.7,166.2 285.7,159.7 302.3,169.9 184.3,230.8" fill="#d6d6d6" stroke="#3a3a3a" stroke-width="0.5" stroke-linejoin="round"/>
<polyline points="204.3,220.5 187.8,212.0" fill="none" stroke="#3a3a3a" stroke-width="0.4" stroke-linecap="round" stroke-linejoin="round"/>
<polyline points="281.3,180.7 264.8,172.2" fill="none" stroke="#3a3a3a" stroke-width="0.4" stroke-linecap="round" stroke-linejoin="round"/>
<polyline points="199.3,217.9 276.3,178.2" fill="none" stroke="#3a3a3a" stroke-width="0.35" stroke-linecap="round" stroke-linejoin="round"/>
<polygon points="182.3,225.6 188.3,222.5 183.3,220.0 177.3,223.1" fill="#c2c2c2" stroke="#3a3a3a" stroke-width="0.35" stroke-linejoin="round"/>
<polygon points="281.3,174.6 288.3,170.9 283.3,168.4 276.3,172.0" fill="#c2c2c2" stroke="#3a3a3a" stroke-width="0.35" stroke-linejoin="round"/>
<polygon points="194.8,223.8 200.8,220.7 197.8,219.2 191.8,222.3" fill="#4a4a4a" stroke="#3a3a3a" stroke-width="0.3" stroke-linejoin="round"/>
<rect x="334.5" y="129.3" width="2.4" height="9.5" fill="#5c4a12"/><rect x="334.9" y="129.3" width="1.3" height="9.0" fill="#d4b142"/>
<rect x="340.1" y="126.5" width="2.4" height="9.5" fill="#5c4a12"/><rect x="340.5" y="126.5" width="1.3" height="9.0" fill="#d4b142"/>
<rect x="345.8" y="123.7" width="2.4" height="9.5" fill="#5c4a12"/><rect x="346.2" y="123.7" width="1.3" height="9.0" fill="#d4b142"/>
<rect x="351.4" y="120.9" width="2.4" height="9.5" fill="#5c4a12"/><rect x="351.8" y="120.9" width="1.3" height="9.0" fill="#d4b142"/>
<rect x="357.0" y="118.1" width="2.4" height="9.5" fill="#5c4a12"/><rect x="357.4" y="118.1" width="1.3" height="9.0" fill="#d4b142"/>
<rect x="362.6" y="115.3" width="2.4" height="9.5" fill="#5c4a12"/><rect x="363.0" y="115.3" width="1.3" height="9.0" fill="#d4b142"/>
<rect x="368.2" y="112.5" width="2.4" height="9.5" fill="#5c4a12"/><rect x="368.6" y="112.5" width="1.3" height="9.0" fill="#d4b142"/>
<rect x="373.9" y="109.7" width="2.4" height="9.5" fill="#5c4a12"/><rect x="374.2" y="109.7" width="1.3" height="9.0" fill="#d4b142"/>
<rect x="379.5" y="106.9" width="2.4" height="9.5" fill="#5c4a12"/><rect x="379.9" y="106.9" width="1.3" height="9.0" fill="#d4b142"/>
<rect x="385.1" y="104.1" width="2.4" height="9.5" fill="#5c4a12"/><rect x="385.5" y="104.1" width="1.3" height="9.0" fill="#d4b142"/>
<rect x="339.3" y="131.8" width="2.4" height="12.0" fill="#5c4a12"/><rect x="339.7" y="131.8" width="1.3" height="11.5" fill="#d4b142"/>
<rect x="344.9" y="129.0" width="2.4" height="12.0" fill="#5c4a12"/><rect x="345.3" y="129.0" width="1.3" height="11.5" fill="#d4b142"/>
<rect x="350.6" y="126.2" width="2.4" height="12.0" fill="#5c4a12"/><rect x="351.0" y="126.2" width="1.3" height="11.5" fill="#d4b142"/>
<rect x="356.2" y="123.4" width="2.4" height="12.0" fill="#5c4a12"/><rect x="356.6" y="123.4" width="1.3" height="11.5" fill="#d4b142"/>
<rect x="361.8" y="120.6" width="2.4" height="12.0" fill="#5c4a12"/><rect x="362.2" y="120.6" width="1.3" height="11.5" fill="#d4b142"/>
<rect x="367.4" y="117.8" width="2.4" height="12.0" fill="#5c4a12"/><rect x="367.8" y="117.8" width="1.3" height="11.5" fill="#d4b142"/>
<rect x="373.0" y="115.0" width="2.4" height="12.0" fill="#5c4a12"/><rect x="373.4" y="115.0" width="1.3" height="11.5" fill="#d4b142"/>
<rect x="378.7" y="112.2" width="2.4" height="12.0" fill="#5c4a12"/><rect x="379.1" y="112.2" width="1.3" height="11.5" fill="#d4b142"/>
<rect x="384.3" y="109.4" width="2.4" height="12.0" fill="#5c4a12"/><rect x="384.7" y="109.4" width="1.3" height="11.5" fill="#d4b142"/>
<rect x="389.9" y="106.6" width="2.4" height="12.0" fill="#5c4a12"/><rect x="390.3" y="106.6" width="1.3" height="11.5" fill="#d4b142"/>
<polygon points="330.1,121.7 340.2,127.0 340.2,135.5 330.1,130.2" fill="#a5a5a5" stroke="#3a3a3a" stroke-width="0.45" stroke-linejoin="round"/>
<polygon points="340.2,127.0 396.4,99.1 396.4,107.6 340.2,135.5" fill="#7b7b7b" stroke="#3a3a3a" stroke-width="0.45" stroke-linejoin="round"/>
<polygon points="330.1,121.7 340.2,127.0 396.4,99.1 386.3,93.8" fill="#b4b4b4" stroke="#3a3a3a" stroke-width="0.45" stroke-linejoin="round"/>
<path d="M342.0,125.1 C341.5,120.6 334.9,115.8 333.4,120.1M347.6,122.3 C347.1,117.8 340.5,113.0 339.0,117.3M353.2,119.5 C352.7,115.0 346.2,110.2 344.7,114.5M358.9,116.7 C358.4,112.2 351.8,107.4 350.3,111.7M364.5,113.9 C364.0,109.4 357.4,104.6 355.9,108.9M370.1,111.1 C369.6,106.6 363.0,101.8 361.5,106.1M375.7,108.3 C375.2,103.8 368.6,99.0 367.1,103.3M381.3,105.5 C380.8,101.0 374.3,96.2 372.8,100.5M387.0,102.7 C386.5,98.2 379.9,93.4 378.4,97.7M392.6,99.9 C392.1,95.4 385.5,90.6 384.0,94.9" fill="none" stroke="#444" stroke-width="2.0" stroke-linejoin="round" stroke-linecap="round"/>
<path d="M342.0,125.1 C341.5,120.6 334.9,115.8 333.4,120.1M347.6,122.3 C347.1,117.8 340.5,113.0 339.0,117.3M353.2,119.5 C352.7,115.0 346.2,110.2 344.7,114.5M358.9,116.7 C358.4,112.2 351.8,107.4 350.3,111.7M364.5,113.9 C364.0,109.4 357.4,104.6 355.9,108.9M370.1,111.1 C369.6,106.6 363.0,101.8 361.5,106.1M375.7,108.3 C375.2,103.8 368.6,99.0 367.1,103.3M381.3,105.5 C380.8,101.0 374.3,96.2 372.8,100.5M387.0,102.7 C386.5,98.2 379.9,93.4 378.4,97.7M392.6,99.9 C392.1,95.4 385.5,90.6 384.0,94.9" fill="none" stroke="#ececec" stroke-width="1.0" stroke-linejoin="round" stroke-linecap="round"/>
<polygon points="524.0,126.5 525.2,125.9 526.4,125.3 527.6,124.7 528.8,124.1 530.0,123.5 531.2,122.8 532.4,122.2 533.6,121.5 534.8,120.9 536.0,120.3 537.2,119.7 538.4,119.1 539.6,118.4 540.7,117.8 541.9,117.1 543.1,116.5 544.1,116.6 545.1,116.8 546.2,117.0 547.2,117.4 548.2,117.8 549.2,118.4 550.2,119.1 551.2,119.9 552.3,120.8 553.3,121.7 554.3,121.8 555.3,122.0 556.3,122.2 557.3,122.6 558.4,123.0 559.4,123.6 560.4,124.3 561.4,125.1 562.4,126.0 563.5,127.0 564.5,127.1 565.5,127.2 566.5,127.5 567.5,127.8 568.5,128.3 569.6,128.8 570.6,129.6 571.6,130.4 572.6,131.3 573.6,132.2 574.6,132.3 575.7,132.5 576.7,132.7 577.7,133.0 578.7,133.5 579.7,134.1 580.7,134.8 581.8,135.6 582.8,136.5 583.8,137.4 579.8,139.9 575.8,142.5 571.9,145.1 568.0,147.8 564.2,150.5 560.5,153.4 556.9,156.6 553.5,159.8 549.9,162.8 546.2,165.7 541.7,167.2 537.2,166.0 533.4,163.2 530.8,159.3 529.8,154.7 529.5,150.0" fill="#e9994a" stroke="#b4651c" stroke-width="0.6" stroke-linejoin="round"/>
<path d="M524.5,128.6L525.6,128.5L526.8,128.4L528.1,128.2L529.6,127.9L531.1,127.4L532.6,126.7L534.0,125.9L535.4,125.0L536.8,124.1L538.2,123.3L539.6,122.5L541.1,121.7L542.5,120.9L543.9,120.0L545.4,119.2L546.8,118.4M525.0,130.8L526.0,131.1L527.2,131.5L528.7,131.7L530.3,131.7L532.1,131.4L533.9,130.6L535.6,129.6L537.2,128.5L538.8,127.4L540.4,126.3L542.1,125.3L543.8,124.3L545.4,123.3L547.1,122.3L548.8,121.3L550.5,120.3M525.5,132.9L526.4,133.8L527.6,134.6L529.2,135.2L531.1,135.5L533.2,135.4L535.3,134.5L537.1,133.3L539.0,132.0L540.8,130.6L542.6,129.3L544.5,128.1L546.5,126.9L548.4,125.7L550.3,124.5L552.3,123.4L554.2,122.2M526.0,135.0L526.9,136.4L528.0,137.7L529.7,138.7L531.9,139.3L534.3,139.4L536.6,138.4L538.7,136.9L540.8,135.4L542.8,133.9L544.9,132.3L547.0,130.9L549.1,129.5L551.3,128.1L553.5,126.8L555.7,125.4L557.9,124.1M526.5,137.2L527.3,139.0L528.4,140.7L530.3,142.2L532.6,143.1L535.3,143.3L538.0,142.3L540.3,140.6L542.6,138.9L544.8,137.1L547.1,135.4L549.5,133.7L551.8,132.1L554.3,130.5L556.7,129.0L559.1,127.5L561.6,126.0M527.0,139.3L527.7,141.6L528.8,143.8L530.8,145.7L533.4,146.9L536.4,147.3L539.4,146.2L541.9,144.3L544.4,142.4L546.9,140.4L549.3,138.4L551.9,136.5L554.5,134.7L557.2,133.0L559.9,131.3L562.6,129.6L565.3,127.9M527.5,141.5L528.1,144.2L529.2,146.9L531.3,149.2L534.2,150.7L537.5,151.3L540.7,150.1L543.5,148.0L546.2,145.9L548.9,143.6L551.6,141.4L554.4,139.3L557.2,137.3L560.1,135.4L563.1,133.5L566.0,131.6L569.0,129.8M528.0,143.6L528.5,146.9L529.6,150.0L531.8,152.7L534.9,154.6L538.5,155.3L542.1,154.0L545.1,151.7L548.0,149.3L550.9,146.8L553.8,144.4L556.8,142.1L559.9,139.9L563.1,137.8L566.3,135.7L569.5,133.7L572.7,131.7M528.5,145.7L528.9,149.5L530.0,153.1L532.4,156.2L535.7,158.4L539.6,159.2L543.4,157.9L546.7,155.4L549.8,152.8L552.9,150.1L556.0,147.4L559.3,144.9L562.6,142.5L566.0,140.2L569.5,138.0L572.9,135.8L576.4,133.6M529.0,147.9L529.3,152.1L530.4,156.2L532.9,159.7L536.5,162.2L540.7,163.2L544.8,161.8L548.3,159.1L551.7,156.3L554.9,153.3L558.2,150.4L561.7,147.7L565.3,145.2L569.0,142.7L572.6,140.2L576.4,137.9L580.1,135.5" fill="none" stroke="#b4651c" stroke-width="0.45" stroke-linejoin="round" stroke-linecap="round"/>
<polygon points="487.0,134.5 516.0,149.5 529.0,153.5 529.0,158.0 516.0,155.5 494.0,144.5" fill="#e9994a" stroke="#b4651c" stroke-width="0.5" stroke-linejoin="round"/>
<polygon points="486.2,109.1 530.6,130.8 530.6,152.5 486.2,131.0" fill="#b9b9b9" stroke="#3a3a3a" stroke-width="0.45" stroke-linejoin="round"/>
<polygon points="486.2,113.2 530.6,134.9 530.6,153.0 486.2,131.5" fill="#e9994a" stroke="#b4651c" stroke-width="0.4" stroke-linejoin="round"/>
<polygon points="486.2,109.1 488.4,108.0 532.8,129.7 530.6,130.8" fill="#d4d4d4" stroke="#3a3a3a" stroke-width="0.4" stroke-linejoin="round"/>
<polygon points="530.6,130.8 532.8,129.7 532.8,151.4 530.6,152.5" fill="#999" stroke="#3a3a3a" stroke-width="0.4" stroke-linejoin="round"/>
<polyline points="487.3,110.7 530.6,131.9" fill="none" stroke="#666" stroke-width="0.35" stroke-linecap="round" stroke-linejoin="round"/>
<polygon points="478.6,121.7 516.0,139.9 516.0,151.3 478.6,133.1" fill="#b3b3b3" stroke="#3a3a3a" stroke-width="0.45" stroke-linejoin="round"/>
<polygon points="516.0,139.9 525.0,135.9 525.0,147.3 516.0,151.3" fill="#8a8a8a" stroke="#3a3a3a" stroke-width="0.45" stroke-linejoin="round"/>
<polygon points="478.6,121.7 516.0,139.9 525.0,135.9 486.7,117.2" fill="#d9d9d9" stroke="#3a3a3a" stroke-width="0.45" stroke-linejoin="round"/>
<path d="M479.4,123.4L482.4,124.9L482.4,128.3L479.4,126.8ZM484.1,125.7L487.1,127.1L487.1,130.5L484.1,129.1ZM488.8,128.0L491.8,129.4L491.8,132.8L488.8,131.4ZM493.5,130.2L496.5,131.7L496.5,135.1L493.5,133.6ZM498.1,132.5L501.1,134.0L501.1,137.4L498.1,135.9ZM502.8,134.8L505.8,136.2L505.8,139.6L502.8,138.2ZM507.5,137.1L510.5,138.5L510.5,141.9L507.5,140.5ZM512.2,139.3L515.2,140.8L515.2,144.2L512.2,142.7ZM479.4,128.9L482.4,130.4L482.4,133.8L479.4,132.3ZM484.1,131.2L487.1,132.6L487.1,136.0L484.1,134.6ZM488.8,133.5L491.8,134.9L491.8,138.3L488.8,136.9ZM493.5,135.7L496.5,137.2L496.5,140.6L493.5,139.1ZM498.1,138.0L501.1,139.5L501.1,142.9L498.1,141.4ZM502.8,140.3L505.8,141.7L505.8,145.1L502.8,143.7ZM507.5,142.6L510.5,144.0L510.5,147.4L507.5,146.0ZM512.2,144.8L515.2,146.3L515.2,149.7L512.2,148.2Z" fill="#505050" stroke="#2e2e2e" stroke-width="0.3" stroke-linejoin="round" stroke-linecap="round"/>
<path d="M483.3,124.0v11.4M488.0,126.2v11.4M492.6,128.5v11.4M497.3,130.8v11.4M502.0,133.1v11.4M506.6,135.3v11.4M511.3,137.6v11.4M478.6,127.4L516.0,145.6" fill="none" stroke="#e2e2e2" stroke-width="0.4" stroke-linejoin="round" stroke-linecap="round"/>
<polygon points="611.6,177.6 692.4,217.7 705.0,212.4 624.2,172.3" fill="#cfcfcf" stroke="#3a3a3a" stroke-width="0.45" stroke-linejoin="round"/>
<clipPath id="cp3"><polygon points="600.0,105.9 720.0,147.6 720.0,260.0 600.0,260.0"/></clipPath>
<g clip-path="url(#cp3)">
<path d="M631.5,116.8 L697.5,140 L704.5,212 L692.4,217.7 L611.6,177.6 Q616,142 631.5,116.8Z" fill="#2f61a3"/>
<path d="M616.5,179.5 Q618.6,147.3 636.3,113.1" fill="none" stroke="#27568f" stroke-width="5.2" stroke-linejoin="round" stroke-linecap="round" stroke-linecap="butt"/>
<path d="M616.5,179.5 Q618.6,147.3 636.3,113.1" fill="none" stroke="#4b8fd3" stroke-width="4.3" stroke-linejoin="round" stroke-linecap="round" stroke-linecap="butt"/>
<path d="M616.5,179.5 Q618.6,147.3 636.3,113.1" fill="none" stroke="#6fa9e4" stroke-width="1.3" stroke-linejoin="round" stroke-linecap="round" stroke-linecap="butt" transform="translate(-0.7,0)"/>
<path d="M623.0,182.0 Q624.9,149.4 640.7,114.7" fill="none" stroke="#27568f" stroke-width="5.2" stroke-linejoin="round" stroke-linecap="round" stroke-linecap="butt"/>
<path d="M623.0,182.0 Q624.9,149.4 640.7,114.7" fill="none" stroke="#4b8fd3" stroke-width="4.3" stroke-linejoin="round" stroke-linecap="round" stroke-linecap="butt"/>
<path d="M623.0,182.0 Q624.9,149.4 640.7,114.7" fill="none" stroke="#6fa9e4" stroke-width="1.3" stroke-linejoin="round" stroke-linecap="round" stroke-linecap="butt" transform="translate(-0.7,0)"/>
<path d="M629.5,184.6 Q631.2,151.5 645.1,116.3" fill="none" stroke="#27568f" stroke-width="5.2" stroke-linejoin="round" stroke-linecap="round" stroke-linecap="butt"/>
<path d="M629.5,184.6 Q631.2,151.5 645.1,116.3" fill="none" stroke="#4b8fd3" stroke-width="4.3" stroke-linejoin="round" stroke-linecap="round" stroke-linecap="butt"/>
<path d="M629.5,184.6 Q631.2,151.5 645.1,116.3" fill="none" stroke="#6fa9e4" stroke-width="1.3" stroke-linejoin="round" stroke-linecap="round" stroke-linecap="butt" transform="translate(-0.7,0)"/>
<path d="M636.0,187.1 Q637.4,153.5 649.5,117.9" fill="none" stroke="#27568f" stroke-width="5.2" stroke-linejoin="round" stroke-linecap="round" stroke-linecap="butt"/>
<path d="M636.0,187.1 Q637.4,153.5 649.5,117.9" fill="none" stroke="#4b8fd3" stroke-width="4.3" stroke-linejoin="round" stroke-linecap="round" stroke-linecap="butt"/>
<path d="M636.0,187.1 Q637.4,153.5 649.5,117.9" fill="none" stroke="#6fa9e4" stroke-width="1.3" stroke-linejoin="round" stroke-linecap="round" stroke-linecap="butt" transform="translate(-0.7,0)"/>
<path d="M642.5,189.7 Q643.7,155.6 654.0,119.4" fill="none" stroke="#27568f" stroke-width="5.2" stroke-linejoin="round" stroke-linecap="round" stroke-linecap="butt"/>
<path d="M642.5,189.7 Q643.7,155.6 654.0,119.4" fill="none" stroke="#4b8fd3" stroke-width="4.3" stroke-linejoin="round" stroke-linecap="round" stroke-linecap="butt"/>
<path d="M642.5,189.7 Q643.7,155.6 654.0,119.4" fill="none" stroke="#6fa9e4" stroke-width="1.3" stroke-linejoin="round" stroke-linecap="round" stroke-linecap="butt" transform="translate(-0.7,0)"/>
<path d="M649.0,192.2 Q650.0,157.7 658.4,121.0" fill="none" stroke="#27568f" stroke-width="5.2" stroke-linejoin="round" stroke-linecap="round" stroke-linecap="butt"/>
<path d="M649.0,192.2 Q650.0,157.7 658.4,121.0" fill="none" stroke="#4b8fd3" stroke-width="4.3" stroke-linejoin="round" stroke-linecap="round" stroke-linecap="butt"/>
<path d="M649.0,192.2 Q650.0,157.7 658.4,121.0" fill="none" stroke="#6fa9e4" stroke-width="1.3" stroke-linejoin="round" stroke-linecap="round" stroke-linecap="butt" transform="translate(-0.7,0)"/>
<path d="M655.5,194.7 Q656.3,159.7 662.8,122.6" fill="none" stroke="#27568f" stroke-width="5.2" stroke-linejoin="round" stroke-linecap="round" stroke-linecap="butt"/>
<path d="M655.5,194.7 Q656.3,159.7 662.8,122.6" fill="none" stroke="#4b8fd3" stroke-width="4.3" stroke-linejoin="round" stroke-linecap="round" stroke-linecap="butt"/>
<path d="M655.5,194.7 Q656.3,159.7 662.8,122.6" fill="none" stroke="#6fa9e4" stroke-width="1.3" stroke-linejoin="round" stroke-linecap="round" stroke-linecap="butt" transform="translate(-0.7,0)"/>
<path d="M662.0,197.3 Q662.5,161.8 667.2,124.2" fill="none" stroke="#27568f" stroke-width="5.2" stroke-linejoin="round" stroke-linecap="round" stroke-linecap="butt"/>
<path d="M662.0,197.3 Q662.5,161.8 667.2,124.2" fill="none" stroke="#4b8fd3" stroke-width="4.3" stroke-linejoin="round" stroke-linecap="round" stroke-linecap="butt"/>
<path d="M662.0,197.3 Q662.5,161.8 667.2,124.2" fill="none" stroke="#6fa9e4" stroke-width="1.3" stroke-linejoin="round" stroke-linecap="round" stroke-linecap="butt" transform="translate(-0.7,0)"/>
<path d="M668.5,199.8 Q668.8,163.9 671.6,125.7" fill="none" stroke="#27568f" stroke-width="5.2" stroke-linejoin="round" stroke-linecap="round" stroke-linecap="butt"/>
<path d="M668.5,199.8 Q668.8,163.9 671.6,125.7" fill="none" stroke="#4b8fd3" stroke-width="4.3" stroke-linejoin="round" stroke-linecap="round" stroke-linecap="butt"/>
<path d="M668.5,199.8 Q668.8,163.9 671.6,125.7" fill="none" stroke="#6fa9e4" stroke-width="1.3" stroke-linejoin="round" stroke-linecap="round" stroke-linecap="butt" transform="translate(-0.7,0)"/>
<path d="M675.0,202.3 Q675.1,165.9 676.0,127.3" fill="none" stroke="#27568f" stroke-width="5.2" stroke-linejoin="round" stroke-linecap="round" stroke-linecap="butt"/>
<path d="M675.0,202.3 Q675.1,165.9 676.0,127.3" fill="none" stroke="#4b8fd3" stroke-width="4.3" stroke-linejoin="round" stroke-linecap="round" stroke-linecap="butt"/>
<path d="M675.0,202.3 Q675.1,165.9 676.0,127.3" fill="none" stroke="#6fa9e4" stroke-width="1.3" stroke-linejoin="round" stroke-linecap="round" stroke-linecap="butt" transform="translate(-0.7,0)"/>
<path d="M681.5,204.9 Q681.4,168.0 680.4,128.9" fill="none" stroke="#27568f" stroke-width="5.2" stroke-linejoin="round" stroke-linecap="round" stroke-linecap="butt"/>
<path d="M681.5,204.9 Q681.4,168.0 680.4,128.9" fill="none" stroke="#4b8fd3" stroke-width="4.3" stroke-linejoin="round" stroke-linecap="round" stroke-linecap="butt"/>
<path d="M681.5,204.9 Q681.4,168.0 680.4,128.9" fill="none" stroke="#6fa9e4" stroke-width="1.3" stroke-linejoin="round" stroke-linecap="round" stroke-linecap="butt" transform="translate(-0.7,0)"/>
<path d="M688.0,207.4 Q687.7,170.1 684.8,130.5" fill="none" stroke="#27568f" stroke-width="5.2" stroke-linejoin="round" stroke-linecap="round" stroke-linecap="butt"/>
<path d="M688.0,207.4 Q687.7,170.1 684.8,130.5" fill="none" stroke="#4b8fd3" stroke-width="4.3" stroke-linejoin="round" stroke-linecap="round" stroke-linecap="butt"/>
<path d="M688.0,207.4 Q687.7,170.1 684.8,130.5" fill="none" stroke="#6fa9e4" stroke-width="1.3" stroke-linejoin="round" stroke-linecap="round" stroke-linecap="butt" transform="translate(-0.7,0)"/>
<path d="M694.5,210.0 Q693.9,172.2 689.2,132.0" fill="none" stroke="#27568f" stroke-width="5.2" stroke-linejoin="round" stroke-linecap="round" stroke-linecap="butt"/>
<path d="M694.5,210.0 Q693.9,172.2 689.2,132.0" fill="none" stroke="#4b8fd3" stroke-width="4.3" stroke-linejoin="round" stroke-linecap="round" stroke-linecap="butt"/>
<path d="M694.5,210.0 Q693.9,172.2 689.2,132.0" fill="none" stroke="#6fa9e4" stroke-width="1.3" stroke-linejoin="round" stroke-linecap="round" stroke-linecap="butt" transform="translate(-0.7,0)"/>
<path d="M701.0,212.5 Q700.2,174.2 693.6,133.6" fill="none" stroke="#27568f" stroke-width="5.2" stroke-linejoin="round" stroke-linecap="round" stroke-linecap="butt"/>
<path d="M701.0,212.5 Q700.2,174.2 693.6,133.6" fill="none" stroke="#4b8fd3" stroke-width="4.3" stroke-linejoin="round" stroke-linecap="round" stroke-linecap="butt"/>
<path d="M701.0,212.5 Q700.2,174.2 693.6,133.6" fill="none" stroke="#6fa9e4" stroke-width="1.3" stroke-linejoin="round" stroke-linecap="round" stroke-linecap="butt" transform="translate(-0.7,0)"/>
</g>
<polyline points="629.5,115.9 699.2,140.1" fill="none" stroke="#222" stroke-width="0.6" stroke-linecap="round" stroke-linejoin="round"/>
<polyline points="664.4,128.0 664.4,124.0" fill="none" stroke="#222" stroke-width="0.6" stroke-linecap="round" stroke-linejoin="round"/>
<polygon points="611.6,177.6 692.4,217.7 692.4,243.5 614.0,203.0 611.6,200.2" fill="#c2c2c2" stroke="#3a3a3a" stroke-width="0.5" stroke-linejoin="round"/>
<polygon points="611.6,177.6 692.4,217.7 692.4,231.3 611.6,191.2" fill="#d2d2d2" stroke="#3a3a3a" stroke-width="0.45" stroke-linejoin="round"/>
<path d="M613.2,177.9L616.3,179.4L616.3,186.9L613.2,185.4ZM619.0,180.8L622.1,182.3L622.1,189.8L619.0,188.3ZM624.8,183.6L627.9,185.2L627.9,192.7L624.8,191.1ZM630.5,186.5L633.6,188.0L633.6,195.5L630.5,194.0ZM636.3,189.4L639.4,190.9L639.4,198.4L636.3,196.9ZM642.1,192.2L645.2,193.8L645.2,201.3L642.1,199.7ZM647.9,195.1L651.0,196.6L651.0,204.1L647.9,202.6ZM653.6,198.0L656.7,199.5L656.7,207.0L653.6,205.5ZM659.4,200.8L662.5,202.4L662.5,209.9L659.4,208.3ZM665.2,203.7L668.3,205.2L668.3,212.7L665.2,211.2ZM670.9,206.5L674.0,208.1L674.0,215.6L670.9,214.0ZM676.7,209.4L679.8,211.0L679.8,218.5L676.7,216.9ZM682.5,212.3L685.6,213.8L685.6,221.3L682.5,219.8ZM688.3,215.1L691.4,216.7L691.4,224.2L688.3,222.6Z" fill="#4a8dd1" stroke="#27568f" stroke-width="0.4" stroke-linejoin="round" stroke-linecap="round"/>
<path d="M613.8,186.9L615.8,187.9L615.8,191.7L613.8,190.7ZM619.5,189.7L621.5,190.7L621.5,194.5L619.5,193.5ZM625.3,192.6L627.3,193.6L627.3,197.4L625.3,196.4ZM631.1,195.5L633.1,196.5L633.1,200.3L631.1,199.3ZM636.9,198.3L638.9,199.3L638.9,203.1L636.9,202.1ZM642.6,201.2L644.6,202.2L644.6,206.0L642.6,205.0ZM648.4,204.1L650.4,205.1L650.4,208.9L648.4,207.9ZM654.2,206.9L656.2,207.9L656.2,211.7L654.2,210.7ZM659.9,209.8L661.9,210.8L661.9,214.6L659.9,213.6ZM665.7,212.7L667.7,213.7L667.7,217.5L665.7,216.5ZM671.5,215.5L673.5,216.5L673.5,220.3L671.5,219.3ZM677.3,218.4L679.3,219.4L679.3,223.2L677.3,222.2ZM683.0,221.3L685.0,222.2L685.0,226.0L683.0,225.1ZM688.8,224.1L690.8,225.1L690.8,228.9L688.8,227.9Z" fill="#787878" stroke="#333" stroke-width="0.35" stroke-linejoin="round" stroke-linecap="round"/>
<polygon points="611.6,191.2 692.4,231.3 692.4,232.9 611.6,192.8" fill="#a6a6a6" stroke="#3a3a3a" stroke-width="0.35" stroke-linejoin="round"/>
<polygon points="615.2,197.0 621.7,200.2 621.7,203.8 615.2,200.6" fill="#dedede" stroke="#3a3a3a" stroke-width="0.4" stroke-linejoin="round"/>
<polygon points="681.5,229.9 688.0,233.1 688.0,236.7 681.5,233.5" fill="#dedede" stroke="#3a3a3a" stroke-width="0.4" stroke-linejoin="round"/>
<polygon points="648.8,217.2 655.2,220.5 655.2,224.9 648.8,221.6" fill="#d8d8d8" stroke="#3a3a3a" stroke-width="0.4" stroke-linejoin="round"/>
<polygon points="692.4,217.7 705.0,212.4 705.0,236.2 692.4,243.5" fill="#a4a4a4" stroke="#3a3a3a" stroke-width="0.5" stroke-linejoin="round"/>
<polyline points="692.4,231.3 705.0,225.0" fill="none" stroke="#3a3a3a" stroke-width="0.4" stroke-linecap="round" stroke-linejoin="round"/>
<polygon points="702.4,224.4 705.3,223.2 705.3,228.4 702.4,229.6" fill="#fff" stroke="#3a3a3a" stroke-width="0.35" stroke-linejoin="round"/>
<polyline points="479.2,442.6 479.2,458.6" fill="none" stroke="#4a4a4a" stroke-width="0.9" stroke-linecap="round" stroke-linejoin="round"/>
<polygon points="486.0,439.6 488.8,438.2 488.8,440.6 486.0,442.0" fill="#cfcfcf" stroke="#3a3a3a" stroke-width="0.35" stroke-linejoin="round"/>
<polygon points="491.6,436.9 494.4,435.5 494.4,437.9 491.6,439.3" fill="#cfcfcf" stroke="#3a3a3a" stroke-width="0.35" stroke-linejoin="round"/>
<polygon points="497.1,434.0 499.9,432.6 499.9,435.1 497.1,436.5" fill="#cfcfcf" stroke="#3a3a3a" stroke-width="0.35" stroke-linejoin="round"/>
<polygon points="503.1,431.0 505.9,429.6 505.9,432.0 503.1,433.4" fill="#cfcfcf" stroke="#3a3a3a" stroke-width="0.35" stroke-linejoin="round"/>
<polygon points="509.1,428.2 511.9,426.8 511.9,429.2 509.1,430.6" fill="#cfcfcf" stroke="#3a3a3a" stroke-width="0.35" stroke-linejoin="round"/>
<polygon points="481.5,442.1 495.6,450.6 495.6,468.7 482.5,462.1" fill="#e4e4e4" stroke="#3a3a3a" stroke-width="0.5" stroke-linejoin="round"/>
<polygon points="495.6,450.6 529.7,432.0 529.7,450.1 495.6,468.7" fill="#d4d4d4" stroke="#3a3a3a" stroke-width="0.5" stroke-linejoin="round"/>
<polygon points="500.6,436.3 517.8,427.8 528.7,433.0 528.7,448.3 497.9,463.6 497.9,451.1 508.6,441.9" fill="#9a9a9a" stroke="#3a3a3a" stroke-width="0.4" stroke-linejoin="round"/>
<clipPath id="cp4"><polygon points="500.6,436.3 517.8,427.8 528.7,433.0 528.7,448.3 497.9,463.6 497.9,451.1 508.6,441.9"/></clipPath>
<polygon points="497.9,463.6 528.7,448.3 528.7,444.3 497.9,459.6" fill="#c4c4c4" clip-path="url(#cp4)"/>
<polygon points="517.8,427.8 528.7,433.0 528.7,448.1 525.2,446.1 525.2,434.5 517.8,431.0" fill="#d9d9d9" stroke="#3a3a3a" stroke-width="0.3" stroke-linejoin="round" clip-path="url(#cp4)"/>
<path d="M507.6,439.3 L511.6,442.9" fill="none" stroke="#5c4a12" stroke-width="2.6" stroke-linejoin="round" stroke-linecap="round" clip-path="url(#cp4)"/>
<path d="M507.6,439.3 L511.6,442.9" fill="none" stroke="#d4b142" stroke-width="1.5" stroke-linejoin="round" stroke-linecap="round" clip-path="url(#cp4)"/>
<path d="M511.6,437.3 L515.6,440.9" fill="none" stroke="#5c4a12" stroke-width="2.6" stroke-linejoin="round" stroke-linecap="round" clip-path="url(#cp4)"/>
<path d="M511.6,437.3 L515.6,440.9" fill="none" stroke="#d4b142" stroke-width="1.5" stroke-linejoin="round" stroke-linecap="round" clip-path="url(#cp4)"/>
<path d="M515.6,435.3 L519.6,438.9" fill="none" stroke="#5c4a12" stroke-width="2.6" stroke-linejoin="round" stroke-linecap="round" clip-path="url(#cp4)"/>
<path d="M515.6,435.3 L519.6,438.9" fill="none" stroke="#d4b142" stroke-width="1.5" stroke-linejoin="round" stroke-linecap="round" clip-path="url(#cp4)"/>
<path d="M519.6,433.2 L523.6,436.9" fill="none" stroke="#5c4a12" stroke-width="2.6" stroke-linejoin="round" stroke-linecap="round" clip-path="url(#cp4)"/>
<path d="M519.6,433.2 L523.6,436.9" fill="none" stroke="#d4b142" stroke-width="1.5" stroke-linejoin="round" stroke-linecap="round" clip-path="url(#cp4)"/>
<path d="M498.6,452.1 L502.6,455.7" fill="none" stroke="#5c4a12" stroke-width="2.6" stroke-linejoin="round" stroke-linecap="round" clip-path="url(#cp4)"/>
<path d="M498.6,452.1 L502.6,455.7" fill="none" stroke="#d4b142" stroke-width="1.5" stroke-linejoin="round" stroke-linecap="round" clip-path="url(#cp4)"/>
<path d="M502.6,450.1 L506.6,453.7" fill="none" stroke="#5c4a12" stroke-width="2.6" stroke-linejoin="round" stroke-linecap="round" clip-path="url(#cp4)"/>
<path d="M502.6,450.1 L506.6,453.7" fill="none" stroke="#d4b142" stroke-width="1.5" stroke-linejoin="round" stroke-linecap="round" clip-path="url(#cp4)"/>
<path d="M506.6,448.1 L510.6,451.7" fill="none" stroke="#5c4a12" stroke-width="2.6" stroke-linejoin="round" stroke-linecap="round" clip-path="url(#cp4)"/>
<path d="M506.6,448.1 L510.6,451.7" fill="none" stroke="#d4b142" stroke-width="1.5" stroke-linejoin="round" stroke-linecap="round" clip-path="url(#cp4)"/>
<path d="M510.6,446.1 L514.6,449.7" fill="none" stroke="#5c4a12" stroke-width="2.6" stroke-linejoin="round" stroke-linecap="round" clip-path="url(#cp4)"/>
<path d="M510.6,446.1 L514.6,449.7" fill="none" stroke="#d4b142" stroke-width="1.5" stroke-linejoin="round" stroke-linecap="round" clip-path="url(#cp4)"/>
<polygon points="481.5,442.1 500.6,433.0 508.6,441.9 495.6,450.6" fill="#e3e3e3" stroke="#3a3a3a" stroke-width="0.5" stroke-linejoin="round"/>
<polygon points="500.6,433.0 518.1,425.5 529.7,432.0 528.7,433.0 517.8,427.8 500.6,436.3 504.1,438.1" fill="#e9e9e9" stroke="#3a3a3a" stroke-width="0.4" stroke-linejoin="round"/>
<polyline points="482.0,451.6 495.6,459.6" fill="none" stroke="#3a3a3a" stroke-width="0.4" stroke-linecap="round" stroke-linejoin="round"/>
<polyline points="489.0,455.6 489.0,465.1" fill="none" stroke="#3a3a3a" stroke-width="0.4" stroke-linecap="round" stroke-linejoin="round"/>
<polygon points="483.5,457.6 495.6,464.1 495.6,468.7 483.5,462.6" fill="#dadada" stroke="#3a3a3a" stroke-width="0.4" stroke-linejoin="round"/>
<polygon points="549.0,483.0 572.2,469.5 585.0,481.0 597.0,491.0 611.8,499.6 590.5,515.4 577.0,507.8 562.0,499.3 549.0,492.5" fill="#86101a"/>
<path d="M551.6,487.6 C564.6,494.6 582.1,500.3 598.6,510.3" fill="none" stroke="#86101a" stroke-width="5.6" stroke-linejoin="round" stroke-linecap="round" stroke-linecap="butt"/>
<path d="M551.6,487.6 C564.6,494.6 582.1,500.3 598.6,510.3" fill="none" stroke="#dc2430" stroke-width="4.5" stroke-linejoin="round" stroke-linecap="round" stroke-linecap="butt"/>
<path d="M551.6,487.6 C564.6,494.6 582.1,500.3 598.6,510.3" fill="none" stroke="#ee4a52" stroke-width="1.2" stroke-linejoin="round" stroke-linecap="round" stroke-linecap="butt" transform="translate(0.3,-0.9)"/>
<path d="M556.1,484.6 C569.1,491.6 578.0,503.2 594.5,513.2" fill="none" stroke="#86101a" stroke-width="5.6" stroke-linejoin="round" stroke-linecap="round" stroke-linecap="butt"/>
<path d="M556.1,484.6 C569.1,491.6 578.0,503.2 594.5,513.2" fill="none" stroke="#dc2430" stroke-width="4.5" stroke-linejoin="round" stroke-linecap="round" stroke-linecap="butt"/>
<path d="M556.1,484.6 C569.1,491.6 578.0,503.2 594.5,513.2" fill="none" stroke="#ee4a52" stroke-width="1.2" stroke-linejoin="round" stroke-linecap="round" stroke-linecap="butt" transform="translate(0.3,-0.9)"/>
<path d="M560.6,481.6 C573.6,488.6 590.3,494.5 606.8,504.5" fill="none" stroke="#86101a" stroke-width="5.6" stroke-linejoin="round" stroke-linecap="round" stroke-linecap="butt"/>
<path d="M560.6,481.6 C573.6,488.6 590.3,494.5 606.8,504.5" fill="none" stroke="#dc2430" stroke-width="4.5" stroke-linejoin="round" stroke-linecap="round" stroke-linecap="butt"/>
<path d="M560.6,481.6 C573.6,488.6 590.3,494.5 606.8,504.5" fill="none" stroke="#ee4a52" stroke-width="1.2" stroke-linejoin="round" stroke-linecap="round" stroke-linecap="butt" transform="translate(0.3,-0.9)"/>
<path d="M565.1,478.6 C578.1,485.6 586.2,497.4 602.7,507.4" fill="none" stroke="#86101a" stroke-width="5.6" stroke-linejoin="round" stroke-linecap="round" stroke-linecap="butt"/>
<path d="M565.1,478.6 C578.1,485.6 586.2,497.4 602.7,507.4" fill="none" stroke="#dc2430" stroke-width="4.5" stroke-linejoin="round" stroke-linecap="round" stroke-linecap="butt"/>
<path d="M565.1,478.6 C578.1,485.6 586.2,497.4 602.7,507.4" fill="none" stroke="#ee4a52" stroke-width="1.2" stroke-linejoin="round" stroke-linecap="round" stroke-linecap="butt" transform="translate(0.3,-0.9)"/>
<path d="M569.6,475.6 C582.6,482.6 594.4,491.6 610.9,501.6" fill="none" stroke="#86101a" stroke-width="5.6" stroke-linejoin="round" stroke-linecap="round" stroke-linecap="butt"/>
<path d="M569.6,475.6 C582.6,482.6 594.4,491.6 610.9,501.6" fill="none" stroke="#dc2430" stroke-width="4.5" stroke-linejoin="round" stroke-linecap="round" stroke-linecap="butt"/>
<path d="M569.6,475.6 C582.6,482.6 594.4,491.6 610.9,501.6" fill="none" stroke="#ee4a52" stroke-width="1.2" stroke-linejoin="round" stroke-linecap="round" stroke-linecap="butt" transform="translate(0.3,-0.9)"/>
<polygon points="589.5,516.2 613.0,498.7 618.0,504.0 595.0,521.0" fill="#fff"/>
<polyline points="588.6,516.6 613.2,498.4" fill="none" stroke="#222" stroke-width="0.6" stroke-linecap="round" stroke-linejoin="round"/>
<polyline points="600.0,508.2 601.5,510.0" fill="none" stroke="#222" stroke-width="0.6" stroke-linecap="round" stroke-linejoin="round"/>
<polygon points="531.9,471.5 547.7,480.3 547.7,491.3 531.9,482.5" fill="#d8d8d8" stroke="#3a3a3a" stroke-width="0.5" stroke-linejoin="round"/>
<polygon points="547.7,480.3 572.4,466.4 572.4,472.9 553.7,483.8 553.7,488.3 547.7,491.3" fill="#a8a8a8" stroke="#3a3a3a" stroke-width="0.5" stroke-linejoin="round"/>
<polygon points="531.9,471.5 556.6,458.2 572.4,466.4 547.7,480.3" fill="#d4d4d4" stroke="#3a3a3a" stroke-width="0.5" stroke-linejoin="round"/>
<polygon points="550.2,478.0 543.6,474.5 546.0,473.2 552.6,476.7" fill="#8a8a8a" stroke="#3a3a3a" stroke-width="0.3" stroke-linejoin="round"/>
<circle cx="548.4" cy="476.9" r="0.7" fill="#333"/>
<polygon points="555.5,475.0 548.9,471.5 551.3,470.2 557.9,473.7" fill="#8a8a8a" stroke="#3a3a3a" stroke-width="0.3" stroke-linejoin="round"/>
<circle cx="553.7" cy="473.9" r="0.7" fill="#333"/>
<polygon points="560.8,472.1 554.2,468.6 556.6,467.3 563.2,470.8" fill="#8a8a8a" stroke="#3a3a3a" stroke-width="0.3" stroke-linejoin="round"/>
<circle cx="559.0" cy="471.0" r="0.7" fill="#333"/>
<polygon points="566.0,469.1 559.4,465.6 561.8,464.3 568.4,467.8" fill="#8a8a8a" stroke="#3a3a3a" stroke-width="0.3" stroke-linejoin="round"/>
<circle cx="564.2" cy="468.0" r="0.7" fill="#333"/>
<polygon points="541.5,462.6 546.5,459.9 549.5,461.3 544.5,464.0" fill="#e8e8e8" stroke="#3a3a3a" stroke-width="0.4" stroke-linejoin="round"/>
<polygon points="541.5,462.6 544.5,464.0 544.5,466.2 541.5,464.8" fill="#cfcfcf" stroke="#3a3a3a" stroke-width="0.4" stroke-linejoin="round"/>
<polygon points="531.9,478.0 534.4,479.3 534.4,482.2 531.9,480.9" fill="#efefef" stroke="#3a3a3a" stroke-width="0.4" stroke-linejoin="round"/>
<g class="lbl" style="filter:grayscale(1)">
<text x="373.0" y="145.4">87760</text>
<text x="498.5" y="104.5">79108/79109</text>
<text x="507.5" y="211.1">87758</text>
<text x="402.5" y="300.1">87263</text>
<text x="298.8" y="369.2">87759</text>
<text x="418.2" y="260.3">79109</text>
<text x="346.6" y="181.2">79107</text>
<text x="528.2" y="381.8">87381</text>
<text x="522.6" y="422.9">78046</text>
<text x="567.6" y="456.2">78045</text>
<text x="729.9" y="365.6">87340</text>
<text x="717.5" y="269.5">87832</text>
<text x="715.2" y="227.0">51110</text>
<text x="122.4" y="238.0">87985</text>
<text x="130.4" y="286.0">87982</text>
<text x="211.2" y="352.9">87760</text>
<text x="119.7" y="406.4">87368</text>
<text x="371.0" y="436.0">87760</text>
<text x="291.4" y="489.4">87264</text>
</g>
</svg>
</body></html>
